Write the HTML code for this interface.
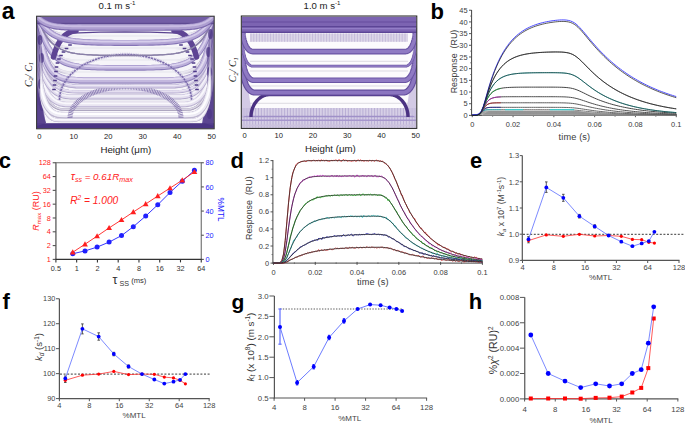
<!DOCTYPE html>
<html><head><meta charset="utf-8"><title>Figure</title>
<style>html,body{margin:0;padding:0;background:#fff;}body{width:685px;height:424px;overflow:hidden;font-family:"Liberation Sans", sans-serif;}svg{display:block;}</style>
</head><body>
<svg width="685" height="424" viewBox="0 0 685 424">
<rect width="685" height="424" fill="#fff"/>
<text x="1.80" y="18.90" font-family="Liberation Sans" font-size="23" font-weight="bold" font-style="normal" text-anchor="start" fill="#000" >a</text>
<text x="430.60" y="18.90" font-family="Liberation Sans" font-size="22" font-weight="bold" font-style="normal" text-anchor="start" fill="#000" >b</text>
<text x="-1.20" y="167.70" font-family="Liberation Sans" font-size="22" font-weight="bold" font-style="normal" text-anchor="start" fill="#000" >c</text>
<text x="230.60" y="167.70" font-family="Liberation Sans" font-size="22" font-weight="bold" font-style="normal" text-anchor="start" fill="#000" >d</text>
<text x="470.00" y="167.50" font-family="Liberation Sans" font-size="22" font-weight="bold" font-style="normal" text-anchor="start" fill="#000" >e</text>
<text x="2.60" y="308.80" font-family="Liberation Sans" font-size="22" font-weight="bold" font-style="normal" text-anchor="start" fill="#000" >f</text>
<text x="231.50" y="308.60" font-family="Liberation Sans" font-size="21" font-weight="bold" font-style="normal" text-anchor="start" fill="#000" >g</text>
<text x="468.80" y="309.40" font-family="Liberation Sans" font-size="22" font-weight="bold" font-style="normal" text-anchor="start" fill="#000" >h</text>
<clipPath id="ca1"><rect x="37" y="16.6" width="176.8" height="111.8"/></clipPath>
<g clip-path="url(#ca1)">
<rect x="37" y="16.6" width="177" height="112" fill="#f6f5f9"/>
<line x1="58" y1="36" x2="192" y2="36" stroke="#dcdae2" stroke-width="0.6"/>
<line x1="58" y1="48" x2="192" y2="48" stroke="#dcdae2" stroke-width="0.6"/>
<line x1="58" y1="60" x2="192" y2="60" stroke="#dcdae2" stroke-width="0.6"/>
<line x1="58" y1="72" x2="192" y2="72" stroke="#dcdae2" stroke-width="0.6"/>
<line x1="58" y1="86" x2="192" y2="86" stroke="#dcdae2" stroke-width="0.6"/>
<line x1="58" y1="92" x2="192" y2="92" stroke="#dcdae2" stroke-width="0.6"/>
<line x1="58" y1="100" x2="192" y2="100" stroke="#dcdae2" stroke-width="0.6"/>
<line x1="58" y1="106" x2="192" y2="106" stroke="#dcdae2" stroke-width="0.6"/>
<path d="M37,66 C39,74 42,80 42,94 C42,106 43,114 46,123 L37,128 Z" fill="#5a4490"/>
<path d="M214,24 C209,34 205,46 206.5,66 C208,88 205,106 202,124 L214,128 Z" fill="#5e4894"/>
<ellipse cx="40.5" cy="100" rx="3" ry="6" fill="#4e3886"/>
<ellipse cx="209" cy="50" rx="3.2" ry="5" fill="#4e3886"/>
<ellipse cx="209.5" cy="88" rx="3" ry="6" fill="#4e3886"/>
<rect x="37" y="123.2" width="177" height="6" fill="#4a3484"/>
<path d="M72.00,33.20 L100.00,32.20 L125.00,31.90 L150.00,32.20 L178.00,33.20" fill="none" stroke="#5a4390" stroke-width="1.3" opacity="1.0"/>
<linearGradient id="fadeG" gradientUnits="userSpaceOnUse" x1="37" y1="0" x2="214" y2="0"><stop offset="0" stop-color="#fff"/><stop offset="0.09" stop-color="#fff"/><stop offset="0.22" stop-color="#000"/><stop offset="0.78" stop-color="#000"/><stop offset="0.91" stop-color="#fff"/><stop offset="1" stop-color="#fff"/></linearGradient>
<mask id="fadeM" maskUnits="userSpaceOnUse" x="30" y="10" width="190" height="125"><rect x="30" y="10" width="190" height="125" fill="url(#fadeG)"/></mask>
<g mask="url(#fadeM)">
<path d="M37.40,17.00 L37.52,17.22 L37.81,17.71 L38.21,18.38 L38.72,19.20 L39.32,20.13 L40.02,21.14 L40.81,22.20 L41.68,23.28 L42.63,24.38 L43.65,25.45 L44.75,26.51 L45.92,27.52 L47.17,28.48 L48.48,29.38 L49.86,30.22 L51.30,30.99 L52.81,31.70 L54.38,32.34 L56.02,32.91 L57.71,33.42 L59.47,33.88 L61.29,34.28 L63.16,34.63 L65.09,34.93 L67.09,35.19 L69.13,35.41 L71.23,35.60 L73.39,35.76 L75.60,35.90 L77.87,36.01 L80.19,36.10 L82.56,36.18 L84.99,36.24 L87.47,36.29 L90.00,36.34 L92.58,36.37 L95.21,36.40 L97.89,36.42 L100.62,36.44 L103.40,36.45 L147.40,36.45 L150.18,36.44 L152.91,36.42 L155.59,36.40 L158.22,36.37 L160.80,36.34 L163.33,36.29 L165.81,36.24 L168.24,36.18 L170.61,36.10 L172.93,36.01 L175.20,35.90 L177.41,35.76 L179.57,35.60 L181.67,35.41 L183.71,35.19 L185.71,34.93 L187.64,34.63 L189.51,34.28 L191.33,33.88 L193.09,33.42 L194.78,32.91 L196.42,32.34 L197.99,31.70 L199.50,30.99 L200.94,30.22 L202.32,29.38 L203.63,28.48 L204.88,27.52 L206.05,26.51 L207.15,25.45 L208.17,24.38 L209.12,23.28 L209.99,22.20 L210.78,21.14 L211.48,20.13 L212.08,19.20 L212.59,18.38 L212.99,17.71 L213.28,17.22 L213.40,17.00" fill="none" stroke="#a69dbb" stroke-width="3.0" stroke-linejoin="round" opacity="0.85"/>
<path d="M37.40,17.00 L37.52,17.22 L37.81,17.71 L38.21,18.38 L38.72,19.20 L39.32,20.13 L40.02,21.14 L40.81,22.20 L41.68,23.28 L42.63,24.38 L43.65,25.45 L44.75,26.51 L45.92,27.52 L47.17,28.48 L48.48,29.38 L49.86,30.22 L51.30,30.99 L52.81,31.70 L54.38,32.34 L56.02,32.91 L57.71,33.42 L59.47,33.88 L61.29,34.28 L63.16,34.63 L65.09,34.93 L67.09,35.19 L69.13,35.41 L71.23,35.60 L73.39,35.76 L75.60,35.90 L77.87,36.01 L80.19,36.10 L82.56,36.18 L84.99,36.24 L87.47,36.29 L90.00,36.34 L92.58,36.37 L95.21,36.40 L97.89,36.42 L100.62,36.44 L103.40,36.45 L147.40,36.45 L150.18,36.44 L152.91,36.42 L155.59,36.40 L158.22,36.37 L160.80,36.34 L163.33,36.29 L165.81,36.24 L168.24,36.18 L170.61,36.10 L172.93,36.01 L175.20,35.90 L177.41,35.76 L179.57,35.60 L181.67,35.41 L183.71,35.19 L185.71,34.93 L187.64,34.63 L189.51,34.28 L191.33,33.88 L193.09,33.42 L194.78,32.91 L196.42,32.34 L197.99,31.70 L199.50,30.99 L200.94,30.22 L202.32,29.38 L203.63,28.48 L204.88,27.52 L206.05,26.51 L207.15,25.45 L208.17,24.38 L209.12,23.28 L209.99,22.20 L210.78,21.14 L211.48,20.13 L212.08,19.20 L212.59,18.38 L212.99,17.71 L213.28,17.22 L213.40,17.00" fill="none" stroke="#d8d2e4" stroke-width="2.34" stroke-linejoin="round" opacity="0.85" transform="translate(0,-0.24)"/>
<path d="M37.40,17.00 L37.52,17.22 L37.81,17.71 L38.21,18.38 L38.72,19.20 L39.32,20.13 L40.02,21.14 L40.81,22.20 L41.68,23.28 L42.63,24.38 L43.65,25.45 L44.75,26.51 L45.92,27.52 L47.17,28.48 L48.48,29.38 L49.86,30.22 L51.30,30.99 L52.81,31.70 L54.38,32.34 L56.02,32.91 L57.71,33.42 L59.47,33.88 L61.29,34.28 L63.16,34.63 L65.09,34.93 L67.09,35.19 L69.13,35.41 L71.23,35.60 L73.39,35.76 L75.60,35.90 L77.87,36.01 L80.19,36.10 L82.56,36.18 L84.99,36.24 L87.47,36.29 L90.00,36.34 L92.58,36.37 L95.21,36.40 L97.89,36.42 L100.62,36.44 L103.40,36.45 L147.40,36.45 L150.18,36.44 L152.91,36.42 L155.59,36.40 L158.22,36.37 L160.80,36.34 L163.33,36.29 L165.81,36.24 L168.24,36.18 L170.61,36.10 L172.93,36.01 L175.20,35.90 L177.41,35.76 L179.57,35.60 L181.67,35.41 L183.71,35.19 L185.71,34.93 L187.64,34.63 L189.51,34.28 L191.33,33.88 L193.09,33.42 L194.78,32.91 L196.42,32.34 L197.99,31.70 L199.50,30.99 L200.94,30.22 L202.32,29.38 L203.63,28.48 L204.88,27.52 L206.05,26.51 L207.15,25.45 L208.17,24.38 L209.12,23.28 L209.99,22.20 L210.78,21.14 L211.48,20.13 L212.08,19.20 L212.59,18.38 L212.99,17.71 L213.28,17.22 L213.40,17.00" fill="none" stroke="#ebe8f2" stroke-width="0.90" stroke-linejoin="round" opacity="0.85" transform="translate(0,-0.60)"/>
<path d="M37.40,17.00 L37.51,17.37 L37.77,18.18 L38.13,19.30 L38.60,20.67 L39.15,22.22 L39.79,23.90 L40.50,25.66 L41.29,27.47 L42.15,29.29 L43.08,31.09 L44.08,32.84 L45.15,34.53 L46.28,36.13 L47.47,37.63 L48.72,39.03 L50.04,40.32 L51.41,41.49 L52.84,42.56 L54.33,43.52 L55.87,44.37 L57.46,45.13 L59.12,45.79 L60.82,46.38 L62.58,46.88 L64.39,47.31 L66.25,47.68 L68.16,48.00 L70.12,48.27 L72.13,48.49 L74.19,48.68 L76.30,48.84 L78.46,48.96 L80.66,49.07 L82.92,49.16 L85.22,49.23 L87.56,49.28 L89.95,49.33 L92.39,49.37 L94.87,49.40 L97.40,49.42 L153.40,49.42 L155.93,49.40 L158.41,49.37 L160.85,49.33 L163.24,49.28 L165.58,49.23 L167.88,49.16 L170.14,49.07 L172.34,48.96 L174.50,48.84 L176.61,48.68 L178.67,48.49 L180.68,48.27 L182.64,48.00 L184.55,47.68 L186.41,47.31 L188.22,46.88 L189.98,46.38 L191.68,45.79 L193.34,45.13 L194.93,44.37 L196.47,43.52 L197.96,42.56 L199.39,41.49 L200.76,40.32 L202.08,39.03 L203.33,37.63 L204.52,36.13 L205.65,34.53 L206.72,32.84 L207.72,31.09 L208.65,29.29 L209.51,27.47 L210.30,25.66 L211.01,23.90 L211.65,22.22 L212.20,20.67 L212.67,19.30 L213.03,18.18 L213.29,17.37 L213.40,17.00" fill="none" stroke="#a69dbb" stroke-width="3.0" stroke-linejoin="round" opacity="0.85"/>
<path d="M37.40,17.00 L37.51,17.37 L37.77,18.18 L38.13,19.30 L38.60,20.67 L39.15,22.22 L39.79,23.90 L40.50,25.66 L41.29,27.47 L42.15,29.29 L43.08,31.09 L44.08,32.84 L45.15,34.53 L46.28,36.13 L47.47,37.63 L48.72,39.03 L50.04,40.32 L51.41,41.49 L52.84,42.56 L54.33,43.52 L55.87,44.37 L57.46,45.13 L59.12,45.79 L60.82,46.38 L62.58,46.88 L64.39,47.31 L66.25,47.68 L68.16,48.00 L70.12,48.27 L72.13,48.49 L74.19,48.68 L76.30,48.84 L78.46,48.96 L80.66,49.07 L82.92,49.16 L85.22,49.23 L87.56,49.28 L89.95,49.33 L92.39,49.37 L94.87,49.40 L97.40,49.42 L153.40,49.42 L155.93,49.40 L158.41,49.37 L160.85,49.33 L163.24,49.28 L165.58,49.23 L167.88,49.16 L170.14,49.07 L172.34,48.96 L174.50,48.84 L176.61,48.68 L178.67,48.49 L180.68,48.27 L182.64,48.00 L184.55,47.68 L186.41,47.31 L188.22,46.88 L189.98,46.38 L191.68,45.79 L193.34,45.13 L194.93,44.37 L196.47,43.52 L197.96,42.56 L199.39,41.49 L200.76,40.32 L202.08,39.03 L203.33,37.63 L204.52,36.13 L205.65,34.53 L206.72,32.84 L207.72,31.09 L208.65,29.29 L209.51,27.47 L210.30,25.66 L211.01,23.90 L211.65,22.22 L212.20,20.67 L212.67,19.30 L213.03,18.18 L213.29,17.37 L213.40,17.00" fill="none" stroke="#d8d2e4" stroke-width="2.34" stroke-linejoin="round" opacity="0.85" transform="translate(0,-0.24)"/>
<path d="M37.40,17.00 L37.51,17.37 L37.77,18.18 L38.13,19.30 L38.60,20.67 L39.15,22.22 L39.79,23.90 L40.50,25.66 L41.29,27.47 L42.15,29.29 L43.08,31.09 L44.08,32.84 L45.15,34.53 L46.28,36.13 L47.47,37.63 L48.72,39.03 L50.04,40.32 L51.41,41.49 L52.84,42.56 L54.33,43.52 L55.87,44.37 L57.46,45.13 L59.12,45.79 L60.82,46.38 L62.58,46.88 L64.39,47.31 L66.25,47.68 L68.16,48.00 L70.12,48.27 L72.13,48.49 L74.19,48.68 L76.30,48.84 L78.46,48.96 L80.66,49.07 L82.92,49.16 L85.22,49.23 L87.56,49.28 L89.95,49.33 L92.39,49.37 L94.87,49.40 L97.40,49.42 L153.40,49.42 L155.93,49.40 L158.41,49.37 L160.85,49.33 L163.24,49.28 L165.58,49.23 L167.88,49.16 L170.14,49.07 L172.34,48.96 L174.50,48.84 L176.61,48.68 L178.67,48.49 L180.68,48.27 L182.64,48.00 L184.55,47.68 L186.41,47.31 L188.22,46.88 L189.98,46.38 L191.68,45.79 L193.34,45.13 L194.93,44.37 L196.47,43.52 L197.96,42.56 L199.39,41.49 L200.76,40.32 L202.08,39.03 L203.33,37.63 L204.52,36.13 L205.65,34.53 L206.72,32.84 L207.72,31.09 L208.65,29.29 L209.51,27.47 L210.30,25.66 L211.01,23.90 L211.65,22.22 L212.20,20.67 L212.67,19.30 L213.03,18.18 L213.29,17.37 L213.40,17.00" fill="none" stroke="#ebe8f2" stroke-width="0.90" stroke-linejoin="round" opacity="0.85" transform="translate(0,-0.60)"/>
<path d="M37.40,17.00 L37.50,17.50 L37.73,18.61 L38.06,20.15 L38.48,22.02 L38.97,24.14 L39.55,26.44 L40.19,28.86 L40.90,31.34 L41.68,33.83 L42.52,36.29 L43.42,38.69 L44.37,41.00 L45.39,43.19 L46.46,45.24 L47.59,47.16 L48.77,48.92 L50.01,50.54 L51.29,52.00 L52.63,53.31 L54.02,54.48 L55.46,55.52 L56.94,56.43 L58.48,57.22 L60.06,57.91 L61.69,58.51 L63.36,59.01 L65.08,59.45 L66.85,59.81 L68.66,60.12 L70.51,60.38 L72.41,60.59 L74.35,60.77 L76.34,60.91 L78.36,61.03 L80.43,61.13 L82.54,61.20 L84.70,61.27 L86.89,61.32 L89.13,61.36 L91.40,61.39 L159.40,61.39 L161.67,61.36 L163.91,61.32 L166.10,61.27 L168.26,61.20 L170.37,61.13 L172.44,61.03 L174.46,60.91 L176.45,60.77 L178.39,60.59 L180.29,60.38 L182.14,60.12 L183.95,59.81 L185.72,59.45 L187.44,59.01 L189.11,58.51 L190.74,57.91 L192.32,57.22 L193.86,56.43 L195.34,55.52 L196.78,54.48 L198.17,53.31 L199.51,52.00 L200.79,50.54 L202.03,48.92 L203.21,47.16 L204.34,45.24 L205.41,43.19 L206.43,41.00 L207.38,38.69 L208.28,36.29 L209.12,33.83 L209.90,31.34 L210.61,28.86 L211.25,26.44 L211.83,24.14 L212.32,22.02 L212.74,20.15 L213.07,18.61 L213.30,17.50 L213.40,17.00" fill="none" stroke="#a69dbb" stroke-width="3.2" stroke-linejoin="round" opacity="0.85"/>
<path d="M37.40,17.00 L37.50,17.50 L37.73,18.61 L38.06,20.15 L38.48,22.02 L38.97,24.14 L39.55,26.44 L40.19,28.86 L40.90,31.34 L41.68,33.83 L42.52,36.29 L43.42,38.69 L44.37,41.00 L45.39,43.19 L46.46,45.24 L47.59,47.16 L48.77,48.92 L50.01,50.54 L51.29,52.00 L52.63,53.31 L54.02,54.48 L55.46,55.52 L56.94,56.43 L58.48,57.22 L60.06,57.91 L61.69,58.51 L63.36,59.01 L65.08,59.45 L66.85,59.81 L68.66,60.12 L70.51,60.38 L72.41,60.59 L74.35,60.77 L76.34,60.91 L78.36,61.03 L80.43,61.13 L82.54,61.20 L84.70,61.27 L86.89,61.32 L89.13,61.36 L91.40,61.39 L159.40,61.39 L161.67,61.36 L163.91,61.32 L166.10,61.27 L168.26,61.20 L170.37,61.13 L172.44,61.03 L174.46,60.91 L176.45,60.77 L178.39,60.59 L180.29,60.38 L182.14,60.12 L183.95,59.81 L185.72,59.45 L187.44,59.01 L189.11,58.51 L190.74,57.91 L192.32,57.22 L193.86,56.43 L195.34,55.52 L196.78,54.48 L198.17,53.31 L199.51,52.00 L200.79,50.54 L202.03,48.92 L203.21,47.16 L204.34,45.24 L205.41,43.19 L206.43,41.00 L207.38,38.69 L208.28,36.29 L209.12,33.83 L209.90,31.34 L210.61,28.86 L211.25,26.44 L211.83,24.14 L212.32,22.02 L212.74,20.15 L213.07,18.61 L213.30,17.50 L213.40,17.00" fill="none" stroke="#d8d2e4" stroke-width="2.50" stroke-linejoin="round" opacity="0.85" transform="translate(0,-0.26)"/>
<path d="M37.40,17.00 L37.50,17.50 L37.73,18.61 L38.06,20.15 L38.48,22.02 L38.97,24.14 L39.55,26.44 L40.19,28.86 L40.90,31.34 L41.68,33.83 L42.52,36.29 L43.42,38.69 L44.37,41.00 L45.39,43.19 L46.46,45.24 L47.59,47.16 L48.77,48.92 L50.01,50.54 L51.29,52.00 L52.63,53.31 L54.02,54.48 L55.46,55.52 L56.94,56.43 L58.48,57.22 L60.06,57.91 L61.69,58.51 L63.36,59.01 L65.08,59.45 L66.85,59.81 L68.66,60.12 L70.51,60.38 L72.41,60.59 L74.35,60.77 L76.34,60.91 L78.36,61.03 L80.43,61.13 L82.54,61.20 L84.70,61.27 L86.89,61.32 L89.13,61.36 L91.40,61.39 L159.40,61.39 L161.67,61.36 L163.91,61.32 L166.10,61.27 L168.26,61.20 L170.37,61.13 L172.44,61.03 L174.46,60.91 L176.45,60.77 L178.39,60.59 L180.29,60.38 L182.14,60.12 L183.95,59.81 L185.72,59.45 L187.44,59.01 L189.11,58.51 L190.74,57.91 L192.32,57.22 L193.86,56.43 L195.34,55.52 L196.78,54.48 L198.17,53.31 L199.51,52.00 L200.79,50.54 L202.03,48.92 L203.21,47.16 L204.34,45.24 L205.41,43.19 L206.43,41.00 L207.38,38.69 L208.28,36.29 L209.12,33.83 L209.90,31.34 L210.61,28.86 L211.25,26.44 L211.83,24.14 L212.32,22.02 L212.74,20.15 L213.07,18.61 L213.30,17.50 L213.40,17.00" fill="none" stroke="#ebe8f2" stroke-width="0.96" stroke-linejoin="round" opacity="0.85" transform="translate(0,-0.64)"/>
<path d="M37.40,17.00 L37.49,17.64 L37.69,19.06 L37.99,21.03 L38.36,23.43 L38.80,26.15 L39.31,29.10 L39.88,32.19 L40.51,35.37 L41.20,38.56 L41.95,41.71 L42.75,44.79 L43.60,47.74 L44.50,50.54 L45.46,53.18 L46.46,55.63 L47.51,57.89 L48.61,59.96 L49.75,61.83 L50.94,63.51 L52.17,65.01 L53.45,66.34 L54.77,67.50 L56.14,68.52 L57.54,69.40 L58.99,70.16 L60.48,70.82 L62.01,71.37 L63.58,71.84 L65.19,72.23 L66.83,72.56 L68.52,72.83 L70.25,73.06 L72.01,73.25 L73.81,73.40 L75.65,73.52 L77.53,73.62 L79.44,73.70 L81.39,73.77 L83.38,73.82 L85.40,73.86 L165.40,73.86 L167.42,73.82 L169.41,73.77 L171.36,73.70 L173.27,73.62 L175.15,73.52 L176.99,73.40 L178.79,73.25 L180.55,73.06 L182.28,72.83 L183.97,72.56 L185.61,72.23 L187.22,71.84 L188.79,71.37 L190.32,70.82 L191.81,70.16 L193.26,69.40 L194.66,68.52 L196.03,67.50 L197.35,66.34 L198.63,65.01 L199.86,63.51 L201.05,61.83 L202.19,59.96 L203.29,57.89 L204.34,55.63 L205.34,53.18 L206.30,50.54 L207.20,47.74 L208.05,44.79 L208.85,41.71 L209.60,38.56 L210.29,35.37 L210.92,32.19 L211.49,29.10 L212.00,26.15 L212.44,23.43 L212.81,21.03 L213.11,19.06 L213.31,17.64 L213.40,17.00" fill="none" stroke="#a69dbb" stroke-width="3.4" stroke-linejoin="round" opacity="0.85"/>
<path d="M37.40,17.00 L37.49,17.64 L37.69,19.06 L37.99,21.03 L38.36,23.43 L38.80,26.15 L39.31,29.10 L39.88,32.19 L40.51,35.37 L41.20,38.56 L41.95,41.71 L42.75,44.79 L43.60,47.74 L44.50,50.54 L45.46,53.18 L46.46,55.63 L47.51,57.89 L48.61,59.96 L49.75,61.83 L50.94,63.51 L52.17,65.01 L53.45,66.34 L54.77,67.50 L56.14,68.52 L57.54,69.40 L58.99,70.16 L60.48,70.82 L62.01,71.37 L63.58,71.84 L65.19,72.23 L66.83,72.56 L68.52,72.83 L70.25,73.06 L72.01,73.25 L73.81,73.40 L75.65,73.52 L77.53,73.62 L79.44,73.70 L81.39,73.77 L83.38,73.82 L85.40,73.86 L165.40,73.86 L167.42,73.82 L169.41,73.77 L171.36,73.70 L173.27,73.62 L175.15,73.52 L176.99,73.40 L178.79,73.25 L180.55,73.06 L182.28,72.83 L183.97,72.56 L185.61,72.23 L187.22,71.84 L188.79,71.37 L190.32,70.82 L191.81,70.16 L193.26,69.40 L194.66,68.52 L196.03,67.50 L197.35,66.34 L198.63,65.01 L199.86,63.51 L201.05,61.83 L202.19,59.96 L203.29,57.89 L204.34,55.63 L205.34,53.18 L206.30,50.54 L207.20,47.74 L208.05,44.79 L208.85,41.71 L209.60,38.56 L210.29,35.37 L210.92,32.19 L211.49,29.10 L212.00,26.15 L212.44,23.43 L212.81,21.03 L213.11,19.06 L213.31,17.64 L213.40,17.00" fill="none" stroke="#d8d2e4" stroke-width="2.65" stroke-linejoin="round" opacity="0.85" transform="translate(0,-0.27)"/>
<path d="M37.40,17.00 L37.49,17.64 L37.69,19.06 L37.99,21.03 L38.36,23.43 L38.80,26.15 L39.31,29.10 L39.88,32.19 L40.51,35.37 L41.20,38.56 L41.95,41.71 L42.75,44.79 L43.60,47.74 L44.50,50.54 L45.46,53.18 L46.46,55.63 L47.51,57.89 L48.61,59.96 L49.75,61.83 L50.94,63.51 L52.17,65.01 L53.45,66.34 L54.77,67.50 L56.14,68.52 L57.54,69.40 L58.99,70.16 L60.48,70.82 L62.01,71.37 L63.58,71.84 L65.19,72.23 L66.83,72.56 L68.52,72.83 L70.25,73.06 L72.01,73.25 L73.81,73.40 L75.65,73.52 L77.53,73.62 L79.44,73.70 L81.39,73.77 L83.38,73.82 L85.40,73.86 L165.40,73.86 L167.42,73.82 L169.41,73.77 L171.36,73.70 L173.27,73.62 L175.15,73.52 L176.99,73.40 L178.79,73.25 L180.55,73.06 L182.28,72.83 L183.97,72.56 L185.61,72.23 L187.22,71.84 L188.79,71.37 L190.32,70.82 L191.81,70.16 L193.26,69.40 L194.66,68.52 L196.03,67.50 L197.35,66.34 L198.63,65.01 L199.86,63.51 L201.05,61.83 L202.19,59.96 L203.29,57.89 L204.34,55.63 L205.34,53.18 L206.30,50.54 L207.20,47.74 L208.05,44.79 L208.85,41.71 L209.60,38.56 L210.29,35.37 L210.92,32.19 L211.49,29.10 L212.00,26.15 L212.44,23.43 L212.81,21.03 L213.11,19.06 L213.31,17.64 L213.40,17.00" fill="none" stroke="#ebe8f2" stroke-width="1.02" stroke-linejoin="round" opacity="0.85" transform="translate(0,-0.68)"/>
<path d="M37.40,17.00 L37.48,17.78 L37.66,19.51 L37.91,21.92 L38.24,24.84 L38.62,28.15 L39.07,31.75 L39.57,35.52 L40.12,39.40 L40.73,43.29 L41.38,47.13 L42.08,50.88 L42.82,54.48 L43.62,57.90 L44.45,61.11 L45.33,64.10 L46.25,66.86 L47.21,69.38 L48.21,71.66 L49.25,73.71 L50.33,75.54 L51.44,77.15 L52.60,78.58 L53.79,79.82 L55.02,80.90 L56.29,81.82 L57.59,82.62 L58.93,83.29 L60.30,83.86 L61.71,84.34 L63.15,84.75 L64.63,85.08 L66.14,85.35 L67.68,85.58 L69.26,85.77 L70.87,85.92 L72.51,86.04 L74.19,86.14 L75.89,86.22 L77.63,86.28 L79.40,86.33 L171.40,86.33 L173.17,86.28 L174.91,86.22 L176.61,86.14 L178.29,86.04 L179.93,85.92 L181.54,85.77 L183.12,85.58 L184.66,85.35 L186.17,85.08 L187.65,84.75 L189.09,84.34 L190.50,83.86 L191.87,83.29 L193.21,82.62 L194.51,81.82 L195.78,80.90 L197.01,79.82 L198.20,78.58 L199.36,77.15 L200.47,75.54 L201.55,73.71 L202.59,71.66 L203.59,69.38 L204.55,66.86 L205.47,64.10 L206.35,61.11 L207.18,57.90 L207.98,54.48 L208.72,50.88 L209.42,47.13 L210.07,43.29 L210.68,39.40 L211.23,35.52 L211.73,31.75 L212.18,28.15 L212.56,24.84 L212.89,21.92 L213.14,19.51 L213.32,17.78 L213.40,17.00" fill="none" stroke="#a69dbb" stroke-width="3.4" stroke-linejoin="round" opacity="0.85"/>
<path d="M37.40,17.00 L37.48,17.78 L37.66,19.51 L37.91,21.92 L38.24,24.84 L38.62,28.15 L39.07,31.75 L39.57,35.52 L40.12,39.40 L40.73,43.29 L41.38,47.13 L42.08,50.88 L42.82,54.48 L43.62,57.90 L44.45,61.11 L45.33,64.10 L46.25,66.86 L47.21,69.38 L48.21,71.66 L49.25,73.71 L50.33,75.54 L51.44,77.15 L52.60,78.58 L53.79,79.82 L55.02,80.90 L56.29,81.82 L57.59,82.62 L58.93,83.29 L60.30,83.86 L61.71,84.34 L63.15,84.75 L64.63,85.08 L66.14,85.35 L67.68,85.58 L69.26,85.77 L70.87,85.92 L72.51,86.04 L74.19,86.14 L75.89,86.22 L77.63,86.28 L79.40,86.33 L171.40,86.33 L173.17,86.28 L174.91,86.22 L176.61,86.14 L178.29,86.04 L179.93,85.92 L181.54,85.77 L183.12,85.58 L184.66,85.35 L186.17,85.08 L187.65,84.75 L189.09,84.34 L190.50,83.86 L191.87,83.29 L193.21,82.62 L194.51,81.82 L195.78,80.90 L197.01,79.82 L198.20,78.58 L199.36,77.15 L200.47,75.54 L201.55,73.71 L202.59,71.66 L203.59,69.38 L204.55,66.86 L205.47,64.10 L206.35,61.11 L207.18,57.90 L207.98,54.48 L208.72,50.88 L209.42,47.13 L210.07,43.29 L210.68,39.40 L211.23,35.52 L211.73,31.75 L212.18,28.15 L212.56,24.84 L212.89,21.92 L213.14,19.51 L213.32,17.78 L213.40,17.00" fill="none" stroke="#d8d2e4" stroke-width="2.65" stroke-linejoin="round" opacity="0.85" transform="translate(0,-0.27)"/>
<path d="M37.40,17.00 L37.48,17.78 L37.66,19.51 L37.91,21.92 L38.24,24.84 L38.62,28.15 L39.07,31.75 L39.57,35.52 L40.12,39.40 L40.73,43.29 L41.38,47.13 L42.08,50.88 L42.82,54.48 L43.62,57.90 L44.45,61.11 L45.33,64.10 L46.25,66.86 L47.21,69.38 L48.21,71.66 L49.25,73.71 L50.33,75.54 L51.44,77.15 L52.60,78.58 L53.79,79.82 L55.02,80.90 L56.29,81.82 L57.59,82.62 L58.93,83.29 L60.30,83.86 L61.71,84.34 L63.15,84.75 L64.63,85.08 L66.14,85.35 L67.68,85.58 L69.26,85.77 L70.87,85.92 L72.51,86.04 L74.19,86.14 L75.89,86.22 L77.63,86.28 L79.40,86.33 L171.40,86.33 L173.17,86.28 L174.91,86.22 L176.61,86.14 L178.29,86.04 L179.93,85.92 L181.54,85.77 L183.12,85.58 L184.66,85.35 L186.17,85.08 L187.65,84.75 L189.09,84.34 L190.50,83.86 L191.87,83.29 L193.21,82.62 L194.51,81.82 L195.78,80.90 L197.01,79.82 L198.20,78.58 L199.36,77.15 L200.47,75.54 L201.55,73.71 L202.59,71.66 L203.59,69.38 L204.55,66.86 L205.47,64.10 L206.35,61.11 L207.18,57.90 L207.98,54.48 L208.72,50.88 L209.42,47.13 L210.07,43.29 L210.68,39.40 L211.23,35.52 L211.73,31.75 L212.18,28.15 L212.56,24.84 L212.89,21.92 L213.14,19.51 L213.32,17.78 L213.40,17.00" fill="none" stroke="#ebe8f2" stroke-width="1.02" stroke-linejoin="round" opacity="0.85" transform="translate(0,-0.68)"/>
<path d="M37.40,17.00 L37.47,17.91 L37.64,19.91 L37.88,22.70 L38.18,26.08 L38.54,29.92 L38.95,34.08 L39.41,38.46 L39.93,42.94 L40.49,47.45 L41.09,51.90 L41.74,56.24 L42.44,60.41 L43.17,64.37 L43.95,68.09 L44.76,71.56 L45.61,74.75 L46.51,77.67 L47.44,80.31 L48.40,82.68 L49.40,84.80 L50.44,86.68 L51.52,88.32 L52.62,89.76 L53.77,91.01 L54.94,92.08 L56.15,93.00 L57.39,93.78 L58.67,94.45 L59.98,95.00 L61.31,95.47 L62.69,95.85 L64.09,96.17 L65.52,96.44 L66.99,96.65 L68.48,96.83 L70.00,96.97 L71.56,97.08 L73.14,97.17 L74.76,97.24 L76.40,97.30 L174.40,97.30 L176.04,97.24 L177.66,97.17 L179.24,97.08 L180.80,96.97 L182.32,96.83 L183.81,96.65 L185.28,96.44 L186.71,96.17 L188.11,95.85 L189.49,95.47 L190.82,95.00 L192.13,94.45 L193.41,93.78 L194.65,93.00 L195.86,92.08 L197.03,91.01 L198.18,89.76 L199.28,88.32 L200.36,86.68 L201.40,84.80 L202.40,82.68 L203.36,80.31 L204.29,77.67 L205.19,74.75 L206.04,71.56 L206.85,68.09 L207.63,64.37 L208.36,60.41 L209.06,56.24 L209.71,51.90 L210.31,47.45 L210.87,42.94 L211.39,38.46 L211.85,34.08 L212.26,29.92 L212.62,26.08 L212.92,22.70 L213.16,19.91 L213.33,17.91 L213.40,17.00" fill="none" stroke="#a69dbb" stroke-width="3.6" stroke-linejoin="round" opacity="0.85"/>
<path d="M37.40,17.00 L37.47,17.91 L37.64,19.91 L37.88,22.70 L38.18,26.08 L38.54,29.92 L38.95,34.08 L39.41,38.46 L39.93,42.94 L40.49,47.45 L41.09,51.90 L41.74,56.24 L42.44,60.41 L43.17,64.37 L43.95,68.09 L44.76,71.56 L45.61,74.75 L46.51,77.67 L47.44,80.31 L48.40,82.68 L49.40,84.80 L50.44,86.68 L51.52,88.32 L52.62,89.76 L53.77,91.01 L54.94,92.08 L56.15,93.00 L57.39,93.78 L58.67,94.45 L59.98,95.00 L61.31,95.47 L62.69,95.85 L64.09,96.17 L65.52,96.44 L66.99,96.65 L68.48,96.83 L70.00,96.97 L71.56,97.08 L73.14,97.17 L74.76,97.24 L76.40,97.30 L174.40,97.30 L176.04,97.24 L177.66,97.17 L179.24,97.08 L180.80,96.97 L182.32,96.83 L183.81,96.65 L185.28,96.44 L186.71,96.17 L188.11,95.85 L189.49,95.47 L190.82,95.00 L192.13,94.45 L193.41,93.78 L194.65,93.00 L195.86,92.08 L197.03,91.01 L198.18,89.76 L199.28,88.32 L200.36,86.68 L201.40,84.80 L202.40,82.68 L203.36,80.31 L204.29,77.67 L205.19,74.75 L206.04,71.56 L206.85,68.09 L207.63,64.37 L208.36,60.41 L209.06,56.24 L209.71,51.90 L210.31,47.45 L210.87,42.94 L211.39,38.46 L211.85,34.08 L212.26,29.92 L212.62,26.08 L212.92,22.70 L213.16,19.91 L213.33,17.91 L213.40,17.00" fill="none" stroke="#d8d2e4" stroke-width="2.81" stroke-linejoin="round" opacity="0.85" transform="translate(0,-0.29)"/>
<path d="M37.40,17.00 L37.47,17.91 L37.64,19.91 L37.88,22.70 L38.18,26.08 L38.54,29.92 L38.95,34.08 L39.41,38.46 L39.93,42.94 L40.49,47.45 L41.09,51.90 L41.74,56.24 L42.44,60.41 L43.17,64.37 L43.95,68.09 L44.76,71.56 L45.61,74.75 L46.51,77.67 L47.44,80.31 L48.40,82.68 L49.40,84.80 L50.44,86.68 L51.52,88.32 L52.62,89.76 L53.77,91.01 L54.94,92.08 L56.15,93.00 L57.39,93.78 L58.67,94.45 L59.98,95.00 L61.31,95.47 L62.69,95.85 L64.09,96.17 L65.52,96.44 L66.99,96.65 L68.48,96.83 L70.00,96.97 L71.56,97.08 L73.14,97.17 L74.76,97.24 L76.40,97.30 L174.40,97.30 L176.04,97.24 L177.66,97.17 L179.24,97.08 L180.80,96.97 L182.32,96.83 L183.81,96.65 L185.28,96.44 L186.71,96.17 L188.11,95.85 L189.49,95.47 L190.82,95.00 L192.13,94.45 L193.41,93.78 L194.65,93.00 L195.86,92.08 L197.03,91.01 L198.18,89.76 L199.28,88.32 L200.36,86.68 L201.40,84.80 L202.40,82.68 L203.36,80.31 L204.29,77.67 L205.19,74.75 L206.04,71.56 L206.85,68.09 L207.63,64.37 L208.36,60.41 L209.06,56.24 L209.71,51.90 L210.31,47.45 L210.87,42.94 L211.39,38.46 L211.85,34.08 L212.26,29.92 L212.62,26.08 L212.92,22.70 L213.16,19.91 L213.33,17.91 L213.40,17.00" fill="none" stroke="#ebe8f2" stroke-width="1.08" stroke-linejoin="round" opacity="0.85" transform="translate(0,-0.72)"/>
</g>
<path d="M37.40,17.00 L37.43,35.80 L37.53,45.96 L37.69,54.23 L37.91,61.43 L38.20,67.87 L38.56,73.73 L38.98,79.10 L39.46,84.05 L40.01,88.61 L40.63,92.82 L41.32,96.70 L42.07,100.26 L42.90,103.52 L43.80,106.47 L44.78,109.13 L45.84,111.51 L46.99,113.60 L48.23,115.41 L49.59,116.94 L51.09,118.18 L52.76,119.15 L54.68,119.85 L57.04,120.26 L61.40,120.40 L189.40,120.40 L193.76,120.26 L196.12,119.85 L198.04,119.15 L199.71,118.18 L201.21,116.94 L202.57,115.41 L203.81,113.60 L204.96,111.51 L206.02,109.13 L207.00,106.47 L207.90,103.52 L208.73,100.26 L209.48,96.70 L210.17,92.82 L210.79,88.61 L211.34,84.05 L211.82,79.10 L212.24,73.73 L212.60,67.87 L212.89,61.43 L213.11,54.23 L213.27,45.96 L213.37,35.80 L213.40,17.00" fill="none" stroke="#c3bcd4" stroke-width="3.6" stroke-linejoin="round" opacity="1.0"/>
<path d="M37.40,17.00 L37.43,35.80 L37.53,45.96 L37.69,54.23 L37.91,61.43 L38.20,67.87 L38.56,73.73 L38.98,79.10 L39.46,84.05 L40.01,88.61 L40.63,92.82 L41.32,96.70 L42.07,100.26 L42.90,103.52 L43.80,106.47 L44.78,109.13 L45.84,111.51 L46.99,113.60 L48.23,115.41 L49.59,116.94 L51.09,118.18 L52.76,119.15 L54.68,119.85 L57.04,120.26 L61.40,120.40 L189.40,120.40 L193.76,120.26 L196.12,119.85 L198.04,119.15 L199.71,118.18 L201.21,116.94 L202.57,115.41 L203.81,113.60 L204.96,111.51 L206.02,109.13 L207.00,106.47 L207.90,103.52 L208.73,100.26 L209.48,96.70 L210.17,92.82 L210.79,88.61 L211.34,84.05 L211.82,79.10 L212.24,73.73 L212.60,67.87 L212.89,61.43 L213.11,54.23 L213.27,45.96 L213.37,35.80 L213.40,17.00" fill="none" stroke="#efedf5" stroke-width="2.81" stroke-linejoin="round" opacity="1.0" transform="translate(0,-0.29)"/>
<path d="M37.40,17.00 L37.43,35.80 L37.53,45.96 L37.69,54.23 L37.91,61.43 L38.20,67.87 L38.56,73.73 L38.98,79.10 L39.46,84.05 L40.01,88.61 L40.63,92.82 L41.32,96.70 L42.07,100.26 L42.90,103.52 L43.80,106.47 L44.78,109.13 L45.84,111.51 L46.99,113.60 L48.23,115.41 L49.59,116.94 L51.09,118.18 L52.76,119.15 L54.68,119.85 L57.04,120.26 L61.40,120.40 L189.40,120.40 L193.76,120.26 L196.12,119.85 L198.04,119.15 L199.71,118.18 L201.21,116.94 L202.57,115.41 L203.81,113.60 L204.96,111.51 L206.02,109.13 L207.00,106.47 L207.90,103.52 L208.73,100.26 L209.48,96.70 L210.17,92.82 L210.79,88.61 L211.34,84.05 L211.82,79.10 L212.24,73.73 L212.60,67.87 L212.89,61.43 L213.11,54.23 L213.27,45.96 L213.37,35.80 L213.40,17.00" fill="none" stroke="#fdfcff" stroke-width="1.08" stroke-linejoin="round" opacity="1.0" transform="translate(0,-0.72)"/>
<path d="M37.40,17.00 L37.44,34.86 L37.55,44.51 L37.74,52.36 L38.00,59.19 L38.34,65.31 L38.75,70.87 L39.24,75.98 L39.81,80.67 L40.45,85.01 L41.17,89.01 L41.97,92.69 L42.85,96.08 L43.82,99.17 L44.87,101.97 L46.01,104.50 L47.24,106.76 L48.58,108.74 L50.04,110.46 L51.62,111.91 L53.37,113.10 L55.32,114.02 L57.56,114.67 L60.31,115.07 L65.40,115.20 L185.40,115.20 L190.49,115.07 L193.24,114.67 L195.48,114.02 L197.43,113.10 L199.18,111.91 L200.76,110.46 L202.22,108.74 L203.56,106.76 L204.79,104.50 L205.93,101.97 L206.98,99.17 L207.95,96.08 L208.83,92.69 L209.63,89.01 L210.35,85.01 L210.99,80.67 L211.56,75.98 L212.05,70.87 L212.46,65.31 L212.80,59.19 L213.06,52.36 L213.25,44.51 L213.36,34.86 L213.40,17.00" fill="none" stroke="#bdb6cf" stroke-width="6.4" stroke-linejoin="round" opacity="1.0"/>
<path d="M37.40,17.00 L37.44,34.86 L37.55,44.51 L37.74,52.36 L38.00,59.19 L38.34,65.31 L38.75,70.87 L39.24,75.98 L39.81,80.67 L40.45,85.01 L41.17,89.01 L41.97,92.69 L42.85,96.08 L43.82,99.17 L44.87,101.97 L46.01,104.50 L47.24,106.76 L48.58,108.74 L50.04,110.46 L51.62,111.91 L53.37,113.10 L55.32,114.02 L57.56,114.67 L60.31,115.07 L65.40,115.20 L185.40,115.20 L190.49,115.07 L193.24,114.67 L195.48,114.02 L197.43,113.10 L199.18,111.91 L200.76,110.46 L202.22,108.74 L203.56,106.76 L204.79,104.50 L205.93,101.97 L206.98,99.17 L207.95,96.08 L208.83,92.69 L209.63,89.01 L210.35,85.01 L210.99,80.67 L211.56,75.98 L212.05,70.87 L212.46,65.31 L212.80,59.19 L213.06,52.36 L213.25,44.51 L213.36,34.86 L213.40,17.00" fill="none" stroke="#eeecf5" stroke-width="4.99" stroke-linejoin="round" opacity="1.0" transform="translate(0,-0.51)"/>
<path d="M37.40,17.00 L37.44,34.86 L37.55,44.51 L37.74,52.36 L38.00,59.19 L38.34,65.31 L38.75,70.87 L39.24,75.98 L39.81,80.67 L40.45,85.01 L41.17,89.01 L41.97,92.69 L42.85,96.08 L43.82,99.17 L44.87,101.97 L46.01,104.50 L47.24,106.76 L48.58,108.74 L50.04,110.46 L51.62,111.91 L53.37,113.10 L55.32,114.02 L57.56,114.67 L60.31,115.07 L65.40,115.20 L185.40,115.20 L190.49,115.07 L193.24,114.67 L195.48,114.02 L197.43,113.10 L199.18,111.91 L200.76,110.46 L202.22,108.74 L203.56,106.76 L204.79,104.50 L205.93,101.97 L206.98,99.17 L207.95,96.08 L208.83,92.69 L209.63,89.01 L210.35,85.01 L210.99,80.67 L211.56,75.98 L212.05,70.87 L212.46,65.31 L212.80,59.19 L213.06,52.36 L213.25,44.51 L213.36,34.86 L213.40,17.00" fill="none" stroke="#fefeff" stroke-width="1.92" stroke-linejoin="round" opacity="1.0" transform="translate(0,-1.28)"/>
<path d="M37.40,17.00 L37.44,32.06 L37.58,40.88 L37.80,48.22 L38.11,54.69 L38.51,60.55 L38.99,65.91 L39.57,70.87 L40.23,75.46 L40.99,79.72 L41.83,83.66 L42.77,87.30 L43.80,90.66 L44.92,93.73 L46.13,96.53 L47.45,99.06 L48.87,101.31 L50.40,103.30 L52.06,105.03 L53.85,106.49 L55.81,107.68 L57.97,108.61 L60.42,109.27 L63.37,109.67 L68.40,109.80 L182.40,109.80 L187.43,109.67 L190.38,109.27 L192.83,108.61 L194.99,107.68 L196.95,106.49 L198.74,105.03 L200.40,103.30 L201.93,101.31 L203.35,99.06 L204.67,96.53 L205.88,93.73 L207.00,90.66 L208.03,87.30 L208.97,83.66 L209.81,79.72 L210.57,75.46 L211.23,70.87 L211.81,65.91 L212.29,60.55 L212.69,54.69 L213.00,48.22 L213.22,40.88 L213.36,32.06 L213.40,17.00" fill="none" stroke="#958daa" stroke-width="2.4" stroke-linejoin="round" opacity="1.0"/>
<path d="M37.40,17.00 L37.44,32.06 L37.58,40.88 L37.80,48.22 L38.11,54.69 L38.51,60.55 L38.99,65.91 L39.57,70.87 L40.23,75.46 L40.99,79.72 L41.83,83.66 L42.77,87.30 L43.80,90.66 L44.92,93.73 L46.13,96.53 L47.45,99.06 L48.87,101.31 L50.40,103.30 L52.06,105.03 L53.85,106.49 L55.81,107.68 L57.97,108.61 L60.42,109.27 L63.37,109.67 L68.40,109.80 L182.40,109.80 L187.43,109.67 L190.38,109.27 L192.83,108.61 L194.99,107.68 L196.95,106.49 L198.74,105.03 L200.40,103.30 L201.93,101.31 L203.35,99.06 L204.67,96.53 L205.88,93.73 L207.00,90.66 L208.03,87.30 L208.97,83.66 L209.81,79.72 L210.57,75.46 L211.23,70.87 L211.81,65.91 L212.29,60.55 L212.69,54.69 L213.00,48.22 L213.22,40.88 L213.36,32.06 L213.40,17.00" fill="none" stroke="#c8c2d6" stroke-width="1.87" stroke-linejoin="round" opacity="1.0" transform="translate(0,-0.19)"/>
<path d="M37.40,17.00 L37.44,32.06 L37.58,40.88 L37.80,48.22 L38.11,54.69 L38.51,60.55 L38.99,65.91 L39.57,70.87 L40.23,75.46 L40.99,79.72 L41.83,83.66 L42.77,87.30 L43.80,90.66 L44.92,93.73 L46.13,96.53 L47.45,99.06 L48.87,101.31 L50.40,103.30 L52.06,105.03 L53.85,106.49 L55.81,107.68 L57.97,108.61 L60.42,109.27 L63.37,109.67 L68.40,109.80 L182.40,109.80 L187.43,109.67 L190.38,109.27 L192.83,108.61 L194.99,107.68 L196.95,106.49 L198.74,105.03 L200.40,103.30 L201.93,101.31 L203.35,99.06 L204.67,96.53 L205.88,93.73 L207.00,90.66 L208.03,87.30 L208.97,83.66 L209.81,79.72 L210.57,75.46 L211.23,70.87 L211.81,65.91 L212.29,60.55 L212.69,54.69 L213.00,48.22 L213.22,40.88 L213.36,32.06 L213.40,17.00" fill="none" stroke="#e8e5ef" stroke-width="0.72" stroke-linejoin="round" opacity="1.0" transform="translate(0,-0.48)"/>
<path d="M37.40,17.00 L37.45,31.22 L37.59,39.54 L37.84,46.47 L38.18,52.58 L38.61,58.11 L39.15,63.17 L39.78,67.85 L40.51,72.18 L41.34,76.20 L42.26,79.92 L43.29,83.36 L44.41,86.53 L45.64,89.43 L46.98,92.07 L48.42,94.46 L49.98,96.59 L51.66,98.47 L53.48,100.10 L55.45,101.47 L57.59,102.60 L59.96,103.47 L62.65,104.10 L65.88,104.47 L71.40,104.60 L179.40,104.60 L184.92,104.47 L188.15,104.10 L190.84,103.47 L193.21,102.60 L195.35,101.47 L197.32,100.10 L199.14,98.47 L200.82,96.59 L202.38,94.46 L203.82,92.07 L205.16,89.43 L206.39,86.53 L207.51,83.36 L208.54,79.92 L209.46,76.20 L210.29,72.18 L211.02,67.85 L211.65,63.17 L212.19,58.11 L212.62,52.58 L212.96,46.47 L213.21,39.54 L213.35,31.22 L213.40,17.00" fill="none" stroke="#bab1d0" stroke-width="5.6" stroke-linejoin="round" opacity="1.0"/>
<path d="M37.40,17.00 L37.45,31.22 L37.59,39.54 L37.84,46.47 L38.18,52.58 L38.61,58.11 L39.15,63.17 L39.78,67.85 L40.51,72.18 L41.34,76.20 L42.26,79.92 L43.29,83.36 L44.41,86.53 L45.64,89.43 L46.98,92.07 L48.42,94.46 L49.98,96.59 L51.66,98.47 L53.48,100.10 L55.45,101.47 L57.59,102.60 L59.96,103.47 L62.65,104.10 L65.88,104.47 L71.40,104.60 L179.40,104.60 L184.92,104.47 L188.15,104.10 L190.84,103.47 L193.21,102.60 L195.35,101.47 L197.32,100.10 L199.14,98.47 L200.82,96.59 L202.38,94.46 L203.82,92.07 L205.16,89.43 L206.39,86.53 L207.51,83.36 L208.54,79.92 L209.46,76.20 L210.29,72.18 L211.02,67.85 L211.65,63.17 L212.19,58.11 L212.62,52.58 L212.96,46.47 L213.21,39.54 L213.35,31.22 L213.40,17.00" fill="none" stroke="#e8e4f1" stroke-width="4.37" stroke-linejoin="round" opacity="1.0" transform="translate(0,-0.45)"/>
<path d="M37.40,17.00 L37.45,31.22 L37.59,39.54 L37.84,46.47 L38.18,52.58 L38.61,58.11 L39.15,63.17 L39.78,67.85 L40.51,72.18 L41.34,76.20 L42.26,79.92 L43.29,83.36 L44.41,86.53 L45.64,89.43 L46.98,92.07 L48.42,94.46 L49.98,96.59 L51.66,98.47 L53.48,100.10 L55.45,101.47 L57.59,102.60 L59.96,103.47 L62.65,104.10 L65.88,104.47 L71.40,104.60 L179.40,104.60 L184.92,104.47 L188.15,104.10 L190.84,103.47 L193.21,102.60 L195.35,101.47 L197.32,100.10 L199.14,98.47 L200.82,96.59 L202.38,94.46 L203.82,92.07 L205.16,89.43 L206.39,86.53 L207.51,83.36 L208.54,79.92 L209.46,76.20 L210.29,72.18 L211.02,67.85 L211.65,63.17 L212.19,58.11 L212.62,52.58 L212.96,46.47 L213.21,39.54 L213.35,31.22 L213.40,17.00" fill="none" stroke="#f9f8fc" stroke-width="1.68" stroke-linejoin="round" opacity="1.0" transform="translate(0,-1.12)"/>
<path d="M37.40,17.00 L37.46,29.20 L37.62,36.64 L37.91,42.92 L38.30,48.50 L38.80,53.57 L39.42,58.25 L40.15,62.58 L40.99,66.60 L41.94,70.34 L43.01,73.81 L44.19,77.03 L45.48,79.99 L46.89,82.71 L48.41,85.20 L50.06,87.44 L51.84,89.44 L53.75,91.21 L55.81,92.75 L58.03,94.05 L60.44,95.11 L63.09,95.94 L66.07,96.53 L69.61,96.88 L75.40,97.00 L175.40,97.00 L181.19,96.88 L184.73,96.53 L187.71,95.94 L190.36,95.11 L192.77,94.05 L194.99,92.75 L197.05,91.21 L198.96,89.44 L200.74,87.44 L202.39,85.20 L203.91,82.71 L205.32,79.99 L206.61,77.03 L207.79,73.81 L208.86,70.34 L209.81,66.60 L210.65,62.58 L211.38,58.25 L212.00,53.57 L212.50,48.50 L212.89,42.92 L213.18,36.64 L213.34,29.20 L213.40,17.00" fill="none" stroke="#b2a8cc" stroke-width="5.0" stroke-linejoin="round" opacity="1.0"/>
<path d="M37.40,17.00 L37.46,29.20 L37.62,36.64 L37.91,42.92 L38.30,48.50 L38.80,53.57 L39.42,58.25 L40.15,62.58 L40.99,66.60 L41.94,70.34 L43.01,73.81 L44.19,77.03 L45.48,79.99 L46.89,82.71 L48.41,85.20 L50.06,87.44 L51.84,89.44 L53.75,91.21 L55.81,92.75 L58.03,94.05 L60.44,95.11 L63.09,95.94 L66.07,96.53 L69.61,96.88 L75.40,97.00 L175.40,97.00 L181.19,96.88 L184.73,96.53 L187.71,95.94 L190.36,95.11 L192.77,94.05 L194.99,92.75 L197.05,91.21 L198.96,89.44 L200.74,87.44 L202.39,85.20 L203.91,82.71 L205.32,79.99 L206.61,77.03 L207.79,73.81 L208.86,70.34 L209.81,66.60 L210.65,62.58 L211.38,58.25 L212.00,53.57 L212.50,48.50 L212.89,42.92 L213.18,36.64 L213.34,29.20 L213.40,17.00" fill="none" stroke="#e2ddee" stroke-width="3.90" stroke-linejoin="round" opacity="1.0" transform="translate(0,-0.40)"/>
<path d="M37.40,17.00 L37.46,29.20 L37.62,36.64 L37.91,42.92 L38.30,48.50 L38.80,53.57 L39.42,58.25 L40.15,62.58 L40.99,66.60 L41.94,70.34 L43.01,73.81 L44.19,77.03 L45.48,79.99 L46.89,82.71 L48.41,85.20 L50.06,87.44 L51.84,89.44 L53.75,91.21 L55.81,92.75 L58.03,94.05 L60.44,95.11 L63.09,95.94 L66.07,96.53 L69.61,96.88 L75.40,97.00 L175.40,97.00 L181.19,96.88 L184.73,96.53 L187.71,95.94 L190.36,95.11 L192.77,94.05 L194.99,92.75 L197.05,91.21 L198.96,89.44 L200.74,87.44 L202.39,85.20 L203.91,82.71 L205.32,79.99 L206.61,77.03 L207.79,73.81 L208.86,70.34 L209.81,66.60 L210.65,62.58 L211.38,58.25 L212.00,53.57 L212.50,48.50 L212.89,42.92 L213.18,36.64 L213.34,29.20 L213.40,17.00" fill="none" stroke="#f4f2f9" stroke-width="1.50" stroke-linejoin="round" opacity="1.0" transform="translate(0,-1.00)"/>
<path d="M37.40,17.00 L37.46,27.66 L37.65,34.47 L37.96,40.28 L38.40,45.48 L38.97,50.25 L39.65,54.66 L40.47,58.77 L41.40,62.59 L42.46,66.16 L43.65,69.47 L44.96,72.55 L46.39,75.40 L47.95,78.01 L49.64,80.40 L51.46,82.56 L53.41,84.50 L55.51,86.21 L57.76,87.69 L60.17,88.94 L62.79,89.97 L65.64,90.77 L68.82,91.34 L72.56,91.69 L78.40,91.80 L172.40,91.80 L178.24,91.69 L181.98,91.34 L185.16,90.77 L188.01,89.97 L190.63,88.94 L193.04,87.69 L195.29,86.21 L197.39,84.50 L199.34,82.56 L201.16,80.40 L202.85,78.01 L204.41,75.40 L205.84,72.55 L207.15,69.47 L208.34,66.16 L209.40,62.59 L210.33,58.77 L211.15,54.66 L211.83,50.25 L212.40,45.48 L212.84,40.28 L213.15,34.47 L213.34,27.66 L213.40,17.00" fill="none" stroke="#aca1c9" stroke-width="3.2" stroke-linejoin="round" opacity="1.0"/>
<path d="M37.40,17.00 L37.46,27.66 L37.65,34.47 L37.96,40.28 L38.40,45.48 L38.97,50.25 L39.65,54.66 L40.47,58.77 L41.40,62.59 L42.46,66.16 L43.65,69.47 L44.96,72.55 L46.39,75.40 L47.95,78.01 L49.64,80.40 L51.46,82.56 L53.41,84.50 L55.51,86.21 L57.76,87.69 L60.17,88.94 L62.79,89.97 L65.64,90.77 L68.82,91.34 L72.56,91.69 L78.40,91.80 L172.40,91.80 L178.24,91.69 L181.98,91.34 L185.16,90.77 L188.01,89.97 L190.63,88.94 L193.04,87.69 L195.29,86.21 L197.39,84.50 L199.34,82.56 L201.16,80.40 L202.85,78.01 L204.41,75.40 L205.84,72.55 L207.15,69.47 L208.34,66.16 L209.40,62.59 L210.33,58.77 L211.15,54.66 L211.83,50.25 L212.40,45.48 L212.84,40.28 L213.15,34.47 L213.34,27.66 L213.40,17.00" fill="none" stroke="#d8d1e8" stroke-width="2.50" stroke-linejoin="round" opacity="1.0" transform="translate(0,-0.26)"/>
<path d="M37.40,17.00 L37.46,27.66 L37.65,34.47 L37.96,40.28 L38.40,45.48 L38.97,50.25 L39.65,54.66 L40.47,58.77 L41.40,62.59 L42.46,66.16 L43.65,69.47 L44.96,72.55 L46.39,75.40 L47.95,78.01 L49.64,80.40 L51.46,82.56 L53.41,84.50 L55.51,86.21 L57.76,87.69 L60.17,88.94 L62.79,89.97 L65.64,90.77 L68.82,91.34 L72.56,91.69 L78.40,91.80 L172.40,91.80 L178.24,91.69 L181.98,91.34 L185.16,90.77 L188.01,89.97 L190.63,88.94 L193.04,87.69 L195.29,86.21 L197.39,84.50 L199.34,82.56 L201.16,80.40 L202.85,78.01 L204.41,75.40 L205.84,72.55 L207.15,69.47 L208.34,66.16 L209.40,62.59 L210.33,58.77 L211.15,54.66 L211.83,50.25 L212.40,45.48 L212.84,40.28 L213.15,34.47 L213.34,27.66 L213.40,17.00" fill="none" stroke="#ece8f5" stroke-width="0.96" stroke-linejoin="round" opacity="1.0" transform="translate(0,-0.64)"/>
<path d="M70,118 A55.5,31 0 0 1 181,118" fill="none" stroke="#8272ad" stroke-width="5" stroke-dasharray="0.9,0.7" opacity="0.9"/>
<path d="M37.40,17.00 L37.47,25.53 L37.69,31.51 L38.05,36.77 L38.56,41.57 L39.21,46.03 L40.00,50.20 L40.93,54.11 L42.01,57.78 L43.22,61.22 L44.58,64.44 L46.07,67.45 L47.70,70.24 L49.46,72.81 L51.36,75.16 L53.40,77.30 L55.58,79.22 L57.91,80.92 L60.38,82.39 L63.02,83.65 L65.84,84.67 L68.88,85.47 L72.21,86.04 L76.00,86.39 L81.40,86.50 L169.40,86.50 L174.80,86.39 L178.59,86.04 L181.92,85.47 L184.96,84.67 L187.78,83.65 L190.42,82.39 L192.89,80.92 L195.22,79.22 L197.40,77.30 L199.44,75.16 L201.34,72.81 L203.10,70.24 L204.73,67.45 L206.22,64.44 L207.58,61.22 L208.79,57.78 L209.87,54.11 L210.80,50.20 L211.59,46.03 L212.24,41.57 L212.75,36.77 L213.11,31.51 L213.33,25.53 L213.40,17.00" fill="none" stroke="#aca1c9" stroke-width="4.0" stroke-linejoin="round" opacity="1.0"/>
<path d="M37.40,17.00 L37.47,25.53 L37.69,31.51 L38.05,36.77 L38.56,41.57 L39.21,46.03 L40.00,50.20 L40.93,54.11 L42.01,57.78 L43.22,61.22 L44.58,64.44 L46.07,67.45 L47.70,70.24 L49.46,72.81 L51.36,75.16 L53.40,77.30 L55.58,79.22 L57.91,80.92 L60.38,82.39 L63.02,83.65 L65.84,84.67 L68.88,85.47 L72.21,86.04 L76.00,86.39 L81.40,86.50 L169.40,86.50 L174.80,86.39 L178.59,86.04 L181.92,85.47 L184.96,84.67 L187.78,83.65 L190.42,82.39 L192.89,80.92 L195.22,79.22 L197.40,77.30 L199.44,75.16 L201.34,72.81 L203.10,70.24 L204.73,67.45 L206.22,64.44 L207.58,61.22 L208.79,57.78 L209.87,54.11 L210.80,50.20 L211.59,46.03 L212.24,41.57 L212.75,36.77 L213.11,31.51 L213.33,25.53 L213.40,17.00" fill="none" stroke="#d4cce6" stroke-width="3.12" stroke-linejoin="round" opacity="1.0" transform="translate(0,-0.32)"/>
<path d="M37.40,17.00 L37.47,25.53 L37.69,31.51 L38.05,36.77 L38.56,41.57 L39.21,46.03 L40.00,50.20 L40.93,54.11 L42.01,57.78 L43.22,61.22 L44.58,64.44 L46.07,67.45 L47.70,70.24 L49.46,72.81 L51.36,75.16 L53.40,77.30 L55.58,79.22 L57.91,80.92 L60.38,82.39 L63.02,83.65 L65.84,84.67 L68.88,85.47 L72.21,86.04 L76.00,86.39 L81.40,86.50 L169.40,86.50 L174.80,86.39 L178.59,86.04 L181.92,85.47 L184.96,84.67 L187.78,83.65 L190.42,82.39 L192.89,80.92 L195.22,79.22 L197.40,77.30 L199.44,75.16 L201.34,72.81 L203.10,70.24 L204.73,67.45 L206.22,64.44 L207.58,61.22 L208.79,57.78 L209.87,54.11 L210.80,50.20 L211.59,46.03 L212.24,41.57 L212.75,36.77 L213.11,31.51 L213.33,25.53 L213.40,17.00" fill="none" stroke="#ece8f5" stroke-width="1.20" stroke-linejoin="round" opacity="1.0" transform="translate(0,-0.80)"/>
<path d="M37.40,17.00 L37.49,17.72 L37.68,19.30 L37.97,21.50 L38.32,24.18 L38.75,27.21 L39.24,30.50 L39.79,33.95 L40.39,37.49 L41.06,41.06 L41.78,44.57 L42.55,48.00 L43.37,51.30 L44.24,54.43 L45.15,57.37 L46.12,60.10 L47.13,62.63 L48.19,64.93 L49.29,67.02 L50.43,68.89 L51.62,70.57 L52.85,72.05 L54.12,73.35 L55.43,74.49 L56.79,75.47 L58.18,76.32 L59.61,77.05 L61.08,77.66 L62.59,78.19 L64.14,78.63 L65.73,78.99 L67.35,79.30 L69.02,79.55 L70.71,79.76 L72.45,79.93 L74.22,80.07 L76.02,80.18 L77.87,80.27 L79.74,80.34 L81.65,80.40 L83.60,80.44 L167.20,80.44 L169.15,80.40 L171.06,80.34 L172.93,80.27 L174.78,80.18 L176.58,80.07 L178.35,79.93 L180.09,79.76 L181.78,79.55 L183.45,79.30 L185.07,78.99 L186.66,78.63 L188.21,78.19 L189.72,77.66 L191.19,77.05 L192.62,76.32 L194.01,75.47 L195.37,74.49 L196.68,73.35 L197.95,72.05 L199.18,70.57 L200.37,68.89 L201.51,67.02 L202.61,64.93 L203.67,62.63 L204.68,60.10 L205.65,57.37 L206.56,54.43 L207.43,51.30 L208.25,48.00 L209.02,44.57 L209.74,41.06 L210.41,37.49 L211.01,33.95 L211.56,30.50 L212.05,27.21 L212.48,24.18 L212.83,21.50 L213.12,19.30 L213.31,17.72 L213.40,17.00" fill="none" stroke="#9486bf" stroke-width="6.6" stroke-linejoin="round" opacity="1.0"/>
<path d="M37.40,17.00 L37.49,17.72 L37.68,19.30 L37.97,21.50 L38.32,24.18 L38.75,27.21 L39.24,30.50 L39.79,33.95 L40.39,37.49 L41.06,41.06 L41.78,44.57 L42.55,48.00 L43.37,51.30 L44.24,54.43 L45.15,57.37 L46.12,60.10 L47.13,62.63 L48.19,64.93 L49.29,67.02 L50.43,68.89 L51.62,70.57 L52.85,72.05 L54.12,73.35 L55.43,74.49 L56.79,75.47 L58.18,76.32 L59.61,77.05 L61.08,77.66 L62.59,78.19 L64.14,78.63 L65.73,78.99 L67.35,79.30 L69.02,79.55 L70.71,79.76 L72.45,79.93 L74.22,80.07 L76.02,80.18 L77.87,80.27 L79.74,80.34 L81.65,80.40 L83.60,80.44 L167.20,80.44 L169.15,80.40 L171.06,80.34 L172.93,80.27 L174.78,80.18 L176.58,80.07 L178.35,79.93 L180.09,79.76 L181.78,79.55 L183.45,79.30 L185.07,78.99 L186.66,78.63 L188.21,78.19 L189.72,77.66 L191.19,77.05 L192.62,76.32 L194.01,75.47 L195.37,74.49 L196.68,73.35 L197.95,72.05 L199.18,70.57 L200.37,68.89 L201.51,67.02 L202.61,64.93 L203.67,62.63 L204.68,60.10 L205.65,57.37 L206.56,54.43 L207.43,51.30 L208.25,48.00 L209.02,44.57 L209.74,41.06 L210.41,37.49 L211.01,33.95 L211.56,30.50 L212.05,27.21 L212.48,24.18 L212.83,21.50 L213.12,19.30 L213.31,17.72 L213.40,17.00" fill="none" stroke="#c3b8de" stroke-width="5.15" stroke-linejoin="round" opacity="1.0" transform="translate(0,-0.53)"/>
<path d="M37.40,17.00 L37.49,17.72 L37.68,19.30 L37.97,21.50 L38.32,24.18 L38.75,27.21 L39.24,30.50 L39.79,33.95 L40.39,37.49 L41.06,41.06 L41.78,44.57 L42.55,48.00 L43.37,51.30 L44.24,54.43 L45.15,57.37 L46.12,60.10 L47.13,62.63 L48.19,64.93 L49.29,67.02 L50.43,68.89 L51.62,70.57 L52.85,72.05 L54.12,73.35 L55.43,74.49 L56.79,75.47 L58.18,76.32 L59.61,77.05 L61.08,77.66 L62.59,78.19 L64.14,78.63 L65.73,78.99 L67.35,79.30 L69.02,79.55 L70.71,79.76 L72.45,79.93 L74.22,80.07 L76.02,80.18 L77.87,80.27 L79.74,80.34 L81.65,80.40 L83.60,80.44 L167.20,80.44 L169.15,80.40 L171.06,80.34 L172.93,80.27 L174.78,80.18 L176.58,80.07 L178.35,79.93 L180.09,79.76 L181.78,79.55 L183.45,79.30 L185.07,78.99 L186.66,78.63 L188.21,78.19 L189.72,77.66 L191.19,77.05 L192.62,76.32 L194.01,75.47 L195.37,74.49 L196.68,73.35 L197.95,72.05 L199.18,70.57 L200.37,68.89 L201.51,67.02 L202.61,64.93 L203.67,62.63 L204.68,60.10 L205.65,57.37 L206.56,54.43 L207.43,51.30 L208.25,48.00 L209.02,44.57 L209.74,41.06 L210.41,37.49 L211.01,33.95 L211.56,30.50 L212.05,27.21 L212.48,24.18 L212.83,21.50 L213.12,19.30 L213.31,17.72 L213.40,17.00" fill="none" stroke="#e2dbf0" stroke-width="1.98" stroke-linejoin="round" opacity="1.0" transform="translate(0,-1.32)"/>
<path d="M37.40,17.00 L37.54,17.58 L37.84,18.84 L38.28,20.61 L38.84,22.75 L39.50,25.19 L40.26,27.82 L41.12,30.59 L42.07,33.43 L43.10,36.29 L44.22,39.11 L45.42,41.86 L46.70,44.50 L48.05,47.01 L49.49,49.37 L50.99,51.56 L52.56,53.59 L54.21,55.44 L55.93,57.11 L57.71,58.61 L59.56,59.95 L61.48,61.14 L63.46,62.19 L65.50,63.10 L67.61,63.89 L69.78,64.57 L72.02,65.15 L74.31,65.65 L76.66,66.07 L79.08,66.42 L81.55,66.71 L84.08,66.96 L86.67,67.16 L89.32,67.33 L92.02,67.46 L94.78,67.57 L97.59,67.66 L100.46,67.73 L103.39,67.79 L106.37,67.84 L109.40,67.87 L141.40,67.87 L144.43,67.84 L147.41,67.79 L150.34,67.73 L153.21,67.66 L156.02,67.57 L158.78,67.46 L161.48,67.33 L164.13,67.16 L166.72,66.96 L169.25,66.71 L171.72,66.42 L174.14,66.07 L176.49,65.65 L178.78,65.15 L181.02,64.57 L183.19,63.89 L185.30,63.10 L187.34,62.19 L189.32,61.14 L191.24,59.95 L193.09,58.61 L194.87,57.11 L196.59,55.44 L198.24,53.59 L199.81,51.56 L201.31,49.37 L202.75,47.01 L204.10,44.50 L205.38,41.86 L206.58,39.11 L207.70,36.29 L208.73,33.43 L209.68,30.59 L210.54,27.82 L211.30,25.19 L211.96,22.75 L212.52,20.61 L212.96,18.84 L213.26,17.58 L213.40,17.00" fill="none" stroke="#8a7bb9" stroke-width="5.6" stroke-linejoin="round" opacity="1.0"/>
<path d="M37.40,17.00 L37.54,17.58 L37.84,18.84 L38.28,20.61 L38.84,22.75 L39.50,25.19 L40.26,27.82 L41.12,30.59 L42.07,33.43 L43.10,36.29 L44.22,39.11 L45.42,41.86 L46.70,44.50 L48.05,47.01 L49.49,49.37 L50.99,51.56 L52.56,53.59 L54.21,55.44 L55.93,57.11 L57.71,58.61 L59.56,59.95 L61.48,61.14 L63.46,62.19 L65.50,63.10 L67.61,63.89 L69.78,64.57 L72.02,65.15 L74.31,65.65 L76.66,66.07 L79.08,66.42 L81.55,66.71 L84.08,66.96 L86.67,67.16 L89.32,67.33 L92.02,67.46 L94.78,67.57 L97.59,67.66 L100.46,67.73 L103.39,67.79 L106.37,67.84 L109.40,67.87 L141.40,67.87 L144.43,67.84 L147.41,67.79 L150.34,67.73 L153.21,67.66 L156.02,67.57 L158.78,67.46 L161.48,67.33 L164.13,67.16 L166.72,66.96 L169.25,66.71 L171.72,66.42 L174.14,66.07 L176.49,65.65 L178.78,65.15 L181.02,64.57 L183.19,63.89 L185.30,63.10 L187.34,62.19 L189.32,61.14 L191.24,59.95 L193.09,58.61 L194.87,57.11 L196.59,55.44 L198.24,53.59 L199.81,51.56 L201.31,49.37 L202.75,47.01 L204.10,44.50 L205.38,41.86 L206.58,39.11 L207.70,36.29 L208.73,33.43 L209.68,30.59 L210.54,27.82 L211.30,25.19 L211.96,22.75 L212.52,20.61 L212.96,18.84 L213.26,17.58 L213.40,17.00" fill="none" stroke="#bcb0da" stroke-width="4.37" stroke-linejoin="round" opacity="1.0" transform="translate(0,-0.45)"/>
<path d="M37.40,17.00 L37.54,17.58 L37.84,18.84 L38.28,20.61 L38.84,22.75 L39.50,25.19 L40.26,27.82 L41.12,30.59 L42.07,33.43 L43.10,36.29 L44.22,39.11 L45.42,41.86 L46.70,44.50 L48.05,47.01 L49.49,49.37 L50.99,51.56 L52.56,53.59 L54.21,55.44 L55.93,57.11 L57.71,58.61 L59.56,59.95 L61.48,61.14 L63.46,62.19 L65.50,63.10 L67.61,63.89 L69.78,64.57 L72.02,65.15 L74.31,65.65 L76.66,66.07 L79.08,66.42 L81.55,66.71 L84.08,66.96 L86.67,67.16 L89.32,67.33 L92.02,67.46 L94.78,67.57 L97.59,67.66 L100.46,67.73 L103.39,67.79 L106.37,67.84 L109.40,67.87 L141.40,67.87 L144.43,67.84 L147.41,67.79 L150.34,67.73 L153.21,67.66 L156.02,67.57 L158.78,67.46 L161.48,67.33 L164.13,67.16 L166.72,66.96 L169.25,66.71 L171.72,66.42 L174.14,66.07 L176.49,65.65 L178.78,65.15 L181.02,64.57 L183.19,63.89 L185.30,63.10 L187.34,62.19 L189.32,61.14 L191.24,59.95 L193.09,58.61 L194.87,57.11 L196.59,55.44 L198.24,53.59 L199.81,51.56 L201.31,49.37 L202.75,47.01 L204.10,44.50 L205.38,41.86 L206.58,39.11 L207.70,36.29 L208.73,33.43 L209.68,30.59 L210.54,27.82 L211.30,25.19 L211.96,22.75 L212.52,20.61 L212.96,18.84 L213.26,17.58 L213.40,17.00" fill="none" stroke="#dcd4ef" stroke-width="1.68" stroke-linejoin="round" opacity="1.0" transform="translate(0,-1.12)"/>
<path d="M59.5,100 A66,45.5 0 0 1 191.5,100" fill="none" stroke="#7464a6" stroke-width="1.5" stroke-dasharray="2.2,0.8"/>
<path d="M59.5,100 A66,45.5 0 0 1 191.5,100" fill="none" stroke="#9a8cc4" stroke-width="3.6" stroke-dasharray="0.8,1.0" opacity="0.5"/>
<line x1="72.2" y1="41.5" x2="75.8" y2="41.5" stroke="#4e3888" stroke-width="1.3"/>
<line x1="175.2" y1="41.5" x2="178.8" y2="41.5" stroke="#4e3888" stroke-width="1.3"/>
<line x1="68.2" y1="45" x2="71.8" y2="45" stroke="#4e3888" stroke-width="1.3"/>
<line x1="179.2" y1="45" x2="182.8" y2="45" stroke="#4e3888" stroke-width="1.3"/>
<line x1="64.7" y1="48.5" x2="68.3" y2="48.5" stroke="#4e3888" stroke-width="1.3"/>
<line x1="182.7" y1="48.5" x2="186.3" y2="48.5" stroke="#4e3888" stroke-width="1.3"/>
<line x1="61.7" y1="52" x2="65.3" y2="52" stroke="#4e3888" stroke-width="1.3"/>
<line x1="185.7" y1="52" x2="189.3" y2="52" stroke="#4e3888" stroke-width="1.3"/>
<line x1="59.2" y1="55.5" x2="62.8" y2="55.5" stroke="#4e3888" stroke-width="1.3"/>
<line x1="188.2" y1="55.5" x2="191.8" y2="55.5" stroke="#4e3888" stroke-width="1.3"/>
<line x1="57.2" y1="59" x2="60.8" y2="59" stroke="#4e3888" stroke-width="1.3"/>
<line x1="190.2" y1="59" x2="193.8" y2="59" stroke="#4e3888" stroke-width="1.3"/>
<line x1="55.7" y1="63" x2="59.3" y2="63" stroke="#4e3888" stroke-width="1.3"/>
<line x1="191.7" y1="63" x2="195.3" y2="63" stroke="#4e3888" stroke-width="1.3"/>
<line x1="54.7" y1="67" x2="58.3" y2="67" stroke="#4e3888" stroke-width="1.3"/>
<line x1="192.7" y1="67" x2="196.3" y2="67" stroke="#4e3888" stroke-width="1.3"/>
<line x1="54.2" y1="71.5" x2="57.8" y2="71.5" stroke="#4e3888" stroke-width="1.3"/>
<line x1="193.2" y1="71.5" x2="196.8" y2="71.5" stroke="#4e3888" stroke-width="1.3"/>
<line x1="53.7" y1="76" x2="57.3" y2="76" stroke="#4e3888" stroke-width="1.3"/>
<line x1="193.7" y1="76" x2="197.3" y2="76" stroke="#4e3888" stroke-width="1.3"/>
<line x1="53.2" y1="80.5" x2="56.8" y2="80.5" stroke="#4e3888" stroke-width="1.3"/>
<line x1="194.2" y1="80.5" x2="197.8" y2="80.5" stroke="#4e3888" stroke-width="1.3"/>
<line x1="52.7" y1="85" x2="56.3" y2="85" stroke="#4e3888" stroke-width="1.3"/>
<line x1="194.7" y1="85" x2="198.3" y2="85" stroke="#4e3888" stroke-width="1.3"/>
<line x1="52.2" y1="89.5" x2="55.8" y2="89.5" stroke="#4e3888" stroke-width="1.3"/>
<line x1="195.2" y1="89.5" x2="198.8" y2="89.5" stroke="#4e3888" stroke-width="1.3"/>
<path d="M76,30.5 C65,32 57.5,41 53.5,57" fill="none" stroke="#5e4494" stroke-width="5.5" stroke-linecap="round"/>
<path d="M174,30.5 C185,32 192.5,41 196.5,57" fill="none" stroke="#5e4494" stroke-width="5.5" stroke-linecap="round"/>
<path d="M37.40,17.00 L37.55,17.44 L37.88,18.40 L38.35,19.73 L38.96,21.36 L39.67,23.20 L40.50,25.19 L41.43,27.29 L42.46,29.44 L43.58,31.60 L44.79,33.74 L46.09,35.82 L47.47,37.82 L48.94,39.72 L50.49,41.50 L52.12,43.16 L53.83,44.69 L55.61,46.09 L57.47,47.36 L59.40,48.50 L61.41,49.51 L63.48,50.41 L65.63,51.20 L67.85,51.89 L70.13,52.49 L72.48,53.00 L74.90,53.44 L77.39,53.82 L79.94,54.14 L82.55,54.40 L85.23,54.63 L87.97,54.81 L90.78,54.96 L93.64,55.09 L96.57,55.19 L99.56,55.28 L102.61,55.34 L105.72,55.40 L108.89,55.44 L112.11,55.48 L115.40,55.50 L135.40,55.50 L138.69,55.48 L141.91,55.44 L145.08,55.40 L148.19,55.34 L151.24,55.28 L154.23,55.19 L157.16,55.09 L160.02,54.96 L162.83,54.81 L165.57,54.63 L168.25,54.40 L170.86,54.14 L173.41,53.82 L175.90,53.44 L178.32,53.00 L180.67,52.49 L182.95,51.89 L185.17,51.20 L187.32,50.41 L189.39,49.51 L191.40,48.50 L193.33,47.36 L195.19,46.09 L196.97,44.69 L198.68,43.16 L200.31,41.50 L201.86,39.72 L203.33,37.82 L204.71,35.82 L206.01,33.74 L207.22,31.60 L208.34,29.44 L209.37,27.29 L210.30,25.19 L211.13,23.20 L211.84,21.36 L212.45,19.73 L212.92,18.40 L213.25,17.44 L213.40,17.00" fill="none" stroke="#8b81a8" stroke-width="1.3" stroke-linejoin="round" opacity="1.0"/>
<path d="M37.40,17.00 L37.55,17.44 L37.88,18.40 L38.35,19.73 L38.96,21.36 L39.67,23.20 L40.50,25.19 L41.43,27.29 L42.46,29.44 L43.58,31.60 L44.79,33.74 L46.09,35.82 L47.47,37.82 L48.94,39.72 L50.49,41.50 L52.12,43.16 L53.83,44.69 L55.61,46.09 L57.47,47.36 L59.40,48.50 L61.41,49.51 L63.48,50.41 L65.63,51.20 L67.85,51.89 L70.13,52.49 L72.48,53.00 L74.90,53.44 L77.39,53.82 L79.94,54.14 L82.55,54.40 L85.23,54.63 L87.97,54.81 L90.78,54.96 L93.64,55.09 L96.57,55.19 L99.56,55.28 L102.61,55.34 L105.72,55.40 L108.89,55.44 L112.11,55.48 L115.40,55.50 L135.40,55.50 L138.69,55.48 L141.91,55.44 L145.08,55.40 L148.19,55.34 L151.24,55.28 L154.23,55.19 L157.16,55.09 L160.02,54.96 L162.83,54.81 L165.57,54.63 L168.25,54.40 L170.86,54.14 L173.41,53.82 L175.90,53.44 L178.32,53.00 L180.67,52.49 L182.95,51.89 L185.17,51.20 L187.32,50.41 L189.39,49.51 L191.40,48.50 L193.33,47.36 L195.19,46.09 L196.97,44.69 L198.68,43.16 L200.31,41.50 L201.86,39.72 L203.33,37.82 L204.71,35.82 L206.01,33.74 L207.22,31.60 L208.34,29.44 L209.37,27.29 L210.30,25.19 L211.13,23.20 L211.84,21.36 L212.45,19.73 L212.92,18.40 L213.25,17.44 L213.40,17.00" fill="none" stroke="#8b81a8" stroke-width="1.01" stroke-linejoin="round" opacity="1.0" transform="translate(0,-0.10)"/>
<path d="M37.40,17.00 L37.55,17.44 L37.88,18.40 L38.35,19.73 L38.96,21.36 L39.67,23.20 L40.50,25.19 L41.43,27.29 L42.46,29.44 L43.58,31.60 L44.79,33.74 L46.09,35.82 L47.47,37.82 L48.94,39.72 L50.49,41.50 L52.12,43.16 L53.83,44.69 L55.61,46.09 L57.47,47.36 L59.40,48.50 L61.41,49.51 L63.48,50.41 L65.63,51.20 L67.85,51.89 L70.13,52.49 L72.48,53.00 L74.90,53.44 L77.39,53.82 L79.94,54.14 L82.55,54.40 L85.23,54.63 L87.97,54.81 L90.78,54.96 L93.64,55.09 L96.57,55.19 L99.56,55.28 L102.61,55.34 L105.72,55.40 L108.89,55.44 L112.11,55.48 L115.40,55.50 L135.40,55.50 L138.69,55.48 L141.91,55.44 L145.08,55.40 L148.19,55.34 L151.24,55.28 L154.23,55.19 L157.16,55.09 L160.02,54.96 L162.83,54.81 L165.57,54.63 L168.25,54.40 L170.86,54.14 L173.41,53.82 L175.90,53.44 L178.32,53.00 L180.67,52.49 L182.95,51.89 L185.17,51.20 L187.32,50.41 L189.39,49.51 L191.40,48.50 L193.33,47.36 L195.19,46.09 L196.97,44.69 L198.68,43.16 L200.31,41.50 L201.86,39.72 L203.33,37.82 L204.71,35.82 L206.01,33.74 L207.22,31.60 L208.34,29.44 L209.37,27.29 L210.30,25.19 L211.13,23.20 L211.84,21.36 L212.45,19.73 L212.92,18.40 L213.25,17.44 L213.40,17.00" fill="none" stroke="#8b81a8" stroke-width="0.39" stroke-linejoin="round" opacity="1.0" transform="translate(0,-0.26)"/>
<path d="M37.40,17.00 L37.56,17.29 L37.92,17.94 L38.43,18.84 L39.08,19.93 L39.85,21.17 L40.74,22.52 L41.74,23.93 L42.85,25.38 L44.05,26.83 L45.36,28.27 L46.76,29.67 L48.25,31.02 L49.83,32.30 L51.50,33.50 L53.25,34.62 L55.09,35.65 L57.01,36.59 L59.01,37.45 L61.10,38.21 L63.25,38.90 L65.49,39.50 L67.80,40.04 L70.19,40.50 L72.65,40.90 L75.18,41.25 L77.79,41.55 L80.46,41.80 L83.21,42.01 L86.02,42.19 L88.91,42.34 L91.86,42.47 L94.88,42.57 L97.97,42.66 L101.12,42.73 L104.34,42.78 L107.62,42.83 L110.97,42.86 L114.39,42.89 L117.86,42.92 L121.40,42.94 L129.40,42.94 L132.94,42.92 L136.41,42.89 L139.83,42.86 L143.18,42.83 L146.46,42.78 L149.68,42.73 L152.83,42.66 L155.92,42.57 L158.94,42.47 L161.89,42.34 L164.78,42.19 L167.59,42.01 L170.34,41.80 L173.01,41.55 L175.62,41.25 L178.15,40.90 L180.61,40.50 L183.00,40.04 L185.31,39.50 L187.55,38.90 L189.70,38.21 L191.79,37.45 L193.79,36.59 L195.71,35.65 L197.55,34.62 L199.30,33.50 L200.97,32.30 L202.55,31.02 L204.04,29.67 L205.44,28.27 L206.75,26.83 L207.95,25.38 L209.06,23.93 L210.06,22.52 L210.95,21.17 L211.72,19.93 L212.37,18.84 L212.88,17.94 L213.24,17.29 L213.40,17.00" fill="none" stroke="#8574b6" stroke-width="6.0" stroke-linejoin="round" opacity="1.0"/>
<path d="M37.40,17.00 L37.56,17.29 L37.92,17.94 L38.43,18.84 L39.08,19.93 L39.85,21.17 L40.74,22.52 L41.74,23.93 L42.85,25.38 L44.05,26.83 L45.36,28.27 L46.76,29.67 L48.25,31.02 L49.83,32.30 L51.50,33.50 L53.25,34.62 L55.09,35.65 L57.01,36.59 L59.01,37.45 L61.10,38.21 L63.25,38.90 L65.49,39.50 L67.80,40.04 L70.19,40.50 L72.65,40.90 L75.18,41.25 L77.79,41.55 L80.46,41.80 L83.21,42.01 L86.02,42.19 L88.91,42.34 L91.86,42.47 L94.88,42.57 L97.97,42.66 L101.12,42.73 L104.34,42.78 L107.62,42.83 L110.97,42.86 L114.39,42.89 L117.86,42.92 L121.40,42.94 L129.40,42.94 L132.94,42.92 L136.41,42.89 L139.83,42.86 L143.18,42.83 L146.46,42.78 L149.68,42.73 L152.83,42.66 L155.92,42.57 L158.94,42.47 L161.89,42.34 L164.78,42.19 L167.59,42.01 L170.34,41.80 L173.01,41.55 L175.62,41.25 L178.15,40.90 L180.61,40.50 L183.00,40.04 L185.31,39.50 L187.55,38.90 L189.70,38.21 L191.79,37.45 L193.79,36.59 L195.71,35.65 L197.55,34.62 L199.30,33.50 L200.97,32.30 L202.55,31.02 L204.04,29.67 L205.44,28.27 L206.75,26.83 L207.95,25.38 L209.06,23.93 L210.06,22.52 L210.95,21.17 L211.72,19.93 L212.37,18.84 L212.88,17.94 L213.24,17.29 L213.40,17.00" fill="none" stroke="#b5a7d6" stroke-width="4.68" stroke-linejoin="round" opacity="1.0" transform="translate(0,-0.48)"/>
<path d="M37.40,17.00 L37.56,17.29 L37.92,17.94 L38.43,18.84 L39.08,19.93 L39.85,21.17 L40.74,22.52 L41.74,23.93 L42.85,25.38 L44.05,26.83 L45.36,28.27 L46.76,29.67 L48.25,31.02 L49.83,32.30 L51.50,33.50 L53.25,34.62 L55.09,35.65 L57.01,36.59 L59.01,37.45 L61.10,38.21 L63.25,38.90 L65.49,39.50 L67.80,40.04 L70.19,40.50 L72.65,40.90 L75.18,41.25 L77.79,41.55 L80.46,41.80 L83.21,42.01 L86.02,42.19 L88.91,42.34 L91.86,42.47 L94.88,42.57 L97.97,42.66 L101.12,42.73 L104.34,42.78 L107.62,42.83 L110.97,42.86 L114.39,42.89 L117.86,42.92 L121.40,42.94 L129.40,42.94 L132.94,42.92 L136.41,42.89 L139.83,42.86 L143.18,42.83 L146.46,42.78 L149.68,42.73 L152.83,42.66 L155.92,42.57 L158.94,42.47 L161.89,42.34 L164.78,42.19 L167.59,42.01 L170.34,41.80 L173.01,41.55 L175.62,41.25 L178.15,40.90 L180.61,40.50 L183.00,40.04 L185.31,39.50 L187.55,38.90 L189.70,38.21 L191.79,37.45 L193.79,36.59 L195.71,35.65 L197.55,34.62 L199.30,33.50 L200.97,32.30 L202.55,31.02 L204.04,29.67 L205.44,28.27 L206.75,26.83 L207.95,25.38 L209.06,23.93 L210.06,22.52 L210.95,21.17 L211.72,19.93 L212.37,18.84 L212.88,17.94 L213.24,17.29 L213.40,17.00" fill="none" stroke="#d6cdeb" stroke-width="1.80" stroke-linejoin="round" opacity="1.0" transform="translate(0,-1.20)"/>
<path d="M37,22 C40,34 43,48 42.5,70 C42,92 43,110 46,123 L37,126 Z" fill="#5a4490" opacity="0.6"/>
<path d="M214,22 C209,34 206.5,48 207,70 C207.5,92 207,110 204,123 L214,126 Z" fill="#5a4490" opacity="0.6"/>
<ellipse cx="40" cy="40" rx="2.4" ry="5" fill="#4e3886" opacity="0.8"/>
<ellipse cx="41.5" cy="58" rx="2.4" ry="5" fill="#4e3886" opacity="0.8"/>
<ellipse cx="40.5" cy="84" rx="2.4" ry="5" fill="#4e3886" opacity="0.8"/>
<ellipse cx="42" cy="106" rx="2.4" ry="5" fill="#4e3886" opacity="0.8"/>
<ellipse cx="210.5" cy="34" rx="2.4" ry="5" fill="#4e3886" opacity="0.8"/>
<ellipse cx="208.5" cy="52" rx="2.4" ry="5" fill="#4e3886" opacity="0.8"/>
<ellipse cx="209.5" cy="72" rx="2.4" ry="5" fill="#4e3886" opacity="0.8"/>
<ellipse cx="208" cy="96" rx="2.4" ry="5" fill="#4e3886" opacity="0.8"/>
<ellipse cx="209.5" cy="114" rx="2.4" ry="5" fill="#4e3886" opacity="0.8"/>
<clipPath id="wallc"><rect x="40.6" y="40" width="18.4" height="90"/><rect x="192" y="40" width="18.4" height="90"/></clipPath>
<g clip-path="url(#wallc)">
<path d="M37.40,17.00 L37.43,35.80 L37.53,45.96 L37.69,54.23 L37.91,61.43 L38.20,67.87 L38.56,73.73 L38.98,79.10 L39.46,84.05 L40.01,88.61 L40.63,92.82 L41.32,96.70 L42.07,100.26 L42.90,103.52 L43.80,106.47 L44.78,109.13 L45.84,111.51 L46.99,113.60 L48.23,115.41 L49.59,116.94 L51.09,118.18 L52.76,119.15 L54.68,119.85 L57.04,120.26 L61.40,120.40 L189.40,120.40 L193.76,120.26 L196.12,119.85 L198.04,119.15 L199.71,118.18 L201.21,116.94 L202.57,115.41 L203.81,113.60 L204.96,111.51 L206.02,109.13 L207.00,106.47 L207.90,103.52 L208.73,100.26 L209.48,96.70 L210.17,92.82 L210.79,88.61 L211.34,84.05 L211.82,79.10 L212.24,73.73 L212.60,67.87 L212.89,61.43 L213.11,54.23 L213.27,45.96 L213.37,35.80 L213.40,17.00" fill="none" stroke="#c3bcd4" stroke-width="3.6" stroke-linejoin="round" opacity="1.0"/>
<path d="M37.40,17.00 L37.43,35.80 L37.53,45.96 L37.69,54.23 L37.91,61.43 L38.20,67.87 L38.56,73.73 L38.98,79.10 L39.46,84.05 L40.01,88.61 L40.63,92.82 L41.32,96.70 L42.07,100.26 L42.90,103.52 L43.80,106.47 L44.78,109.13 L45.84,111.51 L46.99,113.60 L48.23,115.41 L49.59,116.94 L51.09,118.18 L52.76,119.15 L54.68,119.85 L57.04,120.26 L61.40,120.40 L189.40,120.40 L193.76,120.26 L196.12,119.85 L198.04,119.15 L199.71,118.18 L201.21,116.94 L202.57,115.41 L203.81,113.60 L204.96,111.51 L206.02,109.13 L207.00,106.47 L207.90,103.52 L208.73,100.26 L209.48,96.70 L210.17,92.82 L210.79,88.61 L211.34,84.05 L211.82,79.10 L212.24,73.73 L212.60,67.87 L212.89,61.43 L213.11,54.23 L213.27,45.96 L213.37,35.80 L213.40,17.00" fill="none" stroke="#efedf5" stroke-width="2.81" stroke-linejoin="round" opacity="1.0" transform="translate(0,-0.29)"/>
<path d="M37.40,17.00 L37.43,35.80 L37.53,45.96 L37.69,54.23 L37.91,61.43 L38.20,67.87 L38.56,73.73 L38.98,79.10 L39.46,84.05 L40.01,88.61 L40.63,92.82 L41.32,96.70 L42.07,100.26 L42.90,103.52 L43.80,106.47 L44.78,109.13 L45.84,111.51 L46.99,113.60 L48.23,115.41 L49.59,116.94 L51.09,118.18 L52.76,119.15 L54.68,119.85 L57.04,120.26 L61.40,120.40 L189.40,120.40 L193.76,120.26 L196.12,119.85 L198.04,119.15 L199.71,118.18 L201.21,116.94 L202.57,115.41 L203.81,113.60 L204.96,111.51 L206.02,109.13 L207.00,106.47 L207.90,103.52 L208.73,100.26 L209.48,96.70 L210.17,92.82 L210.79,88.61 L211.34,84.05 L211.82,79.10 L212.24,73.73 L212.60,67.87 L212.89,61.43 L213.11,54.23 L213.27,45.96 L213.37,35.80 L213.40,17.00" fill="none" stroke="#fdfcff" stroke-width="1.08" stroke-linejoin="round" opacity="1.0" transform="translate(0,-0.72)"/>
<path d="M37.40,17.00 L37.44,34.86 L37.55,44.51 L37.74,52.36 L38.00,59.19 L38.34,65.31 L38.75,70.87 L39.24,75.98 L39.81,80.67 L40.45,85.01 L41.17,89.01 L41.97,92.69 L42.85,96.08 L43.82,99.17 L44.87,101.97 L46.01,104.50 L47.24,106.76 L48.58,108.74 L50.04,110.46 L51.62,111.91 L53.37,113.10 L55.32,114.02 L57.56,114.67 L60.31,115.07 L65.40,115.20 L185.40,115.20 L190.49,115.07 L193.24,114.67 L195.48,114.02 L197.43,113.10 L199.18,111.91 L200.76,110.46 L202.22,108.74 L203.56,106.76 L204.79,104.50 L205.93,101.97 L206.98,99.17 L207.95,96.08 L208.83,92.69 L209.63,89.01 L210.35,85.01 L210.99,80.67 L211.56,75.98 L212.05,70.87 L212.46,65.31 L212.80,59.19 L213.06,52.36 L213.25,44.51 L213.36,34.86 L213.40,17.00" fill="none" stroke="#bdb6cf" stroke-width="6.4" stroke-linejoin="round" opacity="1.0"/>
<path d="M37.40,17.00 L37.44,34.86 L37.55,44.51 L37.74,52.36 L38.00,59.19 L38.34,65.31 L38.75,70.87 L39.24,75.98 L39.81,80.67 L40.45,85.01 L41.17,89.01 L41.97,92.69 L42.85,96.08 L43.82,99.17 L44.87,101.97 L46.01,104.50 L47.24,106.76 L48.58,108.74 L50.04,110.46 L51.62,111.91 L53.37,113.10 L55.32,114.02 L57.56,114.67 L60.31,115.07 L65.40,115.20 L185.40,115.20 L190.49,115.07 L193.24,114.67 L195.48,114.02 L197.43,113.10 L199.18,111.91 L200.76,110.46 L202.22,108.74 L203.56,106.76 L204.79,104.50 L205.93,101.97 L206.98,99.17 L207.95,96.08 L208.83,92.69 L209.63,89.01 L210.35,85.01 L210.99,80.67 L211.56,75.98 L212.05,70.87 L212.46,65.31 L212.80,59.19 L213.06,52.36 L213.25,44.51 L213.36,34.86 L213.40,17.00" fill="none" stroke="#eeecf5" stroke-width="4.99" stroke-linejoin="round" opacity="1.0" transform="translate(0,-0.51)"/>
<path d="M37.40,17.00 L37.44,34.86 L37.55,44.51 L37.74,52.36 L38.00,59.19 L38.34,65.31 L38.75,70.87 L39.24,75.98 L39.81,80.67 L40.45,85.01 L41.17,89.01 L41.97,92.69 L42.85,96.08 L43.82,99.17 L44.87,101.97 L46.01,104.50 L47.24,106.76 L48.58,108.74 L50.04,110.46 L51.62,111.91 L53.37,113.10 L55.32,114.02 L57.56,114.67 L60.31,115.07 L65.40,115.20 L185.40,115.20 L190.49,115.07 L193.24,114.67 L195.48,114.02 L197.43,113.10 L199.18,111.91 L200.76,110.46 L202.22,108.74 L203.56,106.76 L204.79,104.50 L205.93,101.97 L206.98,99.17 L207.95,96.08 L208.83,92.69 L209.63,89.01 L210.35,85.01 L210.99,80.67 L211.56,75.98 L212.05,70.87 L212.46,65.31 L212.80,59.19 L213.06,52.36 L213.25,44.51 L213.36,34.86 L213.40,17.00" fill="none" stroke="#fefeff" stroke-width="1.92" stroke-linejoin="round" opacity="1.0" transform="translate(0,-1.28)"/>
</g>
<rect x="37" y="16.6" width="177" height="7.6" fill="#735ea6"/>
<rect x="37" y="22.8" width="177" height="1.4" fill="#5e4a92"/>
<path d="M37.40,17.00 L37.50,17.12 L37.73,17.39 L38.06,17.76 L38.48,18.21 L38.97,18.72 L39.55,19.27 L40.19,19.85 L40.90,20.45 L41.68,21.05 L42.52,21.64 L43.42,22.22 L44.37,22.77 L45.39,23.30 L46.46,23.79 L47.59,24.25 L48.77,24.68 L50.01,25.06 L51.29,25.41 L52.63,25.73 L54.02,26.01 L55.46,26.26 L56.94,26.48 L58.48,26.67 L60.06,26.84 L61.69,26.98 L63.36,27.10 L65.08,27.21 L66.85,27.29 L68.66,27.37 L70.51,27.43 L72.41,27.48 L74.35,27.52 L76.34,27.56 L78.36,27.59 L80.43,27.61 L82.54,27.63 L84.70,27.64 L86.89,27.66 L89.13,27.67 L91.40,27.67 L159.40,27.67 L161.67,27.67 L163.91,27.66 L166.10,27.64 L168.26,27.63 L170.37,27.61 L172.44,27.59 L174.46,27.56 L176.45,27.52 L178.39,27.48 L180.29,27.43 L182.14,27.37 L183.95,27.29 L185.72,27.21 L187.44,27.10 L189.11,26.98 L190.74,26.84 L192.32,26.67 L193.86,26.48 L195.34,26.26 L196.78,26.01 L198.17,25.73 L199.51,25.41 L200.79,25.06 L202.03,24.68 L203.21,24.25 L204.34,23.79 L205.41,23.30 L206.43,22.77 L207.38,22.22 L208.28,21.64 L209.12,21.05 L209.90,20.45 L210.61,19.85 L211.25,19.27 L211.83,18.72 L212.32,18.21 L212.74,17.76 L213.07,17.39 L213.30,17.12 L213.40,17.00" fill="none" stroke="#7d6aae" stroke-width="6.4" stroke-linejoin="round" opacity="1.0"/>
<path d="M37.40,17.00 L37.50,17.12 L37.73,17.39 L38.06,17.76 L38.48,18.21 L38.97,18.72 L39.55,19.27 L40.19,19.85 L40.90,20.45 L41.68,21.05 L42.52,21.64 L43.42,22.22 L44.37,22.77 L45.39,23.30 L46.46,23.79 L47.59,24.25 L48.77,24.68 L50.01,25.06 L51.29,25.41 L52.63,25.73 L54.02,26.01 L55.46,26.26 L56.94,26.48 L58.48,26.67 L60.06,26.84 L61.69,26.98 L63.36,27.10 L65.08,27.21 L66.85,27.29 L68.66,27.37 L70.51,27.43 L72.41,27.48 L74.35,27.52 L76.34,27.56 L78.36,27.59 L80.43,27.61 L82.54,27.63 L84.70,27.64 L86.89,27.66 L89.13,27.67 L91.40,27.67 L159.40,27.67 L161.67,27.67 L163.91,27.66 L166.10,27.64 L168.26,27.63 L170.37,27.61 L172.44,27.59 L174.46,27.56 L176.45,27.52 L178.39,27.48 L180.29,27.43 L182.14,27.37 L183.95,27.29 L185.72,27.21 L187.44,27.10 L189.11,26.98 L190.74,26.84 L192.32,26.67 L193.86,26.48 L195.34,26.26 L196.78,26.01 L198.17,25.73 L199.51,25.41 L200.79,25.06 L202.03,24.68 L203.21,24.25 L204.34,23.79 L205.41,23.30 L206.43,22.77 L207.38,22.22 L208.28,21.64 L209.12,21.05 L209.90,20.45 L210.61,19.85 L211.25,19.27 L211.83,18.72 L212.32,18.21 L212.74,17.76 L213.07,17.39 L213.30,17.12 L213.40,17.00" fill="none" stroke="#ae9fd1" stroke-width="4.99" stroke-linejoin="round" opacity="1.0" transform="translate(0,-0.51)"/>
<path d="M37.40,17.00 L37.50,17.12 L37.73,17.39 L38.06,17.76 L38.48,18.21 L38.97,18.72 L39.55,19.27 L40.19,19.85 L40.90,20.45 L41.68,21.05 L42.52,21.64 L43.42,22.22 L44.37,22.77 L45.39,23.30 L46.46,23.79 L47.59,24.25 L48.77,24.68 L50.01,25.06 L51.29,25.41 L52.63,25.73 L54.02,26.01 L55.46,26.26 L56.94,26.48 L58.48,26.67 L60.06,26.84 L61.69,26.98 L63.36,27.10 L65.08,27.21 L66.85,27.29 L68.66,27.37 L70.51,27.43 L72.41,27.48 L74.35,27.52 L76.34,27.56 L78.36,27.59 L80.43,27.61 L82.54,27.63 L84.70,27.64 L86.89,27.66 L89.13,27.67 L91.40,27.67 L159.40,27.67 L161.67,27.67 L163.91,27.66 L166.10,27.64 L168.26,27.63 L170.37,27.61 L172.44,27.59 L174.46,27.56 L176.45,27.52 L178.39,27.48 L180.29,27.43 L182.14,27.37 L183.95,27.29 L185.72,27.21 L187.44,27.10 L189.11,26.98 L190.74,26.84 L192.32,26.67 L193.86,26.48 L195.34,26.26 L196.78,26.01 L198.17,25.73 L199.51,25.41 L200.79,25.06 L202.03,24.68 L203.21,24.25 L204.34,23.79 L205.41,23.30 L206.43,22.77 L207.38,22.22 L208.28,21.64 L209.12,21.05 L209.90,20.45 L210.61,19.85 L211.25,19.27 L211.83,18.72 L212.32,18.21 L212.74,17.76 L213.07,17.39 L213.30,17.12 L213.40,17.00" fill="none" stroke="#c9bde3" stroke-width="1.92" stroke-linejoin="round" opacity="1.0" transform="translate(0,-1.28)"/>
</g>
<rect x="36.60" y="16.20" width="177.60" height="112.60" fill="none" stroke="#2a2a2a" stroke-width="1"/>
<clipPath id="ca2"><rect x="241.8" y="16.5" width="174.5" height="111.4"/></clipPath>
<g clip-path="url(#ca2)">
<rect x="241.8" y="16.5" width="175" height="112" fill="#fcfbfd"/>
<line x1="250" y1="61.3" x2="408" y2="61.3" stroke="#cfcdd6" stroke-width="0.7"/>
<line x1="250" y1="71.0" x2="408" y2="71.0" stroke="#cfcdd6" stroke-width="0.7"/>
<line x1="250" y1="103.3" x2="408" y2="103.3" stroke="#cfcdd6" stroke-width="0.7"/>
<line x1="250" y1="86.0" x2="408" y2="86.0" stroke="#cfcdd6" stroke-width="0.7"/>
<line x1="250" y1="112.0" x2="408" y2="112.0" stroke="#cfcdd6" stroke-width="0.7"/>
<rect x="241.8" y="108" width="175" height="20" fill="#d6cfe6"/>
<line x1="244.0" y1="108" x2="244.0" y2="127.5" stroke="#b7abd2" stroke-width="0.9"/>
<line x1="246.9" y1="108" x2="246.9" y2="127.5" stroke="#b7abd2" stroke-width="0.9"/>
<line x1="249.8" y1="108" x2="249.8" y2="127.5" stroke="#b7abd2" stroke-width="0.9"/>
<line x1="252.7" y1="108" x2="252.7" y2="127.5" stroke="#b7abd2" stroke-width="0.9"/>
<line x1="255.6" y1="108" x2="255.6" y2="127.5" stroke="#b7abd2" stroke-width="0.9"/>
<line x1="258.5" y1="108" x2="258.5" y2="127.5" stroke="#b7abd2" stroke-width="0.9"/>
<line x1="261.4" y1="108" x2="261.4" y2="127.5" stroke="#b7abd2" stroke-width="0.9"/>
<line x1="264.3" y1="108" x2="264.3" y2="127.5" stroke="#b7abd2" stroke-width="0.9"/>
<line x1="267.2" y1="108" x2="267.2" y2="127.5" stroke="#b7abd2" stroke-width="0.9"/>
<line x1="270.1" y1="108" x2="270.1" y2="127.5" stroke="#b7abd2" stroke-width="0.9"/>
<line x1="273.0" y1="108" x2="273.0" y2="127.5" stroke="#b7abd2" stroke-width="0.9"/>
<line x1="275.9" y1="108" x2="275.9" y2="127.5" stroke="#b7abd2" stroke-width="0.9"/>
<line x1="278.8" y1="108" x2="278.8" y2="127.5" stroke="#b7abd2" stroke-width="0.9"/>
<line x1="281.7" y1="108" x2="281.7" y2="127.5" stroke="#b7abd2" stroke-width="0.9"/>
<line x1="284.6" y1="108" x2="284.6" y2="127.5" stroke="#b7abd2" stroke-width="0.9"/>
<line x1="287.5" y1="108" x2="287.5" y2="127.5" stroke="#b7abd2" stroke-width="0.9"/>
<line x1="290.4" y1="108" x2="290.4" y2="127.5" stroke="#b7abd2" stroke-width="0.9"/>
<line x1="293.3" y1="108" x2="293.3" y2="127.5" stroke="#b7abd2" stroke-width="0.9"/>
<line x1="296.2" y1="108" x2="296.2" y2="127.5" stroke="#b7abd2" stroke-width="0.9"/>
<line x1="299.1" y1="108" x2="299.1" y2="127.5" stroke="#b7abd2" stroke-width="0.9"/>
<line x1="302.0" y1="108" x2="302.0" y2="127.5" stroke="#b7abd2" stroke-width="0.9"/>
<line x1="304.9" y1="108" x2="304.9" y2="127.5" stroke="#b7abd2" stroke-width="0.9"/>
<line x1="307.8" y1="108" x2="307.8" y2="127.5" stroke="#b7abd2" stroke-width="0.9"/>
<line x1="310.7" y1="108" x2="310.7" y2="127.5" stroke="#b7abd2" stroke-width="0.9"/>
<line x1="313.6" y1="108" x2="313.6" y2="127.5" stroke="#b7abd2" stroke-width="0.9"/>
<line x1="316.5" y1="108" x2="316.5" y2="127.5" stroke="#b7abd2" stroke-width="0.9"/>
<line x1="319.4" y1="108" x2="319.4" y2="127.5" stroke="#b7abd2" stroke-width="0.9"/>
<line x1="322.3" y1="108" x2="322.3" y2="127.5" stroke="#b7abd2" stroke-width="0.9"/>
<line x1="325.2" y1="108" x2="325.2" y2="127.5" stroke="#b7abd2" stroke-width="0.9"/>
<line x1="328.1" y1="108" x2="328.1" y2="127.5" stroke="#b7abd2" stroke-width="0.9"/>
<line x1="331.0" y1="108" x2="331.0" y2="127.5" stroke="#b7abd2" stroke-width="0.9"/>
<line x1="333.9" y1="108" x2="333.9" y2="127.5" stroke="#b7abd2" stroke-width="0.9"/>
<line x1="336.8" y1="108" x2="336.8" y2="127.5" stroke="#b7abd2" stroke-width="0.9"/>
<line x1="339.7" y1="108" x2="339.7" y2="127.5" stroke="#b7abd2" stroke-width="0.9"/>
<line x1="342.6" y1="108" x2="342.6" y2="127.5" stroke="#b7abd2" stroke-width="0.9"/>
<line x1="345.5" y1="108" x2="345.5" y2="127.5" stroke="#b7abd2" stroke-width="0.9"/>
<line x1="348.4" y1="108" x2="348.4" y2="127.5" stroke="#b7abd2" stroke-width="0.9"/>
<line x1="351.3" y1="108" x2="351.3" y2="127.5" stroke="#b7abd2" stroke-width="0.9"/>
<line x1="354.2" y1="108" x2="354.2" y2="127.5" stroke="#b7abd2" stroke-width="0.9"/>
<line x1="357.1" y1="108" x2="357.1" y2="127.5" stroke="#b7abd2" stroke-width="0.9"/>
<line x1="360.0" y1="108" x2="360.0" y2="127.5" stroke="#b7abd2" stroke-width="0.9"/>
<line x1="362.9" y1="108" x2="362.9" y2="127.5" stroke="#b7abd2" stroke-width="0.9"/>
<line x1="365.8" y1="108" x2="365.8" y2="127.5" stroke="#b7abd2" stroke-width="0.9"/>
<line x1="368.7" y1="108" x2="368.7" y2="127.5" stroke="#b7abd2" stroke-width="0.9"/>
<line x1="371.6" y1="108" x2="371.6" y2="127.5" stroke="#b7abd2" stroke-width="0.9"/>
<line x1="374.5" y1="108" x2="374.5" y2="127.5" stroke="#b7abd2" stroke-width="0.9"/>
<line x1="377.4" y1="108" x2="377.4" y2="127.5" stroke="#b7abd2" stroke-width="0.9"/>
<line x1="380.3" y1="108" x2="380.3" y2="127.5" stroke="#b7abd2" stroke-width="0.9"/>
<line x1="383.2" y1="108" x2="383.2" y2="127.5" stroke="#b7abd2" stroke-width="0.9"/>
<line x1="386.1" y1="108" x2="386.1" y2="127.5" stroke="#b7abd2" stroke-width="0.9"/>
<line x1="389.0" y1="108" x2="389.0" y2="127.5" stroke="#b7abd2" stroke-width="0.9"/>
<line x1="391.9" y1="108" x2="391.9" y2="127.5" stroke="#b7abd2" stroke-width="0.9"/>
<line x1="394.8" y1="108" x2="394.8" y2="127.5" stroke="#b7abd2" stroke-width="0.9"/>
<line x1="397.7" y1="108" x2="397.7" y2="127.5" stroke="#b7abd2" stroke-width="0.9"/>
<line x1="400.6" y1="108" x2="400.6" y2="127.5" stroke="#b7abd2" stroke-width="0.9"/>
<line x1="403.5" y1="108" x2="403.5" y2="127.5" stroke="#b7abd2" stroke-width="0.9"/>
<line x1="406.4" y1="108" x2="406.4" y2="127.5" stroke="#b7abd2" stroke-width="0.9"/>
<line x1="409.3" y1="108" x2="409.3" y2="127.5" stroke="#b7abd2" stroke-width="0.9"/>
<line x1="412.2" y1="108" x2="412.2" y2="127.5" stroke="#b7abd2" stroke-width="0.9"/>
<line x1="415.1" y1="108" x2="415.1" y2="127.5" stroke="#b7abd2" stroke-width="0.9"/>
<line x1="241.8" y1="116.5" x2="416" y2="116.5" stroke="#9f90c8" stroke-width="1.4"/>
<line x1="241.8" y1="120.3" x2="416" y2="120.3" stroke="#a696cd" stroke-width="1.6"/>
<line x1="241.8" y1="125.5" x2="416" y2="125.5" stroke="#cbc2de" stroke-width="2.2"/>
<rect x="250" y="33.5" width="158" height="8.3" fill="#dcd6e8"/>
<line x1="251.0" y1="33.5" x2="251.0" y2="41.8" stroke="#c2b8d8" stroke-width="0.9"/>
<line x1="253.8" y1="33.5" x2="253.8" y2="41.8" stroke="#c2b8d8" stroke-width="0.9"/>
<line x1="256.6" y1="33.5" x2="256.6" y2="41.8" stroke="#c2b8d8" stroke-width="0.9"/>
<line x1="259.4" y1="33.5" x2="259.4" y2="41.8" stroke="#c2b8d8" stroke-width="0.9"/>
<line x1="262.2" y1="33.5" x2="262.2" y2="41.8" stroke="#c2b8d8" stroke-width="0.9"/>
<line x1="265.0" y1="33.5" x2="265.0" y2="41.8" stroke="#c2b8d8" stroke-width="0.9"/>
<line x1="267.8" y1="33.5" x2="267.8" y2="41.8" stroke="#c2b8d8" stroke-width="0.9"/>
<line x1="270.6" y1="33.5" x2="270.6" y2="41.8" stroke="#c2b8d8" stroke-width="0.9"/>
<line x1="273.4" y1="33.5" x2="273.4" y2="41.8" stroke="#c2b8d8" stroke-width="0.9"/>
<line x1="276.2" y1="33.5" x2="276.2" y2="41.8" stroke="#c2b8d8" stroke-width="0.9"/>
<line x1="279.0" y1="33.5" x2="279.0" y2="41.8" stroke="#c2b8d8" stroke-width="0.9"/>
<line x1="281.8" y1="33.5" x2="281.8" y2="41.8" stroke="#c2b8d8" stroke-width="0.9"/>
<line x1="284.6" y1="33.5" x2="284.6" y2="41.8" stroke="#c2b8d8" stroke-width="0.9"/>
<line x1="287.4" y1="33.5" x2="287.4" y2="41.8" stroke="#c2b8d8" stroke-width="0.9"/>
<line x1="290.2" y1="33.5" x2="290.2" y2="41.8" stroke="#c2b8d8" stroke-width="0.9"/>
<line x1="293.0" y1="33.5" x2="293.0" y2="41.8" stroke="#c2b8d8" stroke-width="0.9"/>
<line x1="295.8" y1="33.5" x2="295.8" y2="41.8" stroke="#c2b8d8" stroke-width="0.9"/>
<line x1="298.6" y1="33.5" x2="298.6" y2="41.8" stroke="#c2b8d8" stroke-width="0.9"/>
<line x1="301.4" y1="33.5" x2="301.4" y2="41.8" stroke="#c2b8d8" stroke-width="0.9"/>
<line x1="304.2" y1="33.5" x2="304.2" y2="41.8" stroke="#c2b8d8" stroke-width="0.9"/>
<line x1="307.0" y1="33.5" x2="307.0" y2="41.8" stroke="#c2b8d8" stroke-width="0.9"/>
<line x1="309.8" y1="33.5" x2="309.8" y2="41.8" stroke="#c2b8d8" stroke-width="0.9"/>
<line x1="312.6" y1="33.5" x2="312.6" y2="41.8" stroke="#c2b8d8" stroke-width="0.9"/>
<line x1="315.4" y1="33.5" x2="315.4" y2="41.8" stroke="#c2b8d8" stroke-width="0.9"/>
<line x1="318.2" y1="33.5" x2="318.2" y2="41.8" stroke="#c2b8d8" stroke-width="0.9"/>
<line x1="321.0" y1="33.5" x2="321.0" y2="41.8" stroke="#c2b8d8" stroke-width="0.9"/>
<line x1="323.8" y1="33.5" x2="323.8" y2="41.8" stroke="#c2b8d8" stroke-width="0.9"/>
<line x1="326.6" y1="33.5" x2="326.6" y2="41.8" stroke="#c2b8d8" stroke-width="0.9"/>
<line x1="329.4" y1="33.5" x2="329.4" y2="41.8" stroke="#c2b8d8" stroke-width="0.9"/>
<line x1="332.2" y1="33.5" x2="332.2" y2="41.8" stroke="#c2b8d8" stroke-width="0.9"/>
<line x1="335.0" y1="33.5" x2="335.0" y2="41.8" stroke="#c2b8d8" stroke-width="0.9"/>
<line x1="337.8" y1="33.5" x2="337.8" y2="41.8" stroke="#c2b8d8" stroke-width="0.9"/>
<line x1="340.6" y1="33.5" x2="340.6" y2="41.8" stroke="#c2b8d8" stroke-width="0.9"/>
<line x1="343.4" y1="33.5" x2="343.4" y2="41.8" stroke="#c2b8d8" stroke-width="0.9"/>
<line x1="346.2" y1="33.5" x2="346.2" y2="41.8" stroke="#c2b8d8" stroke-width="0.9"/>
<line x1="349.0" y1="33.5" x2="349.0" y2="41.8" stroke="#c2b8d8" stroke-width="0.9"/>
<line x1="351.8" y1="33.5" x2="351.8" y2="41.8" stroke="#c2b8d8" stroke-width="0.9"/>
<line x1="354.6" y1="33.5" x2="354.6" y2="41.8" stroke="#c2b8d8" stroke-width="0.9"/>
<line x1="357.4" y1="33.5" x2="357.4" y2="41.8" stroke="#c2b8d8" stroke-width="0.9"/>
<line x1="360.2" y1="33.5" x2="360.2" y2="41.8" stroke="#c2b8d8" stroke-width="0.9"/>
<line x1="363.0" y1="33.5" x2="363.0" y2="41.8" stroke="#c2b8d8" stroke-width="0.9"/>
<line x1="365.8" y1="33.5" x2="365.8" y2="41.8" stroke="#c2b8d8" stroke-width="0.9"/>
<line x1="368.6" y1="33.5" x2="368.6" y2="41.8" stroke="#c2b8d8" stroke-width="0.9"/>
<line x1="371.4" y1="33.5" x2="371.4" y2="41.8" stroke="#c2b8d8" stroke-width="0.9"/>
<line x1="374.2" y1="33.5" x2="374.2" y2="41.8" stroke="#c2b8d8" stroke-width="0.9"/>
<line x1="377.0" y1="33.5" x2="377.0" y2="41.8" stroke="#c2b8d8" stroke-width="0.9"/>
<line x1="379.8" y1="33.5" x2="379.8" y2="41.8" stroke="#c2b8d8" stroke-width="0.9"/>
<line x1="382.6" y1="33.5" x2="382.6" y2="41.8" stroke="#c2b8d8" stroke-width="0.9"/>
<line x1="385.4" y1="33.5" x2="385.4" y2="41.8" stroke="#c2b8d8" stroke-width="0.9"/>
<line x1="388.2" y1="33.5" x2="388.2" y2="41.8" stroke="#c2b8d8" stroke-width="0.9"/>
<line x1="391.0" y1="33.5" x2="391.0" y2="41.8" stroke="#c2b8d8" stroke-width="0.9"/>
<line x1="393.8" y1="33.5" x2="393.8" y2="41.8" stroke="#c2b8d8" stroke-width="0.9"/>
<line x1="396.6" y1="33.5" x2="396.6" y2="41.8" stroke="#c2b8d8" stroke-width="0.9"/>
<line x1="399.4" y1="33.5" x2="399.4" y2="41.8" stroke="#c2b8d8" stroke-width="0.9"/>
<line x1="402.2" y1="33.5" x2="402.2" y2="41.8" stroke="#c2b8d8" stroke-width="0.9"/>
<line x1="405.0" y1="33.5" x2="405.0" y2="41.8" stroke="#c2b8d8" stroke-width="0.9"/>
<path d="M242,40 C250,60 246,90 252,110 L242,118 Z" fill="#c8bedf" opacity="0.8"/>
<path d="M416,40 C408,60 412,90 406,110 L416,118 Z" fill="#c8bedf" opacity="0.8"/>
<path d="M251.00,117.00 L251.04,115.53 L251.16,114.06 L251.37,112.61 L251.65,111.18 L252.01,109.77 L252.45,108.39 L252.96,107.05 L253.55,105.75 L254.20,104.50 L254.93,103.30 L255.72,102.16 L256.56,101.09 L257.47,100.08 L258.43,99.15 L259.44,98.29 L260.50,97.51 L261.60,96.82 L262.73,96.21 L263.89,95.69 L265.08,95.27 L266.29,94.93 L267.52,94.69 L268.76,94.55 L270.00,94.50 L389.00,94.50 L390.24,94.55 L391.48,94.69 L392.71,94.93 L393.92,95.27 L395.11,95.69 L396.27,96.21 L397.40,96.82 L398.50,97.51 L399.56,98.29 L400.57,99.15 L401.53,100.08 L402.44,101.09 L403.28,102.16 L404.07,103.30 L404.80,104.50 L405.45,105.75 L406.04,107.05 L406.55,108.39 L406.99,109.77 L407.35,111.18 L407.63,112.61 L407.84,114.06 L407.96,115.53 L408.00,117.00" fill="none" stroke="#4b3282" stroke-width="3.4" opacity="1.0"/>
<path d="M242.80,68.00 L242.83,69.61 L242.90,71.21 L243.03,72.80 L243.21,74.37 L243.44,75.91 L243.71,77.41 L244.04,78.88 L244.41,80.30 L244.82,81.67 L245.28,82.98 L245.78,84.22 L246.31,85.39 L246.89,86.50 L247.49,87.52 L248.13,88.45 L248.80,89.30 L249.49,90.06 L250.21,90.73 L250.94,91.29 L251.69,91.76 L252.46,92.13 L253.23,92.39 L254.02,92.55 L254.80,92.60 L403.40,92.60 L404.18,92.55 L404.97,92.39 L405.74,92.13 L406.51,91.76 L407.26,91.29 L407.99,90.73 L408.71,90.06 L409.40,89.30 L410.07,88.45 L410.71,87.52 L411.31,86.50 L411.89,85.39 L412.42,84.22 L412.92,82.98 L413.38,81.67 L413.79,80.30 L414.16,78.88 L414.49,77.41 L414.76,75.91 L414.99,74.37 L415.17,72.80 L415.30,71.21 L415.37,69.61 L415.40,68.00" fill="none" stroke="#654f9f" stroke-width="6.0" stroke-linecap="round" stroke-linejoin="round" opacity="1.0"/>
<path d="M242.80,68.00 L242.83,69.61 L242.90,71.21 L243.03,72.80 L243.21,74.37 L243.44,75.91 L243.71,77.41 L244.04,78.88 L244.41,80.30 L244.82,81.67 L245.28,82.98 L245.78,84.22 L246.31,85.39 L246.89,86.50 L247.49,87.52 L248.13,88.45 L248.80,89.30 L249.49,90.06 L250.21,90.73 L250.94,91.29 L251.69,91.76 L252.46,92.13 L253.23,92.39 L254.02,92.55 L254.80,92.60 L403.40,92.60 L404.18,92.55 L404.97,92.39 L405.74,92.13 L406.51,91.76 L407.26,91.29 L407.99,90.73 L408.71,90.06 L409.40,89.30 L410.07,88.45 L410.71,87.52 L411.31,86.50 L411.89,85.39 L412.42,84.22 L412.92,82.98 L413.38,81.67 L413.79,80.30 L414.16,78.88 L414.49,77.41 L414.76,75.91 L414.99,74.37 L415.17,72.80 L415.30,71.21 L415.37,69.61 L415.40,68.00" fill="none" stroke="#8b75c0" stroke-width="3.72" stroke-linecap="round" stroke-linejoin="round" opacity="1.0"/>
<path d="M242.80,56.00 L242.82,57.59 L242.89,59.17 L243.01,60.74 L243.17,62.29 L243.38,63.81 L243.64,65.30 L243.93,66.75 L244.27,68.15 L244.65,69.50 L245.07,70.79 L245.53,72.02 L246.02,73.18 L246.55,74.27 L247.10,75.28 L247.69,76.20 L248.30,77.04 L248.93,77.79 L249.59,78.45 L250.26,79.01 L250.95,79.47 L251.65,79.83 L252.36,80.09 L253.08,80.25 L253.80,80.30 L404.40,80.30 L405.12,80.25 L405.84,80.09 L406.55,79.83 L407.25,79.47 L407.94,79.01 L408.61,78.45 L409.27,77.79 L409.90,77.04 L410.51,76.20 L411.10,75.28 L411.65,74.27 L412.18,73.18 L412.67,72.02 L413.13,70.79 L413.55,69.50 L413.93,68.15 L414.27,66.75 L414.56,65.30 L414.82,63.81 L415.03,62.29 L415.19,60.74 L415.31,59.17 L415.38,57.59 L415.40,56.00" fill="none" stroke="#6a55a4" stroke-width="5.6" stroke-linecap="round" stroke-linejoin="round" opacity="1.0"/>
<path d="M242.80,56.00 L242.82,57.59 L242.89,59.17 L243.01,60.74 L243.17,62.29 L243.38,63.81 L243.64,65.30 L243.93,66.75 L244.27,68.15 L244.65,69.50 L245.07,70.79 L245.53,72.02 L246.02,73.18 L246.55,74.27 L247.10,75.28 L247.69,76.20 L248.30,77.04 L248.93,77.79 L249.59,78.45 L250.26,79.01 L250.95,79.47 L251.65,79.83 L252.36,80.09 L253.08,80.25 L253.80,80.30 L404.40,80.30 L405.12,80.25 L405.84,80.09 L406.55,79.83 L407.25,79.47 L407.94,79.01 L408.61,78.45 L409.27,77.79 L409.90,77.04 L410.51,76.20 L411.10,75.28 L411.65,74.27 L412.18,73.18 L412.67,72.02 L413.13,70.79 L413.55,69.50 L413.93,68.15 L414.27,66.75 L414.56,65.30 L414.82,63.81 L415.03,62.29 L415.19,60.74 L415.31,59.17 L415.38,57.59 L415.40,56.00" fill="none" stroke="#8f7ac3" stroke-width="3.47" stroke-linecap="round" stroke-linejoin="round" opacity="1.0"/>
<path d="M242.80,44.00 L242.82,45.45 L242.89,46.90 L242.99,48.33 L243.14,49.75 L243.33,51.14 L243.56,52.50 L243.83,53.82 L244.14,55.10 L244.49,56.33 L244.87,57.51 L245.28,58.64 L245.73,59.70 L246.21,60.69 L246.71,61.61 L247.24,62.46 L247.80,63.23 L248.38,63.91 L248.97,64.51 L249.59,65.02 L250.21,65.44 L250.85,65.77 L251.49,66.01 L252.15,66.15 L252.80,66.20 L405.40,66.20 L406.05,66.15 L406.71,66.01 L407.35,65.77 L407.99,65.44 L408.61,65.02 L409.23,64.51 L409.82,63.91 L410.40,63.23 L410.96,62.46 L411.49,61.61 L411.99,60.69 L412.47,59.70 L412.92,58.64 L413.33,57.51 L413.71,56.33 L414.06,55.10 L414.37,53.82 L414.64,52.50 L414.87,51.14 L415.06,49.75 L415.21,48.33 L415.31,46.90 L415.38,45.45 L415.40,44.00" fill="none" stroke="#6a55a4" stroke-width="2.8" stroke-linecap="round" stroke-linejoin="round" opacity="1.0"/>
<path d="M242.80,44.00 L242.82,45.45 L242.89,46.90 L242.99,48.33 L243.14,49.75 L243.33,51.14 L243.56,52.50 L243.83,53.82 L244.14,55.10 L244.49,56.33 L244.87,57.51 L245.28,58.64 L245.73,59.70 L246.21,60.69 L246.71,61.61 L247.24,62.46 L247.80,63.23 L248.38,63.91 L248.97,64.51 L249.59,65.02 L250.21,65.44 L250.85,65.77 L251.49,66.01 L252.15,66.15 L252.80,66.20 L405.40,66.20 L406.05,66.15 L406.71,66.01 L407.35,65.77 L407.99,65.44 L408.61,65.02 L409.23,64.51 L409.82,63.91 L410.40,63.23 L410.96,62.46 L411.49,61.61 L411.99,60.69 L412.47,59.70 L412.92,58.64 L413.33,57.51 L413.71,56.33 L414.06,55.10 L414.37,53.82 L414.64,52.50 L414.87,51.14 L415.06,49.75 L415.21,48.33 L415.31,46.90 L415.38,45.45 L415.40,44.00" fill="none" stroke="#8c77c0" stroke-width="1.74" stroke-linecap="round" stroke-linejoin="round" opacity="1.0"/>
<path d="M242.80,30.00 L242.82,31.41 L242.89,32.82 L242.99,34.21 L243.14,35.59 L243.33,36.94 L243.56,38.27 L243.83,39.55 L244.14,40.80 L244.49,42.00 L244.87,43.15 L245.28,44.24 L245.73,45.27 L246.21,46.24 L246.71,47.14 L247.24,47.96 L247.80,48.71 L248.38,49.37 L248.97,49.96 L249.59,50.45 L250.21,50.86 L250.85,51.18 L251.49,51.42 L252.15,51.55 L252.80,51.60 L405.40,51.60 L406.05,51.55 L406.71,51.42 L407.35,51.18 L407.99,50.86 L408.61,50.45 L409.23,49.96 L409.82,49.37 L410.40,48.71 L410.96,47.96 L411.49,47.14 L411.99,46.24 L412.47,45.27 L412.92,44.24 L413.33,43.15 L413.71,42.00 L414.06,40.80 L414.37,39.55 L414.64,38.27 L414.87,36.94 L415.06,35.59 L415.21,34.21 L415.31,32.82 L415.38,31.41 L415.40,30.00" fill="none" stroke="#6a55a4" stroke-width="5.6" stroke-linecap="round" stroke-linejoin="round" opacity="1.0"/>
<path d="M242.80,30.00 L242.82,31.41 L242.89,32.82 L242.99,34.21 L243.14,35.59 L243.33,36.94 L243.56,38.27 L243.83,39.55 L244.14,40.80 L244.49,42.00 L244.87,43.15 L245.28,44.24 L245.73,45.27 L246.21,46.24 L246.71,47.14 L247.24,47.96 L247.80,48.71 L248.38,49.37 L248.97,49.96 L249.59,50.45 L250.21,50.86 L250.85,51.18 L251.49,51.42 L252.15,51.55 L252.80,51.60 L405.40,51.60 L406.05,51.55 L406.71,51.42 L407.35,51.18 L407.99,50.86 L408.61,50.45 L409.23,49.96 L409.82,49.37 L410.40,48.71 L410.96,47.96 L411.49,47.14 L411.99,46.24 L412.47,45.27 L412.92,44.24 L413.33,43.15 L413.71,42.00 L414.06,40.80 L414.37,39.55 L414.64,38.27 L414.87,36.94 L415.06,35.59 L415.21,34.21 L415.31,32.82 L415.38,31.41 L415.40,30.00" fill="none" stroke="#8f7ac3" stroke-width="3.47" stroke-linecap="round" stroke-linejoin="round" opacity="1.0"/>
<rect x="241.8" y="16.5" width="175" height="16.4" fill="#7c64b2"/>
<rect x="241.8" y="21.4" width="175" height="1.2" fill="#6a52a2"/>
<rect x="241.8" y="26.0" width="175" height="1.2" fill="#5c4596"/>
<rect x="241.8" y="31.6" width="175" height="1.4" fill="#5c4596"/>
<rect x="241.8" y="28.2" width="175" height="1.0" fill="#9a86cc"/>
</g>
<rect x="241.30" y="16.00" width="175.50" height="112.40" fill="none" stroke="#1e1e1e" stroke-width="1"/>
<text x="39.40" y="139.00" font-family="Liberation Sans" font-size="7.6" font-weight="normal" font-style="normal" text-anchor="middle" fill="#222" >0</text>
<text x="244.60" y="137.90" font-family="Liberation Sans" font-size="7.6" font-weight="normal" font-style="normal" text-anchor="middle" fill="#222" >0</text>
<text x="73.85" y="139.00" font-family="Liberation Sans" font-size="7.6" font-weight="normal" font-style="normal" text-anchor="middle" fill="#222" >10</text>
<text x="278.85" y="137.90" font-family="Liberation Sans" font-size="7.6" font-weight="normal" font-style="normal" text-anchor="middle" fill="#222" >10</text>
<text x="108.30" y="139.00" font-family="Liberation Sans" font-size="7.6" font-weight="normal" font-style="normal" text-anchor="middle" fill="#222" >20</text>
<text x="313.10" y="137.90" font-family="Liberation Sans" font-size="7.6" font-weight="normal" font-style="normal" text-anchor="middle" fill="#222" >20</text>
<text x="142.75" y="139.00" font-family="Liberation Sans" font-size="7.6" font-weight="normal" font-style="normal" text-anchor="middle" fill="#222" >30</text>
<text x="347.35" y="137.90" font-family="Liberation Sans" font-size="7.6" font-weight="normal" font-style="normal" text-anchor="middle" fill="#222" >30</text>
<text x="177.20" y="139.00" font-family="Liberation Sans" font-size="7.6" font-weight="normal" font-style="normal" text-anchor="middle" fill="#222" >40</text>
<text x="381.60" y="137.90" font-family="Liberation Sans" font-size="7.6" font-weight="normal" font-style="normal" text-anchor="middle" fill="#222" >40</text>
<text x="211.65" y="139.00" font-family="Liberation Sans" font-size="7.6" font-weight="normal" font-style="normal" text-anchor="middle" fill="#222" >50</text>
<text x="415.85" y="137.90" font-family="Liberation Sans" font-size="7.6" font-weight="normal" font-style="normal" text-anchor="middle" fill="#222" >50</text>
<text x="125.80" y="153.00" font-family="Liberation Sans" font-size="9.7" font-weight="normal" font-style="normal" text-anchor="middle" fill="#222" >Height (&#956;m)</text>
<text x="330.40" y="151.80" font-family="Liberation Sans" font-size="9.7" font-weight="normal" font-style="normal" text-anchor="middle" fill="#222" >Height (&#956;m)</text>
<text x="98.6" y="8.8" font-family="Liberation Sans" font-size="9.6" fill="#222">0.1 m s<tspan font-size="6.2" dy="-3.4">-1</tspan></text>
<text x="303.6" y="8.7" font-family="Liberation Sans" font-size="9.6" fill="#222">1.0 m s<tspan font-size="6.2" dy="-3.4">-1</tspan></text>
<g transform="translate(31.6,74.5) rotate(-90)"><text x="0" y="0" text-anchor="middle" font-family="Liberation Serif" font-style="italic" font-size="10" fill="#222">C<tspan font-size="6.5" dy="1.8">2</tspan><tspan dy="-1.8">/ C</tspan><tspan font-size="6.5" dy="1.8">1</tspan></text></g>
<g transform="translate(236.4,69.7) rotate(-90)"><text x="0" y="0" text-anchor="middle" font-family="Liberation Serif" font-style="italic" font-size="10" fill="#222">C<tspan font-size="6.5" dy="1.8">2</tspan><tspan dy="-1.8">/ C</tspan><tspan font-size="6.5" dy="1.8">1</tspan></text></g>
<line x1="471.60" y1="10.00" x2="471.60" y2="115.90" stroke="#444" stroke-width="1.0" />
<line x1="471.10" y1="115.40" x2="676.80" y2="115.40" stroke="#444" stroke-width="1.0" />
<line x1="469.00" y1="115.40" x2="471.60" y2="115.40" stroke="#444" stroke-width="0.9" />
<text x="467.60" y="118.00" font-family="Liberation Sans" font-size="7.4" font-weight="normal" font-style="normal" text-anchor="end" fill="#3a3a3a" >0</text>
<line x1="469.00" y1="103.72" x2="471.60" y2="103.72" stroke="#444" stroke-width="0.9" />
<text x="467.60" y="106.31" font-family="Liberation Sans" font-size="7.4" font-weight="normal" font-style="normal" text-anchor="end" fill="#3a3a3a" >5</text>
<line x1="469.00" y1="92.03" x2="471.60" y2="92.03" stroke="#444" stroke-width="0.9" />
<text x="467.60" y="94.63" font-family="Liberation Sans" font-size="7.4" font-weight="normal" font-style="normal" text-anchor="end" fill="#3a3a3a" >10</text>
<line x1="469.00" y1="80.34" x2="471.60" y2="80.34" stroke="#444" stroke-width="0.9" />
<text x="467.60" y="82.94" font-family="Liberation Sans" font-size="7.4" font-weight="normal" font-style="normal" text-anchor="end" fill="#3a3a3a" >15</text>
<line x1="469.00" y1="68.66" x2="471.60" y2="68.66" stroke="#444" stroke-width="0.9" />
<text x="467.60" y="71.26" font-family="Liberation Sans" font-size="7.4" font-weight="normal" font-style="normal" text-anchor="end" fill="#3a3a3a" >20</text>
<line x1="469.00" y1="56.98" x2="471.60" y2="56.98" stroke="#444" stroke-width="0.9" />
<text x="467.60" y="59.58" font-family="Liberation Sans" font-size="7.4" font-weight="normal" font-style="normal" text-anchor="end" fill="#3a3a3a" >25</text>
<line x1="469.00" y1="45.29" x2="471.60" y2="45.29" stroke="#444" stroke-width="0.9" />
<text x="467.60" y="47.89" font-family="Liberation Sans" font-size="7.4" font-weight="normal" font-style="normal" text-anchor="end" fill="#3a3a3a" >30</text>
<line x1="469.00" y1="33.61" x2="471.60" y2="33.61" stroke="#444" stroke-width="0.9" />
<text x="467.60" y="36.21" font-family="Liberation Sans" font-size="7.4" font-weight="normal" font-style="normal" text-anchor="end" fill="#3a3a3a" >35</text>
<line x1="469.00" y1="21.92" x2="471.60" y2="21.92" stroke="#444" stroke-width="0.9" />
<text x="467.60" y="24.52" font-family="Liberation Sans" font-size="7.4" font-weight="normal" font-style="normal" text-anchor="end" fill="#3a3a3a" >40</text>
<line x1="469.00" y1="10.23" x2="471.60" y2="10.23" stroke="#444" stroke-width="0.9" />
<text x="467.60" y="12.83" font-family="Liberation Sans" font-size="7.4" font-weight="normal" font-style="normal" text-anchor="end" fill="#3a3a3a" >45</text>
<line x1="470.10" y1="109.56" x2="471.60" y2="109.56" stroke="#555" stroke-width="0.7" />
<line x1="470.10" y1="97.87" x2="471.60" y2="97.87" stroke="#555" stroke-width="0.7" />
<line x1="470.10" y1="86.19" x2="471.60" y2="86.19" stroke="#555" stroke-width="0.7" />
<line x1="470.10" y1="74.50" x2="471.60" y2="74.50" stroke="#555" stroke-width="0.7" />
<line x1="470.10" y1="62.82" x2="471.60" y2="62.82" stroke="#555" stroke-width="0.7" />
<line x1="470.10" y1="51.13" x2="471.60" y2="51.13" stroke="#555" stroke-width="0.7" />
<line x1="470.10" y1="39.45" x2="471.60" y2="39.45" stroke="#555" stroke-width="0.7" />
<line x1="470.10" y1="27.76" x2="471.60" y2="27.76" stroke="#555" stroke-width="0.7" />
<line x1="470.10" y1="16.08" x2="471.60" y2="16.08" stroke="#555" stroke-width="0.7" />
<line x1="472.25" y1="114.20" x2="472.25" y2="117.20" stroke="#444" stroke-width="0.9" />
<text x="472.25" y="127.00" font-family="Liberation Sans" font-size="7.4" font-weight="normal" font-style="normal" text-anchor="middle" fill="#3a3a3a" >0</text>
<line x1="492.65" y1="115.40" x2="492.65" y2="116.90" stroke="#555" stroke-width="0.7" />
<line x1="513.05" y1="114.20" x2="513.05" y2="117.20" stroke="#444" stroke-width="0.9" />
<text x="513.05" y="127.00" font-family="Liberation Sans" font-size="7.4" font-weight="normal" font-style="normal" text-anchor="middle" fill="#3a3a3a" >0.02</text>
<line x1="533.45" y1="115.40" x2="533.45" y2="116.90" stroke="#555" stroke-width="0.7" />
<line x1="553.85" y1="114.20" x2="553.85" y2="117.20" stroke="#444" stroke-width="0.9" />
<text x="553.85" y="127.00" font-family="Liberation Sans" font-size="7.4" font-weight="normal" font-style="normal" text-anchor="middle" fill="#3a3a3a" >0.04</text>
<line x1="574.25" y1="115.40" x2="574.25" y2="116.90" stroke="#555" stroke-width="0.7" />
<line x1="594.65" y1="114.20" x2="594.65" y2="117.20" stroke="#444" stroke-width="0.9" />
<text x="594.65" y="127.00" font-family="Liberation Sans" font-size="7.4" font-weight="normal" font-style="normal" text-anchor="middle" fill="#3a3a3a" >0.06</text>
<line x1="615.05" y1="115.40" x2="615.05" y2="116.90" stroke="#555" stroke-width="0.7" />
<line x1="635.45" y1="114.20" x2="635.45" y2="117.20" stroke="#444" stroke-width="0.9" />
<text x="635.45" y="127.00" font-family="Liberation Sans" font-size="7.4" font-weight="normal" font-style="normal" text-anchor="middle" fill="#3a3a3a" >0.08</text>
<line x1="655.85" y1="115.40" x2="655.85" y2="116.90" stroke="#555" stroke-width="0.7" />
<line x1="676.25" y1="114.20" x2="676.25" y2="117.20" stroke="#444" stroke-width="0.9" />
<text x="676.25" y="127.00" font-family="Liberation Sans" font-size="7.4" font-weight="normal" font-style="normal" text-anchor="middle" fill="#3a3a3a" >0.1</text>
<text x="574.40" y="140.40" font-family="Liberation Sans" font-size="9.2" font-weight="normal" font-style="normal" text-anchor="middle" fill="#3a3a3a" letter-spacing="0.15">time (s)</text>
<text x="0.00" y="0.00" font-family="Liberation Sans" font-size="8.9" font-weight="normal" font-style="normal" text-anchor="middle" fill="#3a3a3a" transform="translate(456.6,61.5) rotate(-90)" xml:space="preserve">Response  (RU)</text>
<path d="M481.4,115.4 L488.6,111.0 L578.3,111.0 L598.7,114.7 L676.2,115.2 L676.2,115.4 Z" fill="#b0b0b0"/>
<path d="M472.25,115.38 L475.65,115.26 L479.05,114.67 L482.45,114.24 L485.85,114.23 L489.25,114.23 L492.65,114.23 L496.05,114.23 L499.45,114.23 L502.85,114.23 L506.25,114.23 L509.65,114.23 L513.05,114.23 L516.45,114.23 L519.85,114.23 L523.25,114.23 L526.65,114.23 L530.05,114.23 L533.45,114.23 L536.85,114.23 L540.25,114.23 L543.65,114.23 L547.05,114.23 L550.45,114.23 L553.85,114.23 L557.25,114.23 L560.65,114.24 L564.05,114.25 L567.45,114.26 L570.85,114.29 L574.25,114.33 L577.65,114.40 L581.05,114.48 L584.45,114.56 L587.85,114.65 L591.25,114.73 L594.65,114.80 L598.05,114.87 L601.45,114.92 L604.85,114.98 L608.25,115.02 L611.65,115.06 L615.05,115.10 L618.45,115.13 L621.85,115.16 L625.25,115.19 L628.65,115.21 L632.05,115.23 L635.45,115.25 L638.85,115.27 L642.25,115.28 L645.65,115.30 L649.05,115.31 L652.45,115.32 L655.85,115.33 L659.25,115.33 L662.65,115.34 L666.05,115.35 L669.45,115.35 L672.85,115.36 L676.25,115.36" fill="none" stroke="#8a8a8a" stroke-width="0.6" stroke-linejoin="round" />
<path d="M472.25,115.38 L475.65,115.25 L479.05,114.55 L482.45,113.63 L485.85,113.58 L489.25,113.58 L492.65,113.58 L496.05,113.58 L499.45,113.58 L502.85,113.58 L506.25,113.58 L509.65,113.58 L513.05,113.58 L516.45,113.58 L519.85,113.58 L523.25,113.58 L526.65,113.58 L530.05,113.58 L533.45,113.58 L536.85,113.58 L540.25,113.58 L543.65,113.58 L547.05,113.58 L550.45,113.58 L553.85,113.58 L557.25,113.58 L560.65,113.59 L564.05,113.60 L567.45,113.62 L570.85,113.66 L574.25,113.73 L577.65,113.84 L581.05,113.96 L584.45,114.09 L587.85,114.23 L591.25,114.35 L594.65,114.46 L598.05,114.57 L601.45,114.66 L604.85,114.74 L608.25,114.81 L611.65,114.88 L615.05,114.93 L618.45,114.99 L621.85,115.03 L625.25,115.07 L628.65,115.11 L632.05,115.14 L635.45,115.17 L638.85,115.19 L642.25,115.22 L645.65,115.24 L649.05,115.26 L652.45,115.27 L655.85,115.29 L659.25,115.30 L662.65,115.31 L666.05,115.32 L669.45,115.33 L672.85,115.34 L676.25,115.34" fill="none" stroke="#8a8a8a" stroke-width="0.6" stroke-linejoin="round" />
<path d="M472.25,115.38 L475.65,115.25 L479.05,114.49 L482.45,113.12 L485.85,112.92 L489.25,112.92 L492.65,112.92 L496.05,112.92 L499.45,112.92 L502.85,112.92 L506.25,112.92 L509.65,112.92 L513.05,112.92 L516.45,112.92 L519.85,112.92 L523.25,112.92 L526.65,112.92 L530.05,112.92 L533.45,112.92 L536.85,112.92 L540.25,112.92 L543.65,112.92 L547.05,112.92 L550.45,112.92 L553.85,112.93 L557.25,112.93 L560.65,112.94 L564.05,112.95 L567.45,112.98 L570.85,113.04 L574.25,113.14 L577.65,113.27 L581.05,113.44 L584.45,113.63 L587.85,113.81 L591.25,113.97 L594.65,114.13 L598.05,114.27 L601.45,114.39 L604.85,114.50 L608.25,114.60 L611.65,114.69 L615.05,114.77 L618.45,114.84 L621.85,114.90 L625.25,114.95 L628.65,115.00 L632.05,115.05 L635.45,115.09 L638.85,115.12 L642.25,115.15 L645.65,115.18 L649.05,115.20 L652.45,115.22 L655.85,115.24 L659.25,115.26 L662.65,115.28 L666.05,115.29 L669.45,115.30 L672.85,115.31 L676.25,115.32" fill="none" stroke="#8a8a8a" stroke-width="0.6" stroke-linejoin="round" />
<path d="M472.25,115.38 L475.65,115.25 L479.05,114.45 L482.45,112.68 L485.85,112.28 L489.25,112.27 L492.65,112.27 L496.05,112.27 L499.45,112.27 L502.85,112.27 L506.25,112.27 L509.65,112.27 L513.05,112.27 L516.45,112.27 L519.85,112.27 L523.25,112.27 L526.65,112.27 L530.05,112.27 L533.45,112.27 L536.85,112.27 L540.25,112.27 L543.65,112.27 L547.05,112.27 L550.45,112.27 L553.85,112.27 L557.25,112.28 L560.65,112.29 L564.05,112.31 L567.45,112.35 L570.85,112.42 L574.25,112.54 L577.65,112.71 L581.05,112.93 L584.45,113.16 L587.85,113.38 L591.25,113.60 L594.65,113.79 L598.05,113.97 L601.45,114.13 L604.85,114.27 L608.25,114.39 L611.65,114.50 L615.05,114.60 L618.45,114.69 L621.85,114.77 L625.25,114.84 L628.65,114.90 L632.05,114.95 L635.45,115.00 L638.85,115.05 L642.25,115.09 L645.65,115.12 L649.05,115.15 L652.45,115.18 L655.85,115.20 L659.25,115.22 L662.65,115.24 L666.05,115.26 L669.45,115.28 L672.85,115.29 L676.25,115.30" fill="none" stroke="#8a8a8a" stroke-width="0.6" stroke-linejoin="round" />
<path d="M472.25,115.38 L475.65,115.25 L479.05,114.42 L482.45,112.33 L485.85,111.64 L489.25,111.61 L492.65,111.61 L496.05,111.61 L499.45,111.61 L502.85,111.61 L506.25,111.61 L509.65,111.61 L513.05,111.61 L516.45,111.61 L519.85,111.61 L523.25,111.61 L526.65,111.61 L530.05,111.61 L533.45,111.61 L536.85,111.61 L540.25,111.61 L543.65,111.61 L547.05,111.62 L550.45,111.62 L553.85,111.62 L557.25,111.62 L560.65,111.64 L564.05,111.66 L567.45,111.71 L570.85,111.79 L574.25,111.94 L577.65,112.15 L581.05,112.41 L584.45,112.69 L587.85,112.96 L591.25,113.22 L594.65,113.46 L598.05,113.67 L601.45,113.86 L604.85,114.03 L608.25,114.18 L611.65,114.31 L615.05,114.43 L618.45,114.54 L621.85,114.63 L625.25,114.72 L628.65,114.79 L632.05,114.86 L635.45,114.92 L638.85,114.97 L642.25,115.02 L645.65,115.06 L649.05,115.10 L652.45,115.13 L655.85,115.16 L659.25,115.19 L662.65,115.21 L666.05,115.23 L669.45,115.25 L672.85,115.27 L676.25,115.28" fill="none" stroke="#8a8a8a" stroke-width="0.6" stroke-linejoin="round" />
<path d="M472.25,115.38 L475.65,115.25 L479.05,114.40 L482.45,112.03 L485.85,111.03 L489.25,110.96 L492.65,110.96 L496.05,110.96 L499.45,110.96 L502.85,110.96 L506.25,110.96 L509.65,110.96 L513.05,110.96 L516.45,110.96 L519.85,110.96 L523.25,110.96 L526.65,110.96 L530.05,110.96 L533.45,110.96 L536.85,110.96 L540.25,110.96 L543.65,110.96 L547.05,110.96 L550.45,110.96 L553.85,110.97 L557.25,110.97 L560.65,110.99 L564.05,111.01 L567.45,111.07 L570.85,111.17 L574.25,111.34 L577.65,111.59 L581.05,111.89 L584.45,112.22 L587.85,112.54 L591.25,112.84 L594.65,113.12 L598.05,113.37 L601.45,113.59 L604.85,113.79 L608.25,113.97 L611.65,114.13 L615.05,114.27 L618.45,114.39 L621.85,114.50 L625.25,114.60 L628.65,114.69 L632.05,114.77 L635.45,114.84 L638.85,114.90 L642.25,114.95 L645.65,115.00 L649.05,115.05 L652.45,115.09 L655.85,115.12 L659.25,115.15 L662.65,115.18 L666.05,115.20 L669.45,115.22 L672.85,115.24 L676.25,115.26" fill="none" stroke="#8a8a8a" stroke-width="0.6" stroke-linejoin="round" />
<path d="M472.25,115.38 L474.10,115.34 L475.96,115.22 L477.81,114.87 L479.67,114.00 L481.52,112.43 L483.38,110.85 L485.23,110.02 L487.09,109.76 L488.94,109.69 L490.80,109.68 L492.65,109.68 L494.50,109.67 L496.36,109.67 L498.21,109.67 L500.07,109.67 L501.92,109.67 L503.78,109.67 L505.63,109.67 L507.49,109.67 L509.34,109.67 L511.20,109.67 L513.05,109.67 L514.90,109.67 L516.76,109.67 L518.61,109.67 L520.47,109.67 L522.32,109.67 L524.18,109.67 L526.03,109.67 L527.89,109.67 L529.74,109.67 L531.60,109.67 L533.45,109.67 L535.30,109.67 L537.16,109.67 L539.01,109.67 L540.87,109.67 L542.72,109.67 L544.58,109.68 L546.43,109.68 L548.29,109.68 L550.14,109.68 L552.00,109.68 L553.85,109.68 L555.70,109.68 L557.56,109.69 L559.41,109.70 L561.27,109.71 L563.12,109.72 L564.98,109.75 L566.83,109.78 L568.69,109.83 L570.54,109.90 L572.40,109.99 L574.25,110.10 L576.10,110.24 L577.96,110.41 L579.81,110.59 L581.67,110.79 L583.52,110.99 L585.38,111.20 L587.23,111.41 L589.09,111.61 L590.94,111.80 L592.80,111.99 L594.65,112.17 L596.50,112.34 L598.36,112.50 L600.21,112.65 L602.07,112.80 L603.92,112.94 L605.78,113.07 L607.63,113.19 L609.49,113.31 L611.34,113.42 L613.20,113.52 L615.05,113.62 L616.90,113.72 L618.76,113.81 L620.61,113.89 L622.47,113.97 L624.32,114.05 L626.18,114.12 L628.03,114.19 L629.89,114.25 L631.74,114.31 L633.60,114.37 L635.45,114.42 L637.30,114.48 L639.16,114.53 L641.01,114.57 L642.87,114.62 L644.72,114.66 L646.58,114.70 L648.43,114.73 L650.29,114.77 L652.14,114.80 L654.00,114.83 L655.85,114.86 L657.70,114.89 L659.56,114.92 L661.41,114.95 L663.27,114.97 L665.12,114.99 L666.98,115.01 L668.83,115.03 L670.69,115.05 L672.54,115.07 L674.40,115.09 L676.25,115.11" fill="none" stroke="#7a7a7a" stroke-width="1.0" stroke-linejoin="round" />
<path d="M472.25,115.38 L473.68,115.35 L475.11,115.29 L476.53,115.15 L477.96,114.83 L479.39,114.18 L480.82,113.09 L482.25,111.75 L483.67,110.66 L485.10,110.06 L486.53,109.81 L487.96,109.72 L489.39,109.69 L490.81,109.68 L492.24,109.68 L493.67,109.67 L495.10,109.67 L496.53,109.67 L497.95,109.67 L499.38,109.67 L500.81,109.67" fill="none" stroke="#20c0c0" stroke-width="0.8" stroke-linejoin="round" />
<path d="M472.25,115.38 L474.10,115.34 L475.96,115.22 L477.81,114.86 L479.67,113.94 L481.52,112.13 L483.38,109.95 L485.23,108.45 L487.09,107.75 L488.94,107.48 L490.80,107.39 L492.65,107.35 L494.50,107.34 L496.36,107.34 L498.21,107.34 L500.07,107.34 L501.92,107.34 L503.78,107.34 L505.63,107.34 L507.49,107.34 L509.34,107.34 L511.20,107.34 L513.05,107.34 L514.90,107.34 L516.76,107.34 L518.61,107.34 L520.47,107.34 L522.32,107.34 L524.18,107.34 L526.03,107.34 L527.89,107.34 L529.74,107.34 L531.60,107.34 L533.45,107.34 L535.30,107.34 L537.16,107.34 L539.01,107.34 L540.87,107.34 L542.72,107.34 L544.58,107.34 L546.43,107.34 L548.29,107.34 L550.14,107.34 L552.00,107.34 L553.85,107.35 L555.70,107.35 L557.56,107.36 L559.41,107.37 L561.27,107.38 L563.12,107.40 L564.98,107.44 L566.83,107.48 L568.69,107.55 L570.54,107.64 L572.40,107.76 L574.25,107.92 L576.10,108.11 L577.96,108.34 L579.81,108.59 L581.67,108.86 L583.52,109.14 L585.38,109.43 L587.23,109.71 L589.09,109.99 L590.94,110.26 L592.80,110.51 L594.65,110.76 L596.50,111.00 L598.36,111.22 L600.21,111.43 L602.07,111.64 L603.92,111.83 L605.78,112.01 L607.63,112.19 L609.49,112.35 L611.34,112.51 L613.20,112.66 L615.05,112.80 L616.90,112.93 L618.76,113.06 L620.61,113.18 L622.47,113.29 L624.32,113.40 L626.18,113.50 L628.03,113.60 L629.89,113.69 L631.74,113.78 L633.60,113.86 L635.45,113.94 L637.30,114.02 L639.16,114.09 L641.01,114.16 L642.87,114.22 L644.72,114.28 L646.58,114.34 L648.43,114.39 L650.29,114.44 L652.14,114.49 L654.00,114.54 L655.85,114.58 L657.70,114.63 L659.56,114.67 L661.41,114.70 L663.27,114.74 L665.12,114.77 L666.98,114.81 L668.83,114.84 L670.69,114.87 L672.54,114.89 L674.40,114.92 L676.25,114.94" fill="none" stroke="#666" stroke-width="1.0" stroke-linejoin="round" />
<path d="M472.25,115.38 L473.68,115.35 L475.11,115.29 L476.53,115.15 L477.96,114.82 L479.39,114.13 L480.82,112.92 L482.25,111.26 L483.67,109.65 L485.10,108.52 L486.53,107.89 L487.96,107.59 L489.39,107.45 L490.81,107.39 L492.24,107.36 L493.67,107.35 L495.10,107.34 L496.53,107.34 L497.95,107.34 L499.38,107.34 L500.81,107.34" fill="none" stroke="#202090" stroke-width="0.8" stroke-linejoin="round" />
<path d="M472.25,115.38 L474.10,115.34 L475.96,115.22 L477.81,114.86 L479.67,113.89 L481.52,111.83 L483.38,108.93 L485.23,106.33 L487.09,104.66 L488.94,103.74 L490.80,103.26 L492.65,103.02 L494.50,102.90 L496.36,102.84 L498.21,102.81 L500.07,102.80 L501.92,102.79 L503.78,102.78 L505.63,102.78 L507.49,102.78 L509.34,102.78 L511.20,102.78 L513.05,102.78 L514.90,102.78 L516.76,102.78 L518.61,102.78 L520.47,102.78 L522.32,102.78 L524.18,102.78 L526.03,102.78 L527.89,102.78 L529.74,102.78 L531.60,102.78 L533.45,102.78 L535.30,102.78 L537.16,102.78 L539.01,102.78 L540.87,102.78 L542.72,102.78 L544.58,102.78 L546.43,102.78 L548.29,102.78 L550.14,102.79 L552.00,102.79 L553.85,102.79 L555.70,102.80 L557.56,102.81 L559.41,102.82 L561.27,102.85 L563.12,102.88 L564.98,102.93 L566.83,103.00 L568.69,103.10 L570.54,103.24 L572.40,103.42 L574.25,103.66 L576.10,103.95 L577.96,104.29 L579.81,104.68 L581.67,105.09 L583.52,105.52 L585.38,105.95 L587.23,106.39 L589.09,106.81 L590.94,107.22 L592.80,107.62 L594.65,108.00 L596.50,108.36 L598.36,108.71 L600.21,109.04 L602.07,109.35 L603.92,109.65 L605.78,109.94 L607.63,110.21 L609.49,110.47 L611.34,110.71 L613.20,110.94 L615.05,111.17 L616.90,111.38 L618.76,111.58 L620.61,111.77 L622.47,111.95 L624.32,112.12 L626.18,112.28 L628.03,112.43 L629.89,112.58 L631.74,112.72 L633.60,112.85 L635.45,112.98 L637.30,113.10 L639.16,113.22 L641.01,113.32 L642.87,113.43 L644.72,113.52 L646.58,113.62 L648.43,113.71 L650.29,113.79 L652.14,113.87 L654.00,113.95 L655.85,114.02 L657.70,114.09 L659.56,114.15 L661.41,114.21 L663.27,114.27 L665.12,114.33 L666.98,114.38 L668.83,114.43 L670.69,114.48 L672.54,114.53 L674.40,114.57 L676.25,114.61" fill="none" stroke="#5e5e5e" stroke-width="1.0" stroke-linejoin="round" />
<path d="M472.25,115.38 L473.68,115.35 L475.11,115.29 L476.53,115.14 L477.96,114.81 L479.39,114.09 L480.82,112.76 L482.25,110.75 L483.67,108.46 L485.10,106.49 L486.53,105.07 L487.96,104.15 L489.39,103.60 L490.81,103.26 L492.24,103.06 L493.67,102.95 L495.10,102.88 L496.53,102.84 L497.95,102.81 L499.38,102.80 L500.81,102.79" fill="none" stroke="#b02020" stroke-width="0.8" stroke-linejoin="round" />
<path d="M472.25,115.38 L474.10,115.34 L475.96,115.22 L477.81,114.85 L479.67,113.86 L481.52,111.65 L483.38,108.21 L485.23,104.65 L487.09,101.87 L488.94,99.99 L490.80,98.77 L492.65,98.00 L494.50,97.52 L496.36,97.22 L498.21,97.03 L500.07,96.91 L501.92,96.83 L503.78,96.78 L505.63,96.75 L507.49,96.74 L509.34,96.72 L511.20,96.72 L513.05,96.71 L514.90,96.71 L516.76,96.71 L518.61,96.71 L520.47,96.71 L522.32,96.70 L524.18,96.70 L526.03,96.70 L527.89,96.70 L529.74,96.70 L531.60,96.70 L533.45,96.70 L535.30,96.70 L537.16,96.70 L539.01,96.70 L540.87,96.71 L542.72,96.71 L544.58,96.71 L546.43,96.71 L548.29,96.71 L550.14,96.71 L552.00,96.72 L553.85,96.72 L555.70,96.73 L557.56,96.75 L559.41,96.77 L561.27,96.80 L563.12,96.85 L564.98,96.92 L566.83,97.02 L568.69,97.16 L570.54,97.36 L572.40,97.62 L574.25,97.96 L576.10,98.38 L577.96,98.87 L579.81,99.42 L581.67,100.02 L583.52,100.63 L585.38,101.26 L587.23,101.89 L589.09,102.50 L590.94,103.10 L592.80,103.67 L594.65,104.22 L596.50,104.75 L598.36,105.26 L600.21,105.74 L602.07,106.21 L603.92,106.64 L605.78,107.06 L607.63,107.46 L609.49,107.84 L611.34,108.20 L613.20,108.55 L615.05,108.88 L616.90,109.19 L618.76,109.49 L620.61,109.77 L622.47,110.04 L624.32,110.30 L626.18,110.54 L628.03,110.77 L629.89,111.00 L631.74,111.21 L633.60,111.41 L635.45,111.60 L637.30,111.78 L639.16,111.95 L641.01,112.12 L642.87,112.28 L644.72,112.43 L646.58,112.57 L648.43,112.70 L650.29,112.83 L652.14,112.96 L654.00,113.07 L655.85,113.18 L657.70,113.29 L659.56,113.39 L661.41,113.49 L663.27,113.58 L665.12,113.67 L666.98,113.75 L668.83,113.83 L670.69,113.90 L672.54,113.98 L674.40,114.04 L676.25,114.11" fill="none" stroke="#505050" stroke-width="1.0" stroke-linejoin="round" />
<path d="M472.25,115.38 L473.68,115.35 L475.11,115.29 L476.53,115.14 L477.96,114.80 L479.39,114.07 L480.82,112.66 L482.25,110.41 L483.67,107.62 L485.10,104.88 L486.53,102.61 L487.96,100.89 L489.39,99.65 L490.81,98.76 L492.24,98.14 L493.67,97.71 L495.10,97.41 L496.53,97.20 L497.95,97.05 L499.38,96.94 L500.81,96.87" fill="none" stroke="#b020b0" stroke-width="0.8" stroke-linejoin="round" />
<path d="M472.25,115.38 L474.10,115.34 L475.96,115.22 L477.81,114.85 L479.67,113.84 L481.52,111.51 L483.38,107.64 L485.23,103.18 L487.09,99.21 L488.94,96.08 L490.80,93.72 L492.65,91.98 L494.50,90.69 L496.36,89.74 L498.21,89.05 L500.07,88.54 L501.92,88.16 L503.78,87.89 L505.63,87.68 L507.49,87.54 L509.34,87.43 L511.20,87.35 L513.05,87.29 L514.90,87.24 L516.76,87.21 L518.61,87.19 L520.47,87.17 L522.32,87.16 L524.18,87.15 L526.03,87.14 L527.89,87.14 L529.74,87.13 L531.60,87.13 L533.45,87.13 L535.30,87.13 L537.16,87.13 L539.01,87.13 L540.87,87.13 L542.72,87.13 L544.58,87.13 L546.43,87.13 L548.29,87.13 L550.14,87.13 L552.00,87.14 L553.85,87.15 L555.70,87.16 L557.56,87.18 L559.41,87.22 L561.27,87.26 L563.12,87.33 L564.98,87.43 L566.83,87.58 L568.69,87.79 L570.54,88.07 L572.40,88.46 L574.25,88.96 L576.10,89.57 L577.96,90.29 L579.81,91.09 L581.67,91.96 L583.52,92.87 L585.38,93.79 L587.23,94.71 L589.09,95.62 L590.94,96.50 L592.80,97.35 L594.65,98.17 L596.50,98.96 L598.36,99.71 L600.21,100.43 L602.07,101.12 L603.92,101.78 L605.78,102.41 L607.63,103.01 L609.49,103.58 L611.34,104.13 L613.20,104.65 L615.05,105.14 L616.90,105.62 L618.76,106.07 L620.61,106.50 L622.47,106.91 L624.32,107.30 L626.18,107.68 L628.03,108.03 L629.89,108.37 L631.74,108.70 L633.60,109.01 L635.45,109.30 L637.30,109.58 L639.16,109.85 L641.01,110.11 L642.87,110.35 L644.72,110.59 L646.58,110.81 L648.43,111.02 L650.29,111.22 L652.14,111.41 L654.00,111.60 L655.85,111.77 L657.70,111.94 L659.56,112.10 L661.41,112.25 L663.27,112.40 L665.12,112.54 L666.98,112.67 L668.83,112.80 L670.69,112.92 L672.54,113.03 L674.40,113.14 L676.25,113.24" fill="none" stroke="#444" stroke-width="1.0" stroke-linejoin="round" />
<path d="M472.25,115.38 L473.68,115.35 L475.11,115.29 L476.53,115.14 L477.96,114.80 L479.39,114.06 L480.82,112.58 L482.25,110.15 L483.67,106.93 L485.10,103.49 L486.53,100.32 L487.96,97.63 L489.39,95.45 L490.81,93.70 L492.24,92.32 L493.67,91.22 L495.10,90.36 L496.53,89.67 L497.95,89.13 L499.38,88.71 L500.81,88.37" fill="none" stroke="#20a040" stroke-width="0.8" stroke-linejoin="round" />
<line x1="504.9" y1="109.7" x2="523.2" y2="109.7" stroke="#30d0d0" stroke-width="1.1"/>
<line x1="549.8" y1="109.7" x2="574.2" y2="109.7" stroke="#30d0d0" stroke-width="1.1"/>
<path d="M472.25,115.38 L474.10,115.34 L475.96,115.22 L477.81,114.85 L479.67,113.82 L481.52,111.41 L483.38,107.22 L485.23,102.05 L487.09,97.01 L488.94,92.63 L490.80,88.97 L492.65,85.97 L494.50,83.51 L496.36,81.51 L498.21,79.87 L500.07,78.54 L501.92,77.45 L503.78,76.56 L505.63,75.84 L507.49,75.25 L509.34,74.77 L511.20,74.37 L513.05,74.05 L514.90,73.79 L516.76,73.58 L518.61,73.40 L520.47,73.26 L522.32,73.15 L524.18,73.05 L526.03,72.97 L527.89,72.91 L529.74,72.86 L531.60,72.82 L533.45,72.78 L535.30,72.76 L537.16,72.73 L539.01,72.72 L540.87,72.70 L542.72,72.69 L544.58,72.68 L546.43,72.68 L548.29,72.68 L550.14,72.68 L552.00,72.68 L553.85,72.69 L555.70,72.71 L557.56,72.74 L559.41,72.79 L561.27,72.86 L563.12,72.97 L564.98,73.13 L566.83,73.37 L568.69,73.70 L570.54,74.16 L572.40,74.77 L574.25,75.56 L576.10,76.54 L577.96,77.68 L579.81,78.96 L581.67,80.34 L583.52,81.77 L585.38,83.23 L587.23,84.67 L589.09,86.09 L590.94,87.47 L592.80,88.80 L594.65,90.08 L596.50,91.30 L598.36,92.47 L600.21,93.58 L602.07,94.64 L603.92,95.65 L605.78,96.61 L607.63,97.53 L609.49,98.40 L611.34,99.23 L613.20,100.02 L615.05,100.77 L616.90,101.48 L618.76,102.16 L620.61,102.81 L622.47,103.42 L624.32,104.00 L626.18,104.56 L628.03,105.09 L629.89,105.59 L631.74,106.07 L633.60,106.53 L635.45,106.96 L637.30,107.37 L639.16,107.76 L641.01,108.13 L642.87,108.49 L644.72,108.83 L646.58,109.15 L648.43,109.45 L650.29,109.74 L652.14,110.02 L654.00,110.28 L655.85,110.53 L657.70,110.77 L659.56,110.99 L661.41,111.21 L663.27,111.41 L665.12,111.61 L666.98,111.79 L668.83,111.97 L670.69,112.14 L672.54,112.29 L674.40,112.45 L676.25,112.59" fill="none" stroke="#10a0a0" stroke-width="0.9" stroke-linejoin="round" />
<path d="M472.25,115.38 L474.10,115.34 L475.96,115.22 L477.81,114.85 L479.67,113.82 L481.52,111.41 L483.38,107.22 L485.23,102.05 L487.09,97.01 L488.94,92.63 L490.80,88.97 L492.65,85.97 L494.50,83.51 L496.36,81.51 L498.21,79.87 L500.07,78.54 L501.92,77.45 L503.78,76.56 L505.63,75.84 L507.49,75.25 L509.34,74.77 L511.20,74.37 L513.05,74.05 L514.90,73.79 L516.76,73.58 L518.61,73.40 L520.47,73.26 L522.32,73.15 L524.18,73.05 L526.03,72.97 L527.89,72.91 L529.74,72.86 L531.60,72.82 L533.45,72.78 L535.30,72.76 L537.16,72.73 L539.01,72.72 L540.87,72.70 L542.72,72.69 L544.58,72.68 L546.43,72.68 L548.29,72.68 L550.14,72.68 L552.00,72.68 L553.85,72.69 L555.70,72.71 L557.56,72.74 L559.41,72.79 L561.27,72.86 L563.12,72.97 L564.98,73.13 L566.83,73.37 L568.69,73.70 L570.54,74.16 L572.40,74.77 L574.25,75.56 L576.10,76.54 L577.96,77.68 L579.81,78.96 L581.67,80.34 L583.52,81.77 L585.38,83.23 L587.23,84.67 L589.09,86.09 L590.94,87.47 L592.80,88.80 L594.65,90.08 L596.50,91.30 L598.36,92.47 L600.21,93.58 L602.07,94.64 L603.92,95.65 L605.78,96.61 L607.63,97.53 L609.49,98.40 L611.34,99.23 L613.20,100.02 L615.05,100.77 L616.90,101.48 L618.76,102.16 L620.61,102.81 L622.47,103.42 L624.32,104.00 L626.18,104.56 L628.03,105.09 L629.89,105.59 L631.74,106.07 L633.60,106.53 L635.45,106.96 L637.30,107.37 L639.16,107.76 L641.01,108.13 L642.87,108.49 L644.72,108.83 L646.58,109.15 L648.43,109.45 L650.29,109.74 L652.14,110.02 L654.00,110.28 L655.85,110.53 L657.70,110.77 L659.56,110.99 L661.41,111.21 L663.27,111.41 L665.12,111.61 L666.98,111.79 L668.83,111.97 L670.69,112.14 L672.54,112.29 L674.40,112.45 L676.25,112.59" fill="none" stroke="#222" stroke-width="0.6" stroke-linejoin="round" />
<path d="M472.25,115.38 L474.10,115.34 L475.96,115.22 L477.81,114.85 L479.67,113.81 L481.52,111.34 L483.38,106.94 L485.23,101.25 L487.09,95.37 L488.94,89.93 L490.80,85.07 L492.65,80.81 L494.50,77.09 L496.36,73.84 L498.21,71.00 L500.07,68.52 L501.92,66.36 L503.78,64.48 L505.63,62.84 L507.49,61.40 L509.34,60.15 L511.20,59.06 L513.05,58.11 L514.90,57.28 L516.76,56.55 L518.61,55.92 L520.47,55.37 L522.32,54.89 L524.18,54.47 L526.03,54.10 L527.89,53.78 L529.74,53.50 L531.60,53.26 L533.45,53.05 L535.30,52.87 L537.16,52.70 L539.01,52.56 L540.87,52.44 L542.72,52.34 L544.58,52.25 L546.43,52.17 L548.29,52.10 L550.14,52.05 L552.00,52.01 L553.85,51.98 L555.70,51.96 L557.56,51.97 L559.41,52.00 L561.27,52.06 L563.12,52.18 L564.98,52.36 L566.83,52.63 L568.69,53.03 L570.54,53.59 L572.40,54.35 L574.25,55.34 L576.10,56.57 L577.96,58.02 L579.81,59.65 L581.67,61.42 L583.52,63.27 L585.38,65.17 L587.23,67.06 L589.09,68.94 L590.94,70.77 L592.80,72.56 L594.65,74.29 L596.50,75.95 L598.36,77.56 L600.21,79.10 L602.07,80.58 L603.92,82.00 L605.78,83.37 L607.63,84.68 L609.49,85.94 L611.34,87.14 L613.20,88.30 L615.05,89.41 L616.90,90.47 L618.76,91.50 L620.61,92.47 L622.47,93.41 L624.32,94.31 L626.18,95.18 L628.03,96.01 L629.89,96.80 L631.74,97.56 L633.60,98.29 L635.45,98.99 L637.30,99.66 L639.16,100.31 L641.01,100.93 L642.87,101.52 L644.72,102.09 L646.58,102.63 L648.43,103.16 L650.29,103.66 L652.14,104.14 L654.00,104.60 L655.85,105.04 L657.70,105.47 L659.56,105.87 L661.41,106.26 L663.27,106.64 L665.12,107.00 L666.98,107.34 L668.83,107.67 L670.69,107.99 L672.54,108.29 L674.40,108.58 L676.25,108.86" fill="none" stroke="#555" stroke-width="0.9" stroke-linejoin="round" />
<path d="M472.25,115.38 L474.10,115.34 L475.96,115.22 L477.81,114.85 L479.67,113.81 L481.52,111.34 L483.38,106.94 L485.23,101.25 L487.09,95.37 L488.94,89.93 L490.80,85.07 L492.65,80.81 L494.50,77.09 L496.36,73.84 L498.21,71.00 L500.07,68.52 L501.92,66.36 L503.78,64.48 L505.63,62.84 L507.49,61.40 L509.34,60.15 L511.20,59.06 L513.05,58.11 L514.90,57.28 L516.76,56.55 L518.61,55.92 L520.47,55.37 L522.32,54.89 L524.18,54.47 L526.03,54.10 L527.89,53.78 L529.74,53.50 L531.60,53.26 L533.45,53.05 L535.30,52.87 L537.16,52.70 L539.01,52.56 L540.87,52.44 L542.72,52.34 L544.58,52.25 L546.43,52.17 L548.29,52.10 L550.14,52.05 L552.00,52.01 L553.85,51.98 L555.70,51.96 L557.56,51.97 L559.41,52.00 L561.27,52.06 L563.12,52.18 L564.98,52.36 L566.83,52.63 L568.69,53.03 L570.54,53.59 L572.40,54.35 L574.25,55.34 L576.10,56.57 L577.96,58.02 L579.81,59.65 L581.67,61.42 L583.52,63.27 L585.38,65.17 L587.23,67.06 L589.09,68.94 L590.94,70.77 L592.80,72.56 L594.65,74.29 L596.50,75.95 L598.36,77.56 L600.21,79.10 L602.07,80.58 L603.92,82.00 L605.78,83.37 L607.63,84.68 L609.49,85.94 L611.34,87.14 L613.20,88.30 L615.05,89.41 L616.90,90.47 L618.76,91.50 L620.61,92.47 L622.47,93.41 L624.32,94.31 L626.18,95.18 L628.03,96.01 L629.89,96.80 L631.74,97.56 L633.60,98.29 L635.45,98.99 L637.30,99.66 L639.16,100.31 L641.01,100.93 L642.87,101.52 L644.72,102.09 L646.58,102.63 L648.43,103.16 L650.29,103.66 L652.14,104.14 L654.00,104.60 L655.85,105.04 L657.70,105.47 L659.56,105.87 L661.41,106.26 L663.27,106.64 L665.12,107.00 L666.98,107.34 L668.83,107.67 L670.69,107.99 L672.54,108.29 L674.40,108.58 L676.25,108.86" fill="none" stroke="#111" stroke-width="0.6" stroke-linejoin="round" />
<path d="M472.25,114.78 L474.10,114.74 L475.96,114.62 L477.81,114.24 L479.67,113.19 L481.52,110.66 L483.38,106.06 L485.23,99.92 L487.09,93.32 L488.94,86.94 L490.80,80.99 L492.65,75.52 L494.50,70.51 L496.36,65.93 L498.21,61.75 L500.07,57.93 L501.92,54.44 L503.78,51.25 L505.63,48.34 L507.49,45.68 L509.34,43.25 L511.20,41.03 L513.05,39.00 L514.90,37.15 L516.76,35.45 L518.61,33.91 L520.47,32.50 L522.32,31.21 L524.18,30.03 L526.03,28.95 L527.89,27.97 L529.74,27.07 L531.60,26.25 L533.45,25.50 L535.30,24.81 L537.16,24.19 L539.01,23.62 L540.87,23.10 L542.72,22.62 L544.58,22.19 L546.43,21.79 L548.29,21.44 L550.14,21.11 L552.00,20.82 L553.85,20.57 L555.70,20.34 L557.56,20.16 L559.41,20.01 L561.27,19.92 L563.12,19.90 L564.98,19.96 L566.83,20.13 L568.69,20.46 L570.54,20.97 L572.40,21.72 L574.25,22.74 L576.10,24.07 L577.96,25.71 L579.81,27.57 L581.67,29.60 L583.52,31.75 L585.38,33.96 L587.23,36.20 L589.09,38.44 L590.94,40.66 L592.80,42.83 L594.65,44.96 L596.50,47.04 L598.36,49.07 L600.21,51.04 L602.07,52.95 L603.92,54.80 L605.78,56.61 L607.63,58.36 L609.49,60.05 L611.34,61.70 L613.20,63.30 L615.05,64.85 L616.90,66.35 L618.76,67.81 L620.61,69.22 L622.47,70.59 L624.32,71.92 L626.18,73.21 L628.03,74.46 L629.89,75.68 L631.74,76.85 L633.60,77.99 L635.45,79.10 L637.30,80.17 L639.16,81.22 L641.01,82.23 L642.87,83.21 L644.72,84.16 L646.58,85.08 L648.43,85.97 L650.29,86.84 L652.14,87.68 L654.00,88.50 L655.85,89.29 L657.70,90.06 L659.56,90.80 L661.41,91.52 L663.27,92.22 L665.12,92.90 L666.98,93.56 L668.83,94.20 L670.69,94.82 L672.54,95.42 L674.40,96.00 L676.25,96.57" fill="none" stroke="#3a3aff" stroke-width="0.9" stroke-linejoin="round" />
<path d="M472.25,115.38 L474.10,115.34 L475.96,115.22 L477.81,114.85 L479.67,113.80 L481.52,111.30 L483.38,106.74 L485.23,100.66 L487.09,94.13 L488.94,87.81 L490.80,81.91 L492.65,76.50 L494.50,71.54 L496.36,67.00 L498.21,62.86 L500.07,59.08 L501.92,55.62 L503.78,52.46 L505.63,49.58 L507.49,46.94 L509.34,44.54 L511.20,42.34 L513.05,40.33 L514.90,38.50 L516.76,36.82 L518.61,35.29 L520.47,33.89 L522.32,32.61 L524.18,31.44 L526.03,30.38 L527.89,29.40 L529.74,28.51 L531.60,27.70 L533.45,26.96 L535.30,26.28 L537.16,25.66 L539.01,25.10 L540.87,24.58 L542.72,24.11 L544.58,23.68 L546.43,23.29 L548.29,22.94 L550.14,22.62 L552.00,22.33 L553.85,22.07 L555.70,21.85 L557.56,21.67 L559.41,21.53 L561.27,21.44 L563.12,21.42 L564.98,21.48 L566.83,21.66 L568.69,21.98 L570.54,22.50 L572.40,23.25 L574.25,24.27 L576.10,25.60 L577.96,27.25 L579.81,29.11 L581.67,31.14 L583.52,33.29 L585.38,35.50 L587.23,37.75 L589.09,39.98 L590.94,42.20 L592.80,44.37 L594.65,46.50 L596.50,48.57 L598.36,50.59 L600.21,52.56 L602.07,54.46 L603.92,56.31 L605.78,58.11 L607.63,59.85 L609.49,61.54 L611.34,63.18 L613.20,64.77 L615.05,66.31 L616.90,67.80 L618.76,69.25 L620.61,70.66 L622.47,72.02 L624.32,73.34 L626.18,74.62 L628.03,75.86 L629.89,77.06 L631.74,78.23 L633.60,79.36 L635.45,80.46 L637.30,81.52 L639.16,82.55 L641.01,83.55 L642.87,84.52 L644.72,85.46 L646.58,86.37 L648.43,87.26 L650.29,88.11 L652.14,88.94 L654.00,89.75 L655.85,90.53 L657.70,91.29 L659.56,92.02 L661.41,92.73 L663.27,93.42 L665.12,94.09 L666.98,94.74 L668.83,95.37 L670.69,95.98 L672.54,96.57 L674.40,97.14 L676.25,97.70" fill="none" stroke="#111" stroke-width="0.7" stroke-linejoin="round" />
<line x1="55.90" y1="162.75" x2="201.25" y2="162.75" stroke="#6a6a6a" stroke-width="1.1" />
<line x1="55.90" y1="162.25" x2="55.90" y2="259.90" stroke="#7a7a7a" stroke-width="1.6" />
<line x1="201.25" y1="162.25" x2="201.25" y2="259.90" stroke="#6a6a6a" stroke-width="1.1" />
<line x1="55.40" y1="259.40" x2="201.75" y2="259.40" stroke="#333" stroke-width="1.3" />
<line x1="52.70" y1="259.40" x2="55.90" y2="259.40" stroke="#555" stroke-width="1.1" />
<text x="50.90" y="262.00" font-family="Liberation Sans" font-size="7.3" font-weight="normal" font-style="normal" text-anchor="end" fill="#ff2020" >1</text>
<line x1="52.70" y1="245.59" x2="55.90" y2="245.59" stroke="#555" stroke-width="1.1" />
<text x="50.90" y="248.19" font-family="Liberation Sans" font-size="7.3" font-weight="normal" font-style="normal" text-anchor="end" fill="#ff2020" >2</text>
<line x1="52.70" y1="231.79" x2="55.90" y2="231.79" stroke="#555" stroke-width="1.1" />
<text x="50.90" y="234.39" font-family="Liberation Sans" font-size="7.3" font-weight="normal" font-style="normal" text-anchor="end" fill="#ff2020" >4</text>
<line x1="52.70" y1="217.98" x2="55.90" y2="217.98" stroke="#555" stroke-width="1.1" />
<text x="50.90" y="220.58" font-family="Liberation Sans" font-size="7.3" font-weight="normal" font-style="normal" text-anchor="end" fill="#ff2020" >8</text>
<line x1="52.70" y1="204.17" x2="55.90" y2="204.17" stroke="#555" stroke-width="1.1" />
<text x="50.90" y="206.77" font-family="Liberation Sans" font-size="7.3" font-weight="normal" font-style="normal" text-anchor="end" fill="#ff2020" >16</text>
<line x1="52.70" y1="190.36" x2="55.90" y2="190.36" stroke="#555" stroke-width="1.1" />
<text x="50.90" y="192.96" font-family="Liberation Sans" font-size="7.3" font-weight="normal" font-style="normal" text-anchor="end" fill="#ff2020" >32</text>
<line x1="52.70" y1="176.56" x2="55.90" y2="176.56" stroke="#555" stroke-width="1.1" />
<text x="50.90" y="179.16" font-family="Liberation Sans" font-size="7.3" font-weight="normal" font-style="normal" text-anchor="end" fill="#ff2020" >64</text>
<line x1="52.70" y1="162.75" x2="55.90" y2="162.75" stroke="#555" stroke-width="1.1" />
<text x="50.90" y="165.35" font-family="Liberation Sans" font-size="7.3" font-weight="normal" font-style="normal" text-anchor="end" fill="#ff2020" >128</text>
<line x1="201.25" y1="259.40" x2="203.85" y2="259.40" stroke="#555" stroke-width="1.1" />
<text x="205.45" y="262.00" font-family="Liberation Sans" font-size="7.3" font-weight="normal" font-style="normal" text-anchor="start" fill="#2020ff" >0</text>
<line x1="201.25" y1="235.24" x2="203.85" y2="235.24" stroke="#555" stroke-width="1.1" />
<text x="205.45" y="237.84" font-family="Liberation Sans" font-size="7.3" font-weight="normal" font-style="normal" text-anchor="start" fill="#2020ff" >20</text>
<line x1="201.25" y1="211.07" x2="203.85" y2="211.07" stroke="#555" stroke-width="1.1" />
<text x="205.45" y="213.67" font-family="Liberation Sans" font-size="7.3" font-weight="normal" font-style="normal" text-anchor="start" fill="#2020ff" >40</text>
<line x1="201.25" y1="186.91" x2="203.85" y2="186.91" stroke="#555" stroke-width="1.1" />
<text x="205.45" y="189.51" font-family="Liberation Sans" font-size="7.3" font-weight="normal" font-style="normal" text-anchor="start" fill="#2020ff" >60</text>
<line x1="201.25" y1="162.75" x2="203.85" y2="162.75" stroke="#555" stroke-width="1.1" />
<text x="205.45" y="165.35" font-family="Liberation Sans" font-size="7.3" font-weight="normal" font-style="normal" text-anchor="start" fill="#2020ff" >80</text>
<line x1="55.90" y1="259.40" x2="55.90" y2="262.40" stroke="#333" stroke-width="1.1" />
<text x="55.90" y="270.60" font-family="Liberation Sans" font-size="7.3" font-weight="normal" font-style="normal" text-anchor="middle" fill="#333" >0.5</text>
<line x1="76.66" y1="259.40" x2="76.66" y2="262.40" stroke="#333" stroke-width="1.1" />
<text x="76.66" y="270.60" font-family="Liberation Sans" font-size="7.3" font-weight="normal" font-style="normal" text-anchor="middle" fill="#333" >1</text>
<line x1="97.43" y1="259.40" x2="97.43" y2="262.40" stroke="#333" stroke-width="1.1" />
<text x="97.43" y="270.60" font-family="Liberation Sans" font-size="7.3" font-weight="normal" font-style="normal" text-anchor="middle" fill="#333" >2</text>
<line x1="118.19" y1="259.40" x2="118.19" y2="262.40" stroke="#333" stroke-width="1.1" />
<text x="118.19" y="270.60" font-family="Liberation Sans" font-size="7.3" font-weight="normal" font-style="normal" text-anchor="middle" fill="#333" >4</text>
<line x1="138.96" y1="259.40" x2="138.96" y2="262.40" stroke="#333" stroke-width="1.1" />
<text x="138.96" y="270.60" font-family="Liberation Sans" font-size="7.3" font-weight="normal" font-style="normal" text-anchor="middle" fill="#333" >8</text>
<line x1="159.72" y1="259.40" x2="159.72" y2="262.40" stroke="#333" stroke-width="1.1" />
<text x="159.72" y="270.60" font-family="Liberation Sans" font-size="7.3" font-weight="normal" font-style="normal" text-anchor="middle" fill="#333" >16</text>
<line x1="180.49" y1="259.40" x2="180.49" y2="262.40" stroke="#333" stroke-width="1.1" />
<text x="180.49" y="270.60" font-family="Liberation Sans" font-size="7.3" font-weight="normal" font-style="normal" text-anchor="middle" fill="#333" >32</text>
<line x1="201.25" y1="259.40" x2="201.25" y2="262.40" stroke="#333" stroke-width="1.1" />
<text x="201.25" y="270.60" font-family="Liberation Sans" font-size="7.3" font-weight="normal" font-style="normal" text-anchor="middle" fill="#333" >64</text>
<text x="112.60" y="283.60" font-family="Liberation Sans" font-size="12.5" font-weight="normal" font-style="normal" text-anchor="start" fill="#333" >&#964;</text>
<text x="119.50" y="285.60" font-family="Liberation Sans" font-size="7.2" font-weight="normal" font-style="normal" text-anchor="start" fill="#333" >SS</text>
<text x="131.20" y="282.60" font-family="Liberation Sans" font-size="7.6" font-weight="normal" font-style="normal" text-anchor="start" fill="#333" >(ms)</text>
<g transform="translate(39.2,211) rotate(-90)"><text x="0" y="0" text-anchor="middle" font-family="Liberation Sans" fill="#ff2020"><tspan font-size="9" font-style="italic">R</tspan><tspan font-size="6" dy="1.8">max</tspan><tspan font-size="9" dy="-1.8"> (RU)</tspan></text></g>
<g transform="translate(217.6,209.6) rotate(90)"><text x="0" y="0" text-anchor="middle" font-family="Liberation Sans" font-size="8.3" fill="#2020ff">%MTL</text></g>
<text x="70.8" y="180.4" font-family="Liberation Sans" font-style="italic" fill="#ff2020"><tspan font-size="11">&#964;</tspan><tspan font-size="7" dy="1.8">ss</tspan><tspan font-size="9.8" dy="-1.8"> = 0.61R</tspan><tspan font-size="7.2" dy="1.8">max</tspan></text>
<text x="70.2" y="203.8" font-family="Liberation Sans" font-style="italic" fill="#ff2020"><tspan font-size="10.2">R</tspan><tspan font-size="6.5" dy="-4">2</tspan><tspan font-size="10.2" dy="4"> = 1.000</tspan></text>
<path d="M72.75,253.75 L85.00,250.90 L97.10,247.10 L109.10,242.10 L121.50,235.60 L133.30,226.70 L145.70,216.10 L157.75,204.75 L170.00,192.50 L182.25,181.25 L194.40,170.25" fill="none" stroke="#2020ff" stroke-width="0.9" stroke-linejoin="round" />
<path d="M72.75,252.25 L85.00,244.20 L97.10,236.10 L109.10,227.90 L121.50,219.90 L133.30,212.00 L145.70,204.00 L157.75,196.00 L170.00,188.10 L182.25,180.20 L194.40,171.90" fill="none" stroke="#ff2020" stroke-width="0.9" stroke-linejoin="round" />
<circle cx="72.75" cy="253.75" r="2.5" fill="#2020ff"/>
<circle cx="85.00" cy="250.90" r="2.5" fill="#2020ff"/>
<circle cx="97.10" cy="247.10" r="2.5" fill="#2020ff"/>
<circle cx="109.10" cy="242.10" r="2.5" fill="#2020ff"/>
<circle cx="121.50" cy="235.60" r="2.5" fill="#2020ff"/>
<circle cx="133.30" cy="226.70" r="2.5" fill="#2020ff"/>
<circle cx="145.70" cy="216.10" r="2.5" fill="#2020ff"/>
<circle cx="157.75" cy="204.75" r="2.5" fill="#2020ff"/>
<circle cx="170.00" cy="192.50" r="2.5" fill="#2020ff"/>
<circle cx="182.25" cy="181.25" r="2.5" fill="#2020ff"/>
<circle cx="194.40" cy="170.25" r="2.5" fill="#2020ff"/>
<path d="M72.75,249.35 L75.65,254.43 L69.85,254.43 Z" fill="#ff2020"/>
<path d="M85.00,241.30 L87.90,246.38 L82.10,246.38 Z" fill="#ff2020"/>
<path d="M97.10,233.20 L100.00,238.28 L94.20,238.28 Z" fill="#ff2020"/>
<path d="M109.10,225.00 L112.00,230.08 L106.20,230.08 Z" fill="#ff2020"/>
<path d="M121.50,217.00 L124.40,222.08 L118.60,222.08 Z" fill="#ff2020"/>
<path d="M133.30,209.10 L136.20,214.18 L130.40,214.18 Z" fill="#ff2020"/>
<path d="M145.70,201.10 L148.60,206.18 L142.80,206.18 Z" fill="#ff2020"/>
<path d="M157.75,193.10 L160.65,198.18 L154.85,198.18 Z" fill="#ff2020"/>
<path d="M170.00,185.20 L172.90,190.28 L167.10,190.28 Z" fill="#ff2020"/>
<path d="M182.25,177.30 L185.15,182.38 L179.35,182.38 Z" fill="#ff2020"/>
<path d="M194.40,169.00 L197.30,174.08 L191.50,174.08 Z" fill="#ff2020"/>
<line x1="272.90" y1="160.00" x2="272.90" y2="263.60" stroke="#444" stroke-width="1.0" />
<line x1="272.40" y1="263.10" x2="482.60" y2="263.10" stroke="#444" stroke-width="1.0" />
<line x1="270.50" y1="263.10" x2="272.90" y2="263.10" stroke="#444" stroke-width="0.9" />
<text x="269.00" y="265.70" font-family="Liberation Sans" font-size="7.4" font-weight="normal" font-style="normal" text-anchor="end" fill="#3a3a3a" >0</text>
<line x1="271.50" y1="254.56" x2="272.90" y2="254.56" stroke="#555" stroke-width="0.7" />
<line x1="270.50" y1="246.02" x2="272.90" y2="246.02" stroke="#444" stroke-width="0.9" />
<text x="269.00" y="248.62" font-family="Liberation Sans" font-size="7.4" font-weight="normal" font-style="normal" text-anchor="end" fill="#3a3a3a" >0.2</text>
<line x1="271.50" y1="237.48" x2="272.90" y2="237.48" stroke="#555" stroke-width="0.7" />
<line x1="270.50" y1="228.94" x2="272.90" y2="228.94" stroke="#444" stroke-width="0.9" />
<text x="269.00" y="231.54" font-family="Liberation Sans" font-size="7.4" font-weight="normal" font-style="normal" text-anchor="end" fill="#3a3a3a" >0.4</text>
<line x1="271.50" y1="220.40" x2="272.90" y2="220.40" stroke="#555" stroke-width="0.7" />
<line x1="270.50" y1="211.86" x2="272.90" y2="211.86" stroke="#444" stroke-width="0.9" />
<text x="269.00" y="214.46" font-family="Liberation Sans" font-size="7.4" font-weight="normal" font-style="normal" text-anchor="end" fill="#3a3a3a" >0.6</text>
<line x1="271.50" y1="203.32" x2="272.90" y2="203.32" stroke="#555" stroke-width="0.7" />
<line x1="270.50" y1="194.78" x2="272.90" y2="194.78" stroke="#444" stroke-width="0.9" />
<text x="269.00" y="197.38" font-family="Liberation Sans" font-size="7.4" font-weight="normal" font-style="normal" text-anchor="end" fill="#3a3a3a" >0.8</text>
<line x1="271.50" y1="186.24" x2="272.90" y2="186.24" stroke="#555" stroke-width="0.7" />
<line x1="270.50" y1="177.70" x2="272.90" y2="177.70" stroke="#444" stroke-width="0.9" />
<text x="269.00" y="180.30" font-family="Liberation Sans" font-size="7.4" font-weight="normal" font-style="normal" text-anchor="end" fill="#3a3a3a" >1</text>
<line x1="271.50" y1="169.16" x2="272.90" y2="169.16" stroke="#555" stroke-width="0.7" />
<line x1="270.50" y1="160.62" x2="272.90" y2="160.62" stroke="#444" stroke-width="0.9" />
<text x="269.00" y="163.22" font-family="Liberation Sans" font-size="7.4" font-weight="normal" font-style="normal" text-anchor="end" fill="#3a3a3a" >1.2</text>
<line x1="273.50" y1="261.90" x2="273.50" y2="264.90" stroke="#444" stroke-width="0.9" />
<text x="273.50" y="275.00" font-family="Liberation Sans" font-size="7.4" font-weight="normal" font-style="normal" text-anchor="middle" fill="#3a3a3a" >0</text>
<line x1="294.39" y1="262.30" x2="294.39" y2="263.90" stroke="#555" stroke-width="0.7" />
<line x1="315.28" y1="261.90" x2="315.28" y2="264.90" stroke="#444" stroke-width="0.9" />
<text x="315.28" y="275.00" font-family="Liberation Sans" font-size="7.4" font-weight="normal" font-style="normal" text-anchor="middle" fill="#3a3a3a" >0.02</text>
<line x1="336.17" y1="262.30" x2="336.17" y2="263.90" stroke="#555" stroke-width="0.7" />
<line x1="357.06" y1="261.90" x2="357.06" y2="264.90" stroke="#444" stroke-width="0.9" />
<text x="357.06" y="275.00" font-family="Liberation Sans" font-size="7.4" font-weight="normal" font-style="normal" text-anchor="middle" fill="#3a3a3a" >0.04</text>
<line x1="377.95" y1="262.30" x2="377.95" y2="263.90" stroke="#555" stroke-width="0.7" />
<line x1="398.84" y1="261.90" x2="398.84" y2="264.90" stroke="#444" stroke-width="0.9" />
<text x="398.84" y="275.00" font-family="Liberation Sans" font-size="7.4" font-weight="normal" font-style="normal" text-anchor="middle" fill="#3a3a3a" >0.06</text>
<line x1="419.73" y1="262.30" x2="419.73" y2="263.90" stroke="#555" stroke-width="0.7" />
<line x1="440.62" y1="261.90" x2="440.62" y2="264.90" stroke="#444" stroke-width="0.9" />
<text x="440.62" y="275.00" font-family="Liberation Sans" font-size="7.4" font-weight="normal" font-style="normal" text-anchor="middle" fill="#3a3a3a" >0.08</text>
<line x1="461.51" y1="262.30" x2="461.51" y2="263.90" stroke="#555" stroke-width="0.7" />
<line x1="482.40" y1="261.90" x2="482.40" y2="264.90" stroke="#444" stroke-width="0.9" />
<text x="482.40" y="275.00" font-family="Liberation Sans" font-size="7.4" font-weight="normal" font-style="normal" text-anchor="middle" fill="#3a3a3a" >0.1</text>
<text x="372.80" y="285.40" font-family="Liberation Sans" font-size="9.2" font-weight="normal" font-style="normal" text-anchor="middle" fill="#3a3a3a" letter-spacing="0.15">time (s)</text>
<text x="0.00" y="0.00" font-family="Liberation Sans" font-size="8.9" font-weight="normal" font-style="normal" text-anchor="middle" fill="#3a3a3a" transform="translate(252.4,208.2) rotate(-90)" xml:space="preserve">Response  (RU)</text>
<path d="M273.50,263.10 L274.34,263.10 L275.17,263.10 L276.01,263.10 L276.84,263.09 L277.68,263.07 L278.51,263.01 L279.35,262.86 L280.18,262.51 L281.02,261.78 L281.86,260.36 L282.69,257.78 L283.53,254.18 L284.36,248.14 L285.20,240.60 L286.03,231.34 L286.87,221.84 L287.71,212.55 L288.54,202.97 L289.38,195.03 L290.21,187.72 L291.05,182.08 L291.88,177.40 L292.72,172.94 L293.55,171.21 L294.39,168.82 L295.23,167.07 L296.06,164.72 L296.90,163.63 L297.73,163.18 L298.57,162.72 L299.40,162.56 L300.24,162.01 L301.07,161.95 L301.91,161.19 L302.75,161.43 L303.58,161.32 L304.42,160.73 L305.25,161.71 L306.09,161.12 L306.92,161.35 L307.76,160.49 L308.60,160.41 L309.43,160.56 L310.27,160.64 L311.10,160.96 L311.94,160.78 L312.77,160.45 L313.61,160.22 L314.44,160.41 L315.28,161.19 L316.12,160.27 L316.95,160.74 L317.79,160.82 L318.62,159.96 L319.46,160.65 L320.29,161.21 L321.13,159.72 L321.96,160.48 L322.80,160.57 L323.64,160.25 L324.47,160.84 L325.31,160.59 L326.14,159.96 L326.98,160.99 L327.81,160.92 L328.65,161.05 L329.49,161.27 L330.32,160.78 L331.16,160.67 L331.99,160.04 L332.83,160.90 L333.66,160.34 L334.50,160.42 L335.33,160.05 L336.17,160.18 L337.01,160.38 L337.84,161.20 L338.68,159.71 L339.51,159.96 L340.35,160.73 L341.18,161.27 L342.02,160.88 L342.85,159.77 L343.69,159.49 L344.53,160.78 L345.36,160.29 L346.20,160.12 L347.03,161.06 L347.87,161.12 L348.70,160.69 L349.54,160.73 L350.38,160.82 L351.21,161.34 L352.05,160.90 L352.88,160.85 L353.72,160.87 L354.55,159.91 L355.39,161.20 L356.22,161.05 L357.06,160.86 L357.90,159.73 L358.73,160.33 L359.57,161.00 L360.40,159.80 L361.24,160.54 L362.07,161.08 L362.91,160.03 L363.74,161.34 L364.58,160.87 L365.42,160.55 L366.25,160.77 L367.09,160.91 L367.92,160.67 L368.76,161.14 L369.59,160.32 L370.43,160.44 L371.27,161.09 L372.10,160.64 L372.94,160.23 L373.77,161.06 L374.61,161.31 L375.44,160.46 L376.28,160.07 L377.11,160.67 L377.95,160.72 L378.79,160.72 L379.62,161.60 L380.46,160.64 L381.29,161.86 L382.13,160.96 L382.96,161.49 L383.80,162.51 L384.63,163.20 L385.47,163.65 L386.31,164.10 L387.14,164.81 L387.98,165.74 L388.81,166.99 L389.65,167.85 L390.48,169.40 L391.32,171.01 L392.16,172.36 L392.99,174.43 L393.83,176.17 L394.66,178.74 L395.50,179.97 L396.33,181.67 L397.17,183.77 L398.00,186.01 L398.84,188.51 L399.68,190.01 L400.51,192.36 L401.35,195.02 L402.18,194.99 L403.02,197.55 L403.85,200.02 L404.69,201.91 L405.52,203.60 L406.36,205.01 L407.20,207.16 L408.03,208.61 L408.87,209.82 L409.70,212.68 L410.54,213.23 L411.37,214.26 L412.21,215.86 L413.05,217.16 L413.88,218.55 L414.72,218.63 L415.55,220.89 L416.39,222.77 L417.22,222.96 L418.06,224.60 L418.89,226.16 L419.73,227.20 L420.57,228.53 L421.40,228.10 L422.24,229.70 L423.07,230.66 L423.91,232.02 L424.74,233.13 L425.58,232.31 L426.41,234.86 L427.25,234.55 L428.09,236.31 L428.92,236.11 L429.76,237.62 L430.59,238.81 L431.43,238.92 L432.26,239.77 L433.10,240.71 L433.94,241.07 L434.77,241.61 L435.61,242.95 L436.44,243.33 L437.28,243.31 L438.11,245.25 L438.95,244.04 L439.78,245.51 L440.62,245.49 L441.46,246.17 L442.29,246.92 L443.13,247.18 L443.96,247.83 L444.80,247.30 L445.63,247.74 L446.47,249.12 L447.30,248.82 L448.14,249.19 L448.98,249.38 L449.81,250.99 L450.65,251.12 L451.48,251.80 L452.32,251.06 L453.15,251.81 L453.99,251.63 L454.83,252.80 L455.66,253.48 L456.50,252.66 L457.33,254.05 L458.17,254.07 L459.00,253.82 L459.84,253.28 L460.67,255.06 L461.51,254.63 L462.35,254.64 L463.18,255.33 L464.02,255.56 L464.85,256.28 L465.69,255.36 L466.52,256.54 L467.36,256.90 L468.19,257.08 L469.03,256.54 L469.87,256.47 L470.70,257.45 L471.54,257.22 L472.37,257.39 L473.21,258.14 L474.04,257.54 L474.88,256.78 L475.72,257.80 L476.55,257.28 L477.39,258.63 L478.22,258.54 L479.06,258.26 L479.89,258.66 L480.73,259.17 L481.56,258.95 L482.40,259.64" fill="none" stroke="#f02a2a" stroke-width="0.9" stroke-linejoin="round" />
<path d="M273.50,263.10 L275.17,263.10 L276.84,263.09 L278.51,263.01 L280.18,262.51 L281.86,260.36 L283.53,253.95 L285.20,240.74 L286.87,221.94 L288.54,202.78 L290.21,187.61 L291.88,177.32 L293.55,170.83 L295.23,166.84 L296.90,164.41 L298.57,162.93 L300.24,162.03 L301.91,161.48 L303.58,161.14 L305.25,160.94 L306.92,160.81 L308.60,160.74 L310.27,160.69 L311.94,160.66 L313.61,160.65 L315.28,160.64 L316.95,160.63 L318.62,160.63 L320.29,160.62 L321.96,160.62 L323.64,160.62 L325.31,160.62 L326.98,160.62 L328.65,160.62 L330.32,160.62 L331.99,160.62 L333.66,160.62 L335.33,160.62 L337.01,160.62 L338.68,160.62 L340.35,160.62 L342.02,160.62 L343.69,160.62 L345.36,160.62 L347.03,160.62 L348.70,160.62 L350.38,160.62 L352.05,160.62 L353.72,160.62 L355.39,160.62 L357.06,160.62 L358.73,160.62 L360.40,160.62 L362.07,160.62 L363.74,160.62 L365.42,160.62 L367.09,160.62 L368.76,160.62 L370.43,160.62 L372.10,160.63 L373.77,160.64 L375.44,160.67 L377.11,160.73 L378.79,160.86 L380.46,161.11 L382.13,161.53 L383.80,162.22 L385.47,163.26 L387.14,164.74 L388.81,166.73 L390.48,169.27 L392.16,172.36 L393.83,175.92 L395.50,179.83 L397.17,183.94 L398.84,188.10 L400.51,192.19 L402.18,196.14 L403.85,199.91 L405.52,203.49 L407.20,206.87 L408.87,210.06 L410.54,213.07 L412.21,215.90 L413.88,218.58 L415.55,221.11 L417.22,223.49 L418.89,225.74 L420.57,227.86 L422.24,229.85 L423.91,231.74 L425.58,233.52 L427.25,235.20 L428.92,236.78 L430.59,238.27 L432.26,239.68 L433.94,241.01 L435.61,242.26 L437.28,243.45 L438.95,244.56 L440.62,245.61 L442.29,246.60 L443.96,247.54 L445.63,248.42 L447.30,249.26 L448.98,250.04 L450.65,250.78 L452.32,251.48 L453.99,252.14 L455.66,252.76 L457.33,253.35 L459.00,253.90 L460.67,254.42 L462.35,254.91 L464.02,255.38 L465.69,255.82 L467.36,256.23 L469.03,256.62 L470.70,256.99 L472.37,257.33 L474.04,257.66 L475.72,257.97 L477.39,258.26 L479.06,258.54 L480.73,258.79 L482.40,259.04" fill="none" stroke="#2a2a2a" stroke-width="0.8" stroke-linejoin="round" />
<path d="M273.50,263.10 L274.34,263.10 L275.17,263.10 L276.01,263.10 L276.84,263.10 L277.68,263.08 L278.51,263.05 L279.35,262.98 L280.18,262.81 L281.02,262.45 L281.86,261.74 L282.69,260.48 L283.53,258.97 L284.36,256.21 L285.20,252.23 L286.03,246.16 L286.87,241.02 L287.71,233.49 L288.54,227.46 L289.38,220.90 L290.21,216.53 L291.05,210.32 L291.88,206.27 L292.72,202.16 L293.55,198.73 L294.39,195.43 L295.23,193.16 L296.06,191.57 L296.90,188.81 L297.73,187.31 L298.57,186.04 L299.40,184.21 L300.24,182.62 L301.07,181.97 L301.91,181.87 L302.75,179.92 L303.58,179.77 L304.42,179.95 L305.25,179.38 L306.09,178.62 L306.92,178.63 L307.76,178.04 L308.60,177.17 L309.43,176.76 L310.27,176.98 L311.10,177.51 L311.94,176.70 L312.77,176.42 L313.61,176.36 L314.44,175.92 L315.28,176.48 L316.12,175.93 L316.95,176.56 L317.79,175.28 L318.62,176.44 L319.46,175.97 L320.29,175.35 L321.13,176.51 L321.96,176.04 L322.80,175.14 L323.64,175.73 L324.47,176.23 L325.31,175.88 L326.14,176.43 L326.98,176.40 L327.81,176.35 L328.65,176.19 L329.49,176.64 L330.32,176.33 L331.16,176.23 L331.99,175.08 L332.83,176.42 L333.66,176.60 L334.50,175.88 L335.33,175.80 L336.17,176.88 L337.01,175.21 L337.84,176.21 L338.68,177.09 L339.51,175.58 L340.35,176.31 L341.18,176.85 L342.02,175.94 L342.85,176.25 L343.69,176.40 L344.53,175.59 L345.36,175.95 L346.20,176.13 L347.03,176.37 L347.87,175.98 L348.70,175.91 L349.54,175.54 L350.38,175.83 L351.21,176.39 L352.05,176.04 L352.88,175.61 L353.72,175.61 L354.55,177.19 L355.39,176.51 L356.22,176.28 L357.06,174.83 L357.90,176.27 L358.73,176.21 L359.57,176.75 L360.40,176.18 L361.24,175.96 L362.07,176.23 L362.91,175.12 L363.74,176.46 L364.58,176.14 L365.42,175.68 L366.25,176.59 L367.09,176.81 L367.92,175.36 L368.76,175.69 L369.59,176.12 L370.43,176.08 L371.27,175.82 L372.10,175.56 L372.94,176.96 L373.77,176.48 L374.61,175.48 L375.44,175.43 L376.28,176.83 L377.11,176.55 L377.95,176.98 L378.79,176.61 L379.62,175.96 L380.46,176.62 L381.29,175.73 L382.13,176.62 L382.96,177.26 L383.80,177.93 L384.63,177.87 L385.47,178.75 L386.31,179.72 L387.14,180.52 L387.98,181.59 L388.81,182.48 L389.65,183.44 L390.48,185.27 L391.32,186.37 L392.16,187.51 L392.99,189.22 L393.83,191.20 L394.66,192.90 L395.50,194.81 L396.33,196.55 L397.17,198.45 L398.00,200.12 L398.84,201.41 L399.68,203.94 L400.51,205.96 L401.35,207.38 L402.18,208.76 L403.02,210.66 L403.85,211.59 L404.69,212.70 L405.52,215.06 L406.36,216.06 L407.20,218.20 L408.03,218.74 L408.87,219.35 L409.70,221.34 L410.54,223.76 L411.37,224.08 L412.21,224.79 L413.05,226.20 L413.88,227.87 L414.72,228.92 L415.55,229.81 L416.39,231.39 L417.22,232.01 L418.06,232.63 L418.89,233.82 L419.73,235.18 L420.57,235.73 L421.40,236.58 L422.24,236.44 L423.07,237.65 L423.91,238.80 L424.74,239.08 L425.58,240.41 L426.41,240.89 L427.25,241.70 L428.09,241.85 L428.92,243.73 L429.76,243.75 L430.59,243.69 L431.43,244.41 L432.26,246.10 L433.10,245.32 L433.94,246.39 L434.77,246.95 L435.61,247.01 L436.44,246.97 L437.28,248.04 L438.11,248.57 L438.95,249.36 L439.78,249.63 L440.62,249.70 L441.46,250.48 L442.29,250.73 L443.13,250.95 L443.96,251.25 L444.80,251.47 L445.63,252.24 L446.47,251.79 L447.30,252.30 L448.14,252.90 L448.98,252.55 L449.81,253.31 L450.65,252.89 L451.48,253.76 L452.32,254.60 L453.15,254.86 L453.99,254.83 L454.83,255.00 L455.66,254.71 L456.50,256.40 L457.33,256.03 L458.17,256.51 L459.00,255.83 L459.84,256.35 L460.67,255.82 L461.51,257.18 L462.35,257.44 L463.18,256.35 L464.02,257.35 L464.85,257.83 L465.69,256.92 L466.52,257.05 L467.36,257.55 L468.19,257.90 L469.03,257.70 L469.87,258.49 L470.70,258.72 L471.54,259.03 L472.37,259.19 L473.21,259.68 L474.04,259.65 L474.88,258.65 L475.72,259.13 L476.55,259.00 L477.39,259.10 L478.22,259.65 L479.06,259.79 L479.89,260.11 L480.73,259.27 L481.56,259.52 L482.40,260.16" fill="none" stroke="#e830e8" stroke-width="0.9" stroke-linejoin="round" />
<path d="M273.50,263.10 L275.17,263.10 L276.84,263.10 L278.51,263.05 L280.18,262.81 L281.86,261.74 L283.53,258.50 L285.20,251.50 L286.87,240.63 L288.54,227.95 L290.21,216.05 L291.88,206.28 L293.55,198.74 L295.23,193.05 L296.90,188.79 L298.57,185.59 L300.24,183.19 L301.91,181.39 L303.58,180.04 L305.25,179.02 L306.92,178.27 L308.60,177.70 L310.27,177.27 L311.94,176.95 L313.61,176.71 L315.28,176.53 L316.95,176.40 L318.62,176.29 L320.29,176.22 L321.96,176.16 L323.64,176.12 L325.31,176.09 L326.98,176.06 L328.65,176.05 L330.32,176.03 L331.99,176.02 L333.66,176.01 L335.33,176.01 L337.01,176.00 L338.68,176.00 L340.35,176.00 L342.02,176.00 L343.69,176.00 L345.36,176.00 L347.03,175.99 L348.70,175.99 L350.38,175.99 L352.05,175.99 L353.72,175.99 L355.39,175.99 L357.06,175.99 L358.73,175.99 L360.40,175.99 L362.07,175.99 L363.74,175.99 L365.42,175.99 L367.09,175.99 L368.76,175.99 L370.43,175.99 L372.10,176.00 L373.77,176.01 L375.44,176.04 L377.11,176.10 L378.79,176.24 L380.46,176.50 L382.13,176.96 L383.80,177.70 L385.47,178.80 L387.14,180.35 L388.81,182.39 L390.48,184.91 L392.16,187.88 L393.83,191.20 L395.50,194.74 L397.17,198.37 L398.84,201.98 L400.51,205.49 L402.18,208.84 L403.85,212.03 L405.52,215.04 L407.20,217.87 L408.87,220.54 L410.54,223.05 L412.21,225.41 L413.88,227.63 L415.55,229.73 L417.22,231.69 L418.89,233.55 L420.57,235.29 L422.24,236.93 L423.91,238.47 L425.58,239.93 L427.25,241.29 L428.92,242.58 L430.59,243.79 L432.26,244.93 L433.94,246.00 L435.61,247.01 L437.28,247.96 L438.95,248.85 L440.62,249.69 L442.29,250.48 L443.96,251.23 L445.63,251.93 L447.30,252.59 L448.98,253.21 L450.65,253.79 L452.32,254.34 L453.99,254.86 L455.66,255.34 L457.33,255.80 L459.00,256.23 L460.67,256.64 L462.35,257.02 L464.02,257.38 L465.69,257.71 L467.36,258.03 L469.03,258.33 L470.70,258.61 L472.37,258.88 L474.04,259.13 L475.72,259.36 L477.39,259.58 L479.06,259.79 L480.73,259.98 L482.40,260.17" fill="none" stroke="#2a2a2a" stroke-width="0.8" stroke-linejoin="round" />
<path d="M273.50,263.10 L274.34,263.10 L275.17,263.10 L276.01,263.10 L276.84,263.10 L277.68,263.09 L278.51,263.08 L279.35,263.05 L280.18,262.97 L281.02,262.80 L281.86,262.48 L282.69,261.82 L283.53,260.83 L284.36,259.54 L285.20,257.29 L286.03,255.46 L286.87,252.33 L287.71,248.79 L288.54,244.98 L289.38,241.61 L290.21,236.94 L291.05,234.35 L291.88,231.64 L292.72,228.00 L293.55,226.05 L294.39,223.51 L295.23,220.52 L296.06,218.90 L296.90,216.92 L297.73,215.48 L298.57,213.89 L299.40,212.08 L300.24,210.32 L301.07,209.36 L301.91,208.21 L302.75,207.49 L303.58,206.29 L304.42,204.92 L305.25,203.79 L306.09,203.46 L306.92,202.58 L307.76,201.76 L308.60,201.60 L309.43,200.88 L310.27,200.64 L311.10,200.36 L311.94,199.51 L312.77,200.34 L313.61,198.79 L314.44,199.09 L315.28,198.35 L316.12,198.51 L316.95,196.68 L317.79,197.17 L318.62,197.40 L319.46,197.36 L320.29,197.95 L321.13,196.88 L321.96,197.15 L322.80,196.77 L323.64,196.72 L324.47,196.40 L325.31,195.99 L326.14,196.19 L326.98,195.38 L327.81,196.31 L328.65,195.24 L329.49,195.73 L330.32,196.51 L331.16,195.39 L331.99,195.44 L332.83,195.91 L333.66,195.35 L334.50,194.93 L335.33,195.36 L336.17,195.47 L337.01,195.49 L337.84,194.80 L338.68,195.90 L339.51,195.84 L340.35,195.07 L341.18,195.16 L342.02,194.83 L342.85,195.64 L343.69,194.66 L344.53,195.27 L345.36,194.73 L346.20,194.62 L347.03,195.25 L347.87,195.51 L348.70,194.90 L349.54,194.59 L350.38,195.25 L351.21,194.85 L352.05,195.01 L352.88,195.55 L353.72,195.36 L354.55,194.61 L355.39,195.87 L356.22,194.84 L357.06,195.19 L357.90,194.54 L358.73,194.80 L359.57,194.03 L360.40,195.62 L361.24,195.43 L362.07,194.26 L362.91,194.13 L363.74,194.08 L364.58,195.33 L365.42,194.60 L366.25,194.77 L367.09,194.66 L367.92,194.74 L368.76,194.31 L369.59,194.81 L370.43,194.15 L371.27,194.76 L372.10,194.94 L372.94,195.01 L373.77,194.70 L374.61,194.41 L375.44,194.90 L376.28,194.63 L377.11,195.59 L377.95,195.28 L378.79,194.95 L379.62,194.89 L380.46,194.91 L381.29,194.98 L382.13,195.47 L382.96,196.05 L383.80,196.51 L384.63,196.97 L385.47,198.19 L386.31,197.55 L387.14,198.60 L387.98,200.67 L388.81,199.49 L389.65,201.12 L390.48,202.53 L391.32,203.71 L392.16,205.08 L392.99,206.11 L393.83,207.74 L394.66,208.99 L395.50,210.72 L396.33,210.94 L397.17,212.81 L398.00,214.61 L398.84,215.53 L399.68,216.88 L400.51,218.96 L401.35,219.69 L402.18,221.53 L403.02,222.81 L403.85,223.81 L404.69,225.06 L405.52,225.92 L406.36,226.43 L407.20,228.11 L408.03,229.37 L408.87,229.93 L409.70,231.09 L410.54,232.42 L411.37,232.60 L412.21,234.18 L413.05,235.59 L413.88,235.34 L414.72,236.47 L415.55,237.12 L416.39,238.65 L417.22,238.84 L418.06,239.83 L418.89,239.81 L419.73,240.79 L420.57,241.45 L421.40,241.30 L422.24,243.37 L423.07,243.73 L423.91,243.12 L424.74,244.81 L425.58,244.97 L426.41,245.76 L427.25,246.24 L428.09,245.91 L428.92,246.97 L429.76,248.21 L430.59,247.74 L431.43,247.99 L432.26,248.27 L433.10,248.75 L433.94,249.86 L434.77,250.87 L435.61,250.68 L436.44,250.97 L437.28,252.23 L438.11,251.34 L438.95,251.61 L439.78,252.48 L440.62,252.81 L441.46,252.42 L442.29,252.65 L443.13,253.60 L443.96,253.87 L444.80,253.45 L445.63,254.21 L446.47,254.32 L447.30,255.02 L448.14,255.01 L448.98,255.26 L449.81,255.37 L450.65,256.22 L451.48,256.59 L452.32,256.01 L453.15,256.76 L453.99,256.24 L454.83,256.81 L455.66,257.30 L456.50,257.82 L457.33,257.15 L458.17,257.46 L459.00,257.74 L459.84,257.14 L460.67,257.98 L461.51,257.82 L462.35,258.44 L463.18,257.91 L464.02,257.66 L464.85,258.70 L465.69,258.93 L466.52,258.70 L467.36,259.47 L468.19,259.06 L469.03,259.03 L469.87,259.63 L470.70,258.82 L471.54,259.32 L472.37,259.72 L473.21,260.21 L474.04,259.85 L474.88,260.16 L475.72,259.82 L476.55,260.34 L477.39,261.03 L478.22,260.06 L479.06,261.51 L479.89,260.24 L480.73,260.61 L481.56,260.76 L482.40,261.21" fill="none" stroke="#28d028" stroke-width="0.9" stroke-linejoin="round" />
<path d="M273.50,263.10 L275.17,263.10 L276.84,263.10 L278.51,263.08 L280.18,262.97 L281.86,262.48 L283.53,260.97 L285.20,257.63 L286.87,252.17 L288.54,245.29 L290.21,238.16 L291.88,231.62 L293.55,225.96 L295.23,221.14 L296.90,217.06 L298.57,213.62 L300.24,210.70 L301.91,208.24 L303.58,206.16 L305.25,204.40 L306.92,202.91 L308.60,201.66 L310.27,200.59 L311.94,199.69 L313.61,198.93 L315.28,198.29 L316.95,197.75 L318.62,197.29 L320.29,196.90 L321.96,196.57 L323.64,196.30 L325.31,196.06 L326.98,195.86 L328.65,195.70 L330.32,195.55 L331.99,195.43 L333.66,195.33 L335.33,195.25 L337.01,195.18 L338.68,195.11 L340.35,195.06 L342.02,195.02 L343.69,194.98 L345.36,194.95 L347.03,194.92 L348.70,194.90 L350.38,194.88 L352.05,194.87 L353.72,194.85 L355.39,194.84 L357.06,194.83 L358.73,194.82 L360.40,194.82 L362.07,194.81 L363.74,194.81 L365.42,194.80 L367.09,194.80 L368.76,194.80 L370.43,194.80 L372.10,194.80 L373.77,194.80 L375.44,194.83 L377.11,194.88 L378.79,195.00 L380.46,195.23 L382.13,195.63 L383.80,196.28 L385.47,197.25 L387.14,198.59 L388.81,200.33 L390.48,202.46 L392.16,204.90 L393.83,207.58 L395.50,210.38 L397.17,213.21 L398.84,215.99 L400.51,218.68 L402.18,221.24 L403.85,223.67 L405.52,225.97 L407.20,228.13 L408.87,230.16 L410.54,232.08 L412.21,233.89 L413.88,235.59 L415.55,237.19 L417.22,238.70 L418.89,240.12 L420.57,241.46 L422.24,242.72 L423.91,243.91 L425.58,245.02 L427.25,246.08 L428.92,247.07 L430.59,248.00 L432.26,248.88 L433.94,249.71 L435.61,250.49 L437.28,251.22 L438.95,251.91 L440.62,252.57 L442.29,253.18 L443.96,253.76 L445.63,254.30 L447.30,254.81 L448.98,255.30 L450.65,255.75 L452.32,256.18 L453.99,256.58 L455.66,256.96 L457.33,257.32 L459.00,257.66 L460.67,257.97 L462.35,258.27 L464.02,258.55 L465.69,258.82 L467.36,259.07 L469.03,259.30 L470.70,259.52 L472.37,259.73 L474.04,259.93 L475.72,260.11 L477.39,260.29 L479.06,260.45 L480.73,260.60 L482.40,260.75" fill="none" stroke="#2a2a2a" stroke-width="0.8" stroke-linejoin="round" />
<path d="M273.50,263.10 L274.34,263.10 L275.17,263.10 L276.01,263.10 L276.84,263.10 L277.68,263.10 L278.51,263.09 L279.35,263.07 L280.18,263.03 L281.02,262.94 L281.86,262.77 L282.69,261.92 L283.53,261.03 L284.36,261.51 L285.20,260.56 L286.03,259.14 L286.87,258.43 L287.71,255.50 L288.54,253.54 L289.38,251.80 L290.21,249.51 L291.05,248.10 L291.88,244.90 L292.72,243.48 L293.55,240.40 L294.39,240.72 L295.23,238.68 L296.06,237.86 L296.90,237.09 L297.73,234.88 L298.57,233.60 L299.40,232.40 L300.24,231.23 L301.07,230.36 L301.91,230.03 L302.75,228.92 L303.58,228.14 L304.42,227.29 L305.25,227.08 L306.09,226.24 L306.92,225.34 L307.76,225.13 L308.60,224.22 L309.43,223.27 L310.27,223.96 L311.10,223.07 L311.94,222.02 L312.77,222.54 L313.61,221.84 L314.44,220.64 L315.28,221.75 L316.12,220.87 L316.95,220.83 L317.79,220.26 L318.62,219.85 L319.46,218.98 L320.29,219.90 L321.13,219.27 L321.96,218.93 L322.80,219.04 L323.64,218.74 L324.47,218.85 L325.31,218.23 L326.14,218.24 L326.98,217.16 L327.81,217.81 L328.65,218.19 L329.49,218.38 L330.32,217.51 L331.16,217.53 L331.99,218.20 L332.83,217.26 L333.66,217.66 L334.50,218.01 L335.33,217.20 L336.17,217.67 L337.01,216.74 L337.84,217.09 L338.68,216.91 L339.51,216.95 L340.35,217.36 L341.18,217.88 L342.02,216.46 L342.85,216.46 L343.69,216.91 L344.53,216.18 L345.36,216.84 L346.20,216.85 L347.03,216.43 L347.87,216.77 L348.70,215.81 L349.54,216.83 L350.38,215.77 L351.21,216.13 L352.05,216.17 L352.88,216.22 L353.72,216.77 L354.55,216.41 L355.39,216.18 L356.22,216.59 L357.06,217.04 L357.90,216.32 L358.73,216.47 L359.57,216.85 L360.40,216.40 L361.24,215.70 L362.07,217.39 L362.91,217.25 L363.74,215.36 L364.58,216.22 L365.42,216.42 L366.25,216.66 L367.09,216.52 L367.92,216.09 L368.76,215.74 L369.59,216.25 L370.43,216.67 L371.27,215.71 L372.10,215.73 L372.94,216.18 L373.77,215.32 L374.61,216.08 L375.44,216.01 L376.28,216.42 L377.11,215.92 L377.95,215.87 L378.79,216.14 L379.62,216.36 L380.46,216.17 L381.29,216.59 L382.13,217.08 L382.96,217.47 L383.80,217.96 L384.63,217.14 L385.47,217.67 L386.31,217.17 L387.14,219.64 L387.98,219.02 L388.81,219.96 L389.65,220.91 L390.48,220.81 L391.32,222.44 L392.16,223.07 L392.99,223.15 L393.83,225.02 L394.66,226.36 L395.50,225.92 L396.33,228.07 L397.17,228.75 L398.00,229.80 L398.84,230.71 L399.68,232.00 L400.51,232.20 L401.35,233.56 L402.18,233.83 L403.02,235.16 L403.85,235.27 L404.69,236.37 L405.52,237.95 L406.36,238.11 L407.20,238.55 L408.03,238.80 L408.87,239.64 L409.70,240.74 L410.54,241.71 L411.37,242.10 L412.21,242.74 L413.05,243.07 L413.88,244.27 L414.72,244.04 L415.55,244.50 L416.39,245.67 L417.22,245.80 L418.06,246.14 L418.89,246.49 L419.73,247.09 L420.57,247.94 L421.40,248.26 L422.24,247.98 L423.07,249.13 L423.91,249.42 L424.74,249.28 L425.58,250.46 L426.41,250.35 L427.25,250.69 L428.09,251.54 L428.92,252.12 L429.76,251.54 L430.59,252.37 L431.43,252.09 L432.26,253.82 L433.10,252.85 L433.94,253.90 L434.77,253.35 L435.61,254.27 L436.44,255.17 L437.28,253.28 L438.11,254.47 L438.95,255.13 L439.78,255.10 L440.62,255.06 L441.46,256.55 L442.29,255.83 L443.13,255.27 L443.96,256.59 L444.80,255.63 L445.63,257.11 L446.47,256.52 L447.30,257.02 L448.14,257.70 L448.98,257.35 L449.81,256.84 L450.65,256.86 L451.48,258.31 L452.32,258.26 L453.15,257.71 L453.99,258.61 L454.83,258.58 L455.66,258.79 L456.50,257.61 L457.33,258.62 L458.17,259.28 L459.00,259.33 L459.84,259.51 L460.67,258.12 L461.51,259.41 L462.35,259.66 L463.18,260.69 L464.02,259.22 L464.85,259.60 L465.69,259.86 L466.52,260.33 L467.36,259.82 L468.19,260.63 L469.03,259.84 L469.87,260.40 L470.70,260.12 L471.54,260.51 L472.37,260.20 L473.21,259.87 L474.04,261.15 L474.88,260.86 L475.72,260.54 L476.55,260.95 L477.39,261.37 L478.22,260.54 L479.06,260.99 L479.89,261.34 L480.73,261.40 L481.56,261.06 L482.40,260.32" fill="none" stroke="#28d0d0" stroke-width="0.9" stroke-linejoin="round" />
<path d="M273.50,263.10 L275.17,263.10 L276.84,263.10 L278.51,263.09 L280.18,263.03 L281.86,262.77 L283.53,261.98 L285.20,260.20 L286.87,257.25 L288.54,253.43 L290.21,249.34 L291.88,245.45 L293.55,241.95 L295.23,238.85 L296.90,236.12 L298.57,233.72 L300.24,231.61 L301.91,229.75 L303.58,228.11 L305.25,226.67 L306.92,225.40 L308.60,224.29 L310.27,223.31 L311.94,222.45 L313.61,221.69 L315.28,221.02 L316.95,220.43 L318.62,219.92 L320.29,219.46 L321.96,219.06 L323.64,218.71 L325.31,218.40 L326.98,218.13 L328.65,217.89 L330.32,217.68 L331.99,217.49 L333.66,217.33 L335.33,217.18 L337.01,217.06 L338.68,216.94 L340.35,216.85 L342.02,216.76 L343.69,216.69 L345.36,216.62 L347.03,216.56 L348.70,216.51 L350.38,216.46 L352.05,216.42 L353.72,216.39 L355.39,216.36 L357.06,216.33 L358.73,216.31 L360.40,216.28 L362.07,216.27 L363.74,216.25 L365.42,216.24 L367.09,216.22 L368.76,216.21 L370.43,216.20 L372.10,216.20 L373.77,216.20 L375.44,216.21 L377.11,216.24 L378.79,216.32 L380.46,216.47 L382.13,216.74 L383.80,217.19 L385.47,217.86 L387.14,218.78 L388.81,219.98 L390.48,221.42 L392.16,223.08 L393.83,224.88 L395.50,226.76 L397.17,228.65 L398.84,230.51 L400.51,232.30 L402.18,234.01 L403.85,235.64 L405.52,237.17 L407.20,238.62 L408.87,239.99 L410.54,241.29 L412.21,242.51 L413.88,243.66 L415.55,244.75 L417.22,245.78 L418.89,246.75 L420.57,247.66 L422.24,248.52 L423.91,249.34 L425.58,250.11 L427.25,250.84 L428.92,251.52 L430.59,252.17 L432.26,252.78 L433.94,253.36 L435.61,253.91 L437.28,254.42 L438.95,254.91 L440.62,255.37 L442.29,255.80 L443.96,256.21 L445.63,256.59 L447.30,256.96 L448.98,257.30 L450.65,257.63 L452.32,257.93 L453.99,258.22 L455.66,258.49 L457.33,258.75 L459.00,259.00 L460.67,259.22 L462.35,259.44 L464.02,259.65 L465.69,259.84 L467.36,260.02 L469.03,260.19 L470.70,260.36 L472.37,260.51 L474.04,260.66 L475.72,260.79 L477.39,260.92 L479.06,261.04 L480.73,261.16 L482.40,261.27" fill="none" stroke="#2a2a2a" stroke-width="0.8" stroke-linejoin="round" />
<path d="M273.50,263.10 L274.34,263.10 L275.17,263.10 L276.01,263.10 L276.84,263.10 L277.68,263.10 L278.51,263.10 L279.35,263.09 L280.18,263.07 L281.02,263.03 L281.86,262.96 L282.69,263.39 L283.53,262.77 L284.36,262.31 L285.20,261.73 L286.03,261.39 L286.87,260.36 L287.71,259.27 L288.54,258.50 L289.38,257.62 L290.21,256.65 L291.05,255.46 L291.88,255.34 L292.72,253.57 L293.55,253.59 L294.39,252.01 L295.23,251.83 L296.06,251.54 L296.90,250.28 L297.73,249.17 L298.57,248.85 L299.40,248.26 L300.24,246.81 L301.07,246.73 L301.91,246.52 L302.75,245.71 L303.58,245.44 L304.42,245.25 L305.25,244.80 L306.09,244.41 L306.92,243.84 L307.76,243.04 L308.60,242.77 L309.43,242.28 L310.27,241.90 L311.10,241.62 L311.94,240.59 L312.77,240.90 L313.61,240.74 L314.44,240.03 L315.28,240.18 L316.12,240.16 L316.95,239.60 L317.79,240.37 L318.62,238.03 L319.46,238.89 L320.29,237.95 L321.13,239.01 L321.96,239.57 L322.80,237.06 L323.64,238.07 L324.47,238.07 L325.31,237.54 L326.14,237.77 L326.98,236.36 L327.81,237.61 L328.65,237.26 L329.49,236.97 L330.32,236.57 L331.16,237.01 L331.99,236.39 L332.83,236.60 L333.66,236.16 L334.50,235.28 L335.33,236.18 L336.17,236.19 L337.01,236.35 L337.84,235.54 L338.68,235.84 L339.51,236.05 L340.35,235.77 L341.18,236.19 L342.02,236.46 L342.85,235.09 L343.69,234.57 L344.53,235.76 L345.36,236.01 L346.20,235.68 L347.03,235.58 L347.87,234.89 L348.70,234.80 L349.54,235.47 L350.38,234.62 L351.21,234.17 L352.05,234.50 L352.88,236.03 L353.72,235.74 L354.55,234.53 L355.39,234.48 L356.22,234.88 L357.06,234.41 L357.90,235.30 L358.73,234.65 L359.57,234.17 L360.40,235.22 L361.24,234.35 L362.07,234.68 L362.91,234.56 L363.74,234.40 L364.58,234.67 L365.42,234.19 L366.25,233.65 L367.09,233.47 L367.92,233.88 L368.76,234.09 L369.59,234.40 L370.43,234.43 L371.27,234.64 L372.10,234.43 L372.94,234.00 L373.77,234.03 L374.61,233.39 L375.44,234.26 L376.28,234.55 L377.11,234.58 L377.95,234.29 L378.79,234.29 L379.62,234.82 L380.46,234.45 L381.29,234.84 L382.13,234.86 L382.96,234.80 L383.80,235.43 L384.63,234.76 L385.47,235.07 L386.31,235.12 L387.14,235.41 L387.98,236.80 L388.81,237.26 L389.65,236.89 L390.48,237.58 L391.32,238.32 L392.16,238.65 L392.99,239.34 L393.83,238.77 L394.66,239.59 L395.50,240.63 L396.33,241.62 L397.17,241.56 L398.00,241.67 L398.84,242.43 L399.68,242.82 L400.51,243.24 L401.35,244.81 L402.18,244.34 L403.02,245.11 L403.85,246.55 L404.69,246.56 L405.52,246.62 L406.36,246.63 L407.20,247.51 L408.03,248.47 L408.87,248.42 L409.70,249.10 L410.54,248.95 L411.37,249.51 L412.21,249.55 L413.05,250.18 L413.88,250.92 L414.72,250.02 L415.55,250.96 L416.39,251.41 L417.22,251.35 L418.06,251.77 L418.89,252.56 L419.73,253.39 L420.57,253.05 L421.40,253.18 L422.24,252.60 L423.07,254.42 L423.91,253.83 L424.74,254.03 L425.58,253.77 L426.41,254.48 L427.25,254.24 L428.09,254.98 L428.92,255.37 L429.76,255.38 L430.59,255.69 L431.43,255.38 L432.26,256.60 L433.10,255.85 L433.94,255.51 L434.77,256.42 L435.61,256.33 L436.44,256.39 L437.28,256.84 L438.11,257.29 L438.95,256.78 L439.78,257.41 L440.62,258.26 L441.46,258.06 L442.29,257.83 L443.13,258.09 L443.96,258.11 L444.80,258.27 L445.63,258.75 L446.47,258.50 L447.30,257.58 L448.14,258.76 L448.98,258.49 L449.81,259.29 L450.65,258.83 L451.48,259.27 L452.32,260.29 L453.15,258.94 L453.99,259.00 L454.83,258.96 L455.66,258.61 L456.50,258.93 L457.33,260.03 L458.17,259.66 L459.00,259.19 L459.84,259.44 L460.67,260.47 L461.51,259.92 L462.35,260.17 L463.18,260.56 L464.02,261.09 L464.85,261.42 L465.69,261.08 L466.52,260.74 L467.36,260.83 L468.19,261.62 L469.03,261.51 L469.87,260.78 L470.70,261.19 L471.54,261.16 L472.37,261.11 L473.21,260.92 L474.04,260.59 L474.88,261.00 L475.72,260.59 L476.55,261.89 L477.39,261.62 L478.22,260.88 L479.06,262.10 L479.89,261.91 L480.73,260.70 L481.56,262.42 L482.40,262.00" fill="none" stroke="#3030b0" stroke-width="0.9" stroke-linejoin="round" />
<path d="M273.50,263.10 L275.17,263.10 L276.84,263.10 L278.51,263.10 L280.18,263.07 L281.86,262.96 L283.53,262.62 L285.20,261.85 L286.87,260.55 L288.54,258.83 L290.21,256.93 L291.88,255.05 L293.55,253.29 L295.23,251.68 L296.90,250.19 L298.57,248.83 L300.24,247.59 L301.91,246.45 L303.58,245.41 L305.25,244.45 L306.92,243.58 L308.60,242.77 L310.27,242.04 L311.94,241.37 L313.61,240.75 L315.28,240.19 L316.95,239.67 L318.62,239.20 L320.29,238.77 L321.96,238.37 L323.64,238.01 L325.31,237.68 L326.98,237.37 L328.65,237.09 L330.32,236.84 L331.99,236.61 L333.66,236.39 L335.33,236.19 L337.01,236.02 L338.68,235.85 L340.35,235.70 L342.02,235.56 L343.69,235.44 L345.36,235.32 L347.03,235.21 L348.70,235.12 L350.38,235.03 L352.05,234.95 L353.72,234.87 L355.39,234.81 L357.06,234.74 L358.73,234.69 L360.40,234.63 L362.07,234.59 L363.74,234.54 L365.42,234.50 L367.09,234.46 L368.76,234.43 L370.43,234.40 L372.10,234.37 L373.77,234.35 L375.44,234.34 L377.11,234.34 L378.79,234.37 L380.46,234.44 L382.13,234.59 L383.80,234.85 L385.47,235.23 L387.14,235.77 L388.81,236.47 L390.48,237.32 L392.16,238.29 L393.83,239.33 L395.50,240.42 L397.17,241.52 L398.84,242.59 L400.51,243.63 L402.18,244.62 L403.85,245.57 L405.52,246.47 L407.20,247.33 L408.87,248.14 L410.54,248.91 L412.21,249.64 L413.88,250.33 L415.55,250.99 L417.22,251.61 L418.89,252.20 L420.57,252.76 L422.24,253.29 L423.91,253.80 L425.58,254.28 L427.25,254.73 L428.92,255.16 L430.59,255.57 L432.26,255.96 L433.94,256.32 L435.61,256.67 L437.28,257.00 L438.95,257.32 L440.62,257.61 L442.29,257.90 L443.96,258.16 L445.63,258.42 L447.30,258.66 L448.98,258.89 L450.65,259.10 L452.32,259.31 L453.99,259.50 L455.66,259.69 L457.33,259.86 L459.00,260.03 L460.67,260.19 L462.35,260.34 L464.02,260.48 L465.69,260.62 L467.36,260.74 L469.03,260.86 L470.70,260.98 L472.37,261.09 L474.04,261.19 L475.72,261.29 L477.39,261.38 L479.06,261.47 L480.73,261.55 L482.40,261.63" fill="none" stroke="#2a2a2a" stroke-width="0.8" stroke-linejoin="round" />
<path d="M273.50,263.10 L274.34,263.10 L275.17,263.10 L276.01,263.10 L276.84,263.10 L277.68,263.10 L278.51,263.10 L279.35,263.09 L280.18,263.09 L281.02,263.07 L281.86,263.04 L282.69,263.91 L283.53,262.33 L284.36,262.97 L285.20,262.72 L286.03,262.34 L286.87,262.00 L287.71,262.01 L288.54,260.44 L289.38,260.11 L290.21,259.58 L291.05,259.51 L291.88,259.04 L292.72,259.04 L293.55,258.57 L294.39,258.05 L295.23,257.34 L296.06,257.07 L296.90,257.33 L297.73,256.89 L298.57,256.25 L299.40,255.73 L300.24,256.25 L301.07,254.98 L301.91,255.24 L302.75,255.18 L303.58,254.27 L304.42,254.49 L305.25,253.36 L306.09,254.08 L306.92,253.47 L307.76,252.44 L308.60,253.23 L309.43,252.31 L310.27,253.09 L311.10,252.00 L311.94,252.04 L312.77,252.06 L313.61,251.60 L314.44,251.70 L315.28,251.16 L316.12,251.56 L316.95,251.10 L317.79,251.04 L318.62,249.57 L319.46,251.19 L320.29,250.55 L321.13,249.60 L321.96,250.32 L322.80,250.37 L323.64,250.52 L324.47,249.44 L325.31,250.52 L326.14,249.65 L326.98,250.69 L327.81,249.45 L328.65,249.73 L329.49,249.17 L330.32,248.75 L331.16,249.66 L331.99,249.49 L332.83,249.70 L333.66,249.32 L334.50,248.60 L335.33,248.04 L336.17,248.43 L337.01,248.35 L337.84,248.22 L338.68,248.79 L339.51,248.62 L340.35,248.29 L341.18,248.44 L342.02,248.24 L342.85,248.35 L343.69,248.55 L344.53,248.59 L345.36,247.81 L346.20,247.39 L347.03,248.67 L347.87,248.04 L348.70,248.45 L349.54,247.17 L350.38,247.73 L351.21,247.85 L352.05,247.16 L352.88,247.54 L353.72,248.07 L354.55,248.20 L355.39,248.40 L356.22,247.26 L357.06,246.99 L357.90,247.83 L358.73,248.00 L359.57,247.63 L360.40,246.94 L361.24,247.85 L362.07,247.84 L362.91,247.71 L363.74,247.22 L364.58,247.55 L365.42,247.75 L366.25,247.13 L367.09,246.53 L367.92,247.49 L368.76,247.54 L369.59,247.32 L370.43,247.70 L371.27,247.02 L372.10,247.23 L372.94,247.12 L373.77,247.50 L374.61,247.95 L375.44,247.11 L376.28,248.14 L377.11,247.90 L377.95,247.56 L378.79,247.48 L379.62,248.02 L380.46,247.16 L381.29,247.22 L382.13,246.83 L382.96,247.57 L383.80,248.03 L384.63,247.74 L385.47,247.80 L386.31,247.64 L387.14,247.95 L387.98,247.39 L388.81,248.69 L389.65,248.23 L390.48,248.14 L391.32,248.53 L392.16,248.75 L392.99,249.76 L393.83,250.12 L394.66,249.30 L395.50,250.60 L396.33,250.86 L397.17,250.48 L398.00,250.34 L398.84,250.95 L399.68,251.26 L400.51,251.96 L401.35,251.91 L402.18,251.41 L403.02,252.67 L403.85,252.12 L404.69,253.45 L405.52,252.73 L406.36,253.19 L407.20,253.33 L408.03,253.69 L408.87,254.73 L409.70,254.73 L410.54,254.82 L411.37,254.89 L412.21,254.24 L413.05,254.89 L413.88,255.06 L414.72,255.05 L415.55,255.89 L416.39,255.50 L417.22,255.68 L418.06,255.69 L418.89,255.39 L419.73,256.74 L420.57,257.23 L421.40,256.85 L422.24,256.48 L423.07,255.85 L423.91,257.28 L424.74,257.88 L425.58,257.60 L426.41,258.02 L427.25,258.39 L428.09,258.35 L428.92,257.77 L429.76,258.56 L430.59,258.55 L431.43,257.62 L432.26,258.24 L433.10,257.89 L433.94,258.59 L434.77,259.00 L435.61,258.36 L436.44,258.01 L437.28,259.61 L438.11,259.29 L438.95,259.88 L439.78,258.71 L440.62,259.87 L441.46,260.41 L442.29,260.46 L443.13,259.55 L443.96,259.84 L444.80,259.73 L445.63,260.32 L446.47,260.41 L447.30,260.06 L448.14,259.48 L448.98,260.49 L449.81,260.02 L450.65,260.58 L451.48,260.48 L452.32,261.15 L453.15,260.99 L453.99,260.34 L454.83,260.76 L455.66,261.45 L456.50,260.47 L457.33,260.96 L458.17,261.36 L459.00,261.44 L459.84,261.16 L460.67,260.38 L461.51,260.46 L462.35,261.18 L463.18,261.29 L464.02,262.31 L464.85,260.82 L465.69,261.76 L466.52,261.64 L467.36,260.58 L468.19,261.01 L469.03,261.49 L469.87,261.23 L470.70,261.42 L471.54,261.74 L472.37,261.20 L473.21,261.81 L474.04,261.35 L474.88,261.42 L475.72,261.94 L476.55,261.47 L477.39,261.89 L478.22,262.51 L479.06,261.84 L479.89,261.79 L480.73,262.21 L481.56,261.75 L482.40,262.42" fill="none" stroke="#d04040" stroke-width="0.9" stroke-linejoin="round" />
<path d="M273.50,263.10 L275.17,263.10 L276.84,263.10 L278.51,263.10 L280.18,263.09 L281.86,263.04 L283.53,262.88 L285.20,262.52 L286.87,261.92 L288.54,261.11 L290.21,260.21 L291.88,259.31 L293.55,258.45 L295.23,257.65 L296.90,256.90 L298.57,256.20 L300.24,255.55 L301.91,254.95 L303.58,254.39 L305.25,253.87 L306.92,253.38 L308.60,252.93 L310.27,252.51 L311.94,252.12 L313.61,251.75 L315.28,251.41 L316.95,251.10 L318.62,250.81 L320.29,250.53 L321.96,250.28 L323.64,250.04 L325.31,249.82 L326.98,249.62 L328.65,249.43 L330.32,249.25 L331.99,249.08 L333.66,248.93 L335.33,248.79 L337.01,248.65 L338.68,248.53 L340.35,248.42 L342.02,248.31 L343.69,248.21 L345.36,248.12 L347.03,248.03 L348.70,247.95 L350.38,247.87 L352.05,247.81 L353.72,247.74 L355.39,247.68 L357.06,247.62 L358.73,247.57 L360.40,247.52 L362.07,247.48 L363.74,247.44 L365.42,247.40 L367.09,247.36 L368.76,247.33 L370.43,247.30 L372.10,247.27 L373.77,247.24 L375.44,247.22 L377.11,247.21 L378.79,247.21 L380.46,247.24 L382.13,247.30 L383.80,247.42 L385.47,247.61 L387.14,247.87 L388.81,248.22 L390.48,248.64 L392.16,249.12 L393.83,249.64 L395.50,250.19 L397.17,250.74 L398.84,251.28 L400.51,251.81 L402.18,252.32 L403.85,252.81 L405.52,253.27 L407.20,253.72 L408.87,254.14 L410.54,254.55 L412.21,254.94 L413.88,255.31 L415.55,255.66 L417.22,256.00 L418.89,256.32 L420.57,256.63 L422.24,256.92 L423.91,257.20 L425.58,257.47 L427.25,257.72 L428.92,257.97 L430.59,258.20 L432.26,258.42 L433.94,258.63 L435.61,258.84 L437.28,259.03 L438.95,259.22 L440.62,259.39 L442.29,259.56 L443.96,259.72 L445.63,259.87 L447.30,260.02 L448.98,260.16 L450.65,260.29 L452.32,260.42 L453.99,260.54 L455.66,260.66 L457.33,260.77 L459.00,260.87 L460.67,260.97 L462.35,261.07 L464.02,261.16 L465.69,261.25 L467.36,261.33 L469.03,261.41 L470.70,261.49 L472.37,261.56 L474.04,261.63 L475.72,261.70 L477.39,261.76 L479.06,261.82 L480.73,261.88 L482.40,261.94" fill="none" stroke="#2a2a2a" stroke-width="0.8" stroke-linejoin="round" />
<line x1="522.30" y1="155.60" x2="522.30" y2="261.00" stroke="#555" stroke-width="1.2" />
<line x1="519.80" y1="260.40" x2="522.30" y2="260.40" stroke="#555" stroke-width="1.0" />
<text x="519.10" y="263.10" font-family="Liberation Sans" font-size="7.5" font-weight="normal" font-style="normal" text-anchor="end" fill="#444" >0.9</text>
<line x1="519.80" y1="234.20" x2="522.30" y2="234.20" stroke="#555" stroke-width="1.0" />
<text x="519.10" y="236.90" font-family="Liberation Sans" font-size="7.5" font-weight="normal" font-style="normal" text-anchor="end" fill="#444" >1.0</text>
<line x1="519.80" y1="208.00" x2="522.30" y2="208.00" stroke="#555" stroke-width="1.0" />
<text x="519.10" y="210.70" font-family="Liberation Sans" font-size="7.5" font-weight="normal" font-style="normal" text-anchor="end" fill="#444" >1.1</text>
<line x1="519.80" y1="181.80" x2="522.30" y2="181.80" stroke="#555" stroke-width="1.0" />
<text x="519.10" y="184.50" font-family="Liberation Sans" font-size="7.5" font-weight="normal" font-style="normal" text-anchor="end" fill="#444" >1.2</text>
<line x1="519.80" y1="155.60" x2="522.30" y2="155.60" stroke="#555" stroke-width="1.0" />
<text x="519.10" y="158.30" font-family="Liberation Sans" font-size="7.5" font-weight="normal" font-style="normal" text-anchor="end" fill="#444" >1.3</text>
<line x1="521.70" y1="260.40" x2="679.50" y2="260.40" stroke="#555" stroke-width="1.2" />
<line x1="522.50" y1="260.40" x2="522.50" y2="263.00" stroke="#555" stroke-width="1.0" />
<text x="522.50" y="269.80" font-family="Liberation Sans" font-size="7.5" font-weight="normal" font-style="normal" text-anchor="middle" fill="#444" >4</text>
<line x1="553.80" y1="260.40" x2="553.80" y2="263.00" stroke="#555" stroke-width="1.0" />
<text x="553.80" y="269.80" font-family="Liberation Sans" font-size="7.5" font-weight="normal" font-style="normal" text-anchor="middle" fill="#444" >8</text>
<line x1="585.10" y1="260.40" x2="585.10" y2="263.00" stroke="#555" stroke-width="1.0" />
<text x="585.10" y="269.80" font-family="Liberation Sans" font-size="7.5" font-weight="normal" font-style="normal" text-anchor="middle" fill="#444" >16</text>
<line x1="616.40" y1="260.40" x2="616.40" y2="263.00" stroke="#555" stroke-width="1.0" />
<text x="616.40" y="269.80" font-family="Liberation Sans" font-size="7.5" font-weight="normal" font-style="normal" text-anchor="middle" fill="#444" >32</text>
<line x1="647.70" y1="260.40" x2="647.70" y2="263.00" stroke="#555" stroke-width="1.0" />
<text x="647.70" y="269.80" font-family="Liberation Sans" font-size="7.5" font-weight="normal" font-style="normal" text-anchor="middle" fill="#444" >64</text>
<line x1="679.00" y1="260.40" x2="679.00" y2="263.00" stroke="#555" stroke-width="1.0" />
<text x="679.00" y="269.80" font-family="Liberation Sans" font-size="7.5" font-weight="normal" font-style="normal" text-anchor="middle" fill="#444" >128</text>
<text x="600.60" y="280.40" font-family="Liberation Sans" font-size="8.0" font-weight="normal" font-style="normal" text-anchor="middle" fill="#444" >%MTL</text>
<line x1="523" y1="234.3" x2="685" y2="234.3" stroke="#222" stroke-width="0.9" stroke-dasharray="2,1.6"/>
<line x1="528.50" y1="236.60" x2="528.50" y2="242.80" stroke="#333" stroke-width="0.8" />
<line x1="527.20" y1="236.60" x2="529.80" y2="236.60" stroke="#333" stroke-width="0.8" />
<line x1="527.20" y1="242.80" x2="529.80" y2="242.80" stroke="#333" stroke-width="0.8" />
<line x1="546.30" y1="181.90" x2="546.30" y2="192.40" stroke="#333" stroke-width="0.8" />
<line x1="545.00" y1="181.90" x2="547.60" y2="181.90" stroke="#333" stroke-width="0.8" />
<line x1="545.00" y1="192.40" x2="547.60" y2="192.40" stroke="#333" stroke-width="0.8" />
<line x1="563.30" y1="194.30" x2="563.30" y2="201.30" stroke="#333" stroke-width="0.8" />
<line x1="562.00" y1="194.30" x2="564.60" y2="194.30" stroke="#333" stroke-width="0.8" />
<line x1="562.00" y1="201.30" x2="564.60" y2="201.30" stroke="#333" stroke-width="0.8" />
<line x1="579.40" y1="214.40" x2="579.40" y2="218.00" stroke="#333" stroke-width="0.8" />
<line x1="578.10" y1="214.40" x2="580.70" y2="214.40" stroke="#333" stroke-width="0.8" />
<line x1="578.10" y1="218.00" x2="580.70" y2="218.00" stroke="#333" stroke-width="0.8" />
<line x1="594.70" y1="224.80" x2="594.70" y2="228.00" stroke="#333" stroke-width="0.8" />
<line x1="593.40" y1="224.80" x2="596.00" y2="224.80" stroke="#333" stroke-width="0.8" />
<line x1="593.40" y1="228.00" x2="596.00" y2="228.00" stroke="#333" stroke-width="0.8" />
<path d="M528.50,240.60 L546.30,234.90 L563.30,236.30 L579.40,234.30 L594.70,236.00 L608.60,235.50 L621.30,236.30 L632.40,239.40 L641.70,239.70 L648.80,242.30 L654.40,243.10" fill="none" stroke="#ff3030" stroke-width="0.8" stroke-linejoin="round" />
<circle cx="528.5" cy="240.6" r="1.6" fill="#ff0000"/>
<circle cx="546.3" cy="234.9" r="1.6" fill="#ff0000"/>
<circle cx="563.3" cy="236.3" r="1.6" fill="#ff0000"/>
<circle cx="579.4" cy="234.3" r="1.6" fill="#ff0000"/>
<circle cx="594.7" cy="236.0" r="1.6" fill="#ff0000"/>
<circle cx="608.6" cy="235.5" r="1.6" fill="#ff0000"/>
<circle cx="621.3" cy="236.3" r="1.6" fill="#ff0000"/>
<circle cx="632.4" cy="239.4" r="1.6" fill="#ff0000"/>
<circle cx="641.7" cy="239.7" r="1.6" fill="#ff0000"/>
<circle cx="648.8" cy="242.3" r="1.6" fill="#ff0000"/>
<circle cx="654.4" cy="243.1" r="1.6" fill="#ff0000"/>
<path d="M528.50,239.20 L546.30,187.40 L563.30,197.80 L579.40,216.20 L594.70,226.40 L608.60,235.50 L621.30,241.70 L632.40,246.20 L641.70,243.40 L648.80,241.10 L654.40,231.80" fill="none" stroke="#5a6cff" stroke-width="0.8" stroke-linejoin="round" />
<circle cx="528.5" cy="239.2" r="1.9" fill="#0000ff"/>
<circle cx="546.3" cy="187.4" r="1.9" fill="#0000ff"/>
<circle cx="563.3" cy="197.8" r="1.9" fill="#0000ff"/>
<circle cx="579.4" cy="216.2" r="1.9" fill="#0000ff"/>
<circle cx="594.7" cy="226.4" r="1.9" fill="#0000ff"/>
<circle cx="608.6" cy="235.5" r="1.9" fill="#0000ff"/>
<circle cx="621.3" cy="241.7" r="1.9" fill="#0000ff"/>
<circle cx="632.4" cy="246.2" r="1.9" fill="#0000ff"/>
<circle cx="641.7" cy="243.4" r="1.9" fill="#0000ff"/>
<circle cx="648.8" cy="241.1" r="1.9" fill="#0000ff"/>
<circle cx="654.4" cy="231.8" r="1.9" fill="#0000ff"/>
<g transform="translate(504.4,206.5) rotate(-90)"><text x="0" y="0" text-anchor="middle" font-family="Liberation Sans" fill="#444" font-size="8.6"><tspan font-style="italic">k</tspan><tspan font-style="italic" font-size="6" dy="1.6">a</tspan><tspan dy="-1.6"> x 10</tspan><tspan font-size="5.8" dy="-3.4">7</tspan><tspan dy="3.4"> (M</tspan><tspan font-size="5.8" dy="-3.4">-1</tspan><tspan dy="3.4">s</tspan><tspan font-size="5.8" dy="-3.4">-1</tspan><tspan dy="3.4">)</tspan></text></g>
<line x1="59.40" y1="298.75" x2="59.40" y2="399.20" stroke="#555" stroke-width="1.2" />
<line x1="56.00" y1="398.60" x2="59.40" y2="398.60" stroke="#555" stroke-width="1.0" />
<text x="55.30" y="401.23" font-family="Liberation Sans" font-size="7.3" font-weight="normal" font-style="normal" text-anchor="end" fill="#444" >90</text>
<line x1="56.00" y1="373.64" x2="59.40" y2="373.64" stroke="#555" stroke-width="1.0" />
<text x="55.30" y="376.26" font-family="Liberation Sans" font-size="7.3" font-weight="normal" font-style="normal" text-anchor="end" fill="#444" >100</text>
<line x1="56.00" y1="348.67" x2="59.40" y2="348.67" stroke="#555" stroke-width="1.0" />
<text x="55.30" y="351.30" font-family="Liberation Sans" font-size="7.3" font-weight="normal" font-style="normal" text-anchor="end" fill="#444" >110</text>
<line x1="56.00" y1="323.71" x2="59.40" y2="323.71" stroke="#555" stroke-width="1.0" />
<text x="55.30" y="326.34" font-family="Liberation Sans" font-size="7.3" font-weight="normal" font-style="normal" text-anchor="end" fill="#444" >120</text>
<line x1="56.00" y1="298.75" x2="59.40" y2="298.75" stroke="#555" stroke-width="1.0" />
<text x="55.30" y="301.38" font-family="Liberation Sans" font-size="7.3" font-weight="normal" font-style="normal" text-anchor="end" fill="#444" >130</text>
<line x1="58.80" y1="398.60" x2="209.65" y2="398.60" stroke="#555" stroke-width="1.2" />
<line x1="59.40" y1="398.60" x2="59.40" y2="401.20" stroke="#555" stroke-width="1.0" />
<text x="59.40" y="408.10" font-family="Liberation Sans" font-size="7.5" font-weight="normal" font-style="normal" text-anchor="middle" fill="#444" >4</text>
<line x1="89.35" y1="398.60" x2="89.35" y2="401.20" stroke="#555" stroke-width="1.0" />
<text x="89.35" y="408.10" font-family="Liberation Sans" font-size="7.5" font-weight="normal" font-style="normal" text-anchor="middle" fill="#444" >8</text>
<line x1="119.30" y1="398.60" x2="119.30" y2="401.20" stroke="#555" stroke-width="1.0" />
<text x="119.30" y="408.10" font-family="Liberation Sans" font-size="7.5" font-weight="normal" font-style="normal" text-anchor="middle" fill="#444" >16</text>
<line x1="149.25" y1="398.60" x2="149.25" y2="401.20" stroke="#555" stroke-width="1.0" />
<text x="149.25" y="408.10" font-family="Liberation Sans" font-size="7.5" font-weight="normal" font-style="normal" text-anchor="middle" fill="#444" >32</text>
<line x1="179.20" y1="398.60" x2="179.20" y2="401.20" stroke="#555" stroke-width="1.0" />
<text x="179.20" y="408.10" font-family="Liberation Sans" font-size="7.5" font-weight="normal" font-style="normal" text-anchor="middle" fill="#444" >64</text>
<line x1="209.15" y1="398.60" x2="209.15" y2="401.20" stroke="#555" stroke-width="1.0" />
<text x="209.15" y="408.10" font-family="Liberation Sans" font-size="7.5" font-weight="normal" font-style="normal" text-anchor="middle" fill="#444" >128</text>
<text x="134.10" y="418.30" font-family="Liberation Sans" font-size="8.0" font-weight="normal" font-style="normal" text-anchor="middle" fill="#444" >%MTL</text>
<line x1="60" y1="374.1" x2="209.6" y2="374.1" stroke="#222" stroke-width="0.9" stroke-dasharray="2,1.6"/>
<line x1="65.30" y1="376.00" x2="65.30" y2="382.50" stroke="#333" stroke-width="0.8" />
<line x1="64.00" y1="376.00" x2="66.60" y2="376.00" stroke="#333" stroke-width="0.8" />
<line x1="64.00" y1="382.50" x2="66.60" y2="382.50" stroke="#333" stroke-width="0.8" />
<line x1="82.40" y1="323.90" x2="82.40" y2="333.90" stroke="#333" stroke-width="0.8" />
<line x1="81.10" y1="323.90" x2="83.70" y2="323.90" stroke="#333" stroke-width="0.8" />
<line x1="81.10" y1="333.90" x2="83.70" y2="333.90" stroke="#333" stroke-width="0.8" />
<line x1="98.70" y1="332.80" x2="98.70" y2="340.20" stroke="#333" stroke-width="0.8" />
<line x1="97.40" y1="332.80" x2="100.00" y2="332.80" stroke="#333" stroke-width="0.8" />
<line x1="97.40" y1="340.20" x2="100.00" y2="340.20" stroke="#333" stroke-width="0.8" />
<line x1="113.80" y1="352.30" x2="113.80" y2="355.80" stroke="#333" stroke-width="0.8" />
<line x1="112.50" y1="352.30" x2="115.10" y2="352.30" stroke="#333" stroke-width="0.8" />
<line x1="112.50" y1="355.80" x2="115.10" y2="355.80" stroke="#333" stroke-width="0.8" />
<line x1="128.50" y1="365.00" x2="128.50" y2="368.00" stroke="#333" stroke-width="0.8" />
<line x1="127.20" y1="365.00" x2="129.80" y2="365.00" stroke="#333" stroke-width="0.8" />
<line x1="127.20" y1="368.00" x2="129.80" y2="368.00" stroke="#333" stroke-width="0.8" />
<path d="M65.30,380.30 L82.40,375.20 L98.70,374.10 L113.80,371.40 L128.50,374.60 L142.00,374.10 L154.30,374.30 L164.30,377.10 L173.50,377.90 L180.00,380.30 L185.40,383.80" fill="none" stroke="#ff3030" stroke-width="0.8" stroke-linejoin="round" />
<circle cx="65.3" cy="380.3" r="1.6" fill="#ff0000"/>
<circle cx="82.4" cy="375.2" r="1.6" fill="#ff0000"/>
<circle cx="98.7" cy="374.1" r="1.6" fill="#ff0000"/>
<circle cx="113.8" cy="371.4" r="1.6" fill="#ff0000"/>
<circle cx="128.5" cy="374.6" r="1.6" fill="#ff0000"/>
<circle cx="142.0" cy="374.1" r="1.6" fill="#ff0000"/>
<circle cx="154.3" cy="374.3" r="1.6" fill="#ff0000"/>
<circle cx="164.3" cy="377.1" r="1.6" fill="#ff0000"/>
<circle cx="173.5" cy="377.9" r="1.6" fill="#ff0000"/>
<circle cx="180.0" cy="380.3" r="1.6" fill="#ff0000"/>
<circle cx="185.4" cy="383.8" r="1.6" fill="#ff0000"/>
<path d="M65.30,378.40 L82.40,328.80 L98.70,336.60 L113.80,354.00 L128.50,366.50 L142.00,374.10 L154.30,379.50 L164.30,383.60 L173.50,381.70 L180.00,379.80 L185.40,374.10" fill="none" stroke="#5a6cff" stroke-width="0.8" stroke-linejoin="round" />
<circle cx="65.3" cy="378.4" r="1.9" fill="#0000ff"/>
<circle cx="82.4" cy="328.8" r="1.9" fill="#0000ff"/>
<circle cx="98.7" cy="336.6" r="1.9" fill="#0000ff"/>
<circle cx="113.8" cy="354.0" r="1.9" fill="#0000ff"/>
<circle cx="128.5" cy="366.5" r="1.9" fill="#0000ff"/>
<circle cx="142.0" cy="374.1" r="1.9" fill="#0000ff"/>
<circle cx="154.3" cy="379.5" r="1.9" fill="#0000ff"/>
<circle cx="164.3" cy="383.6" r="1.9" fill="#0000ff"/>
<circle cx="173.5" cy="381.7" r="1.9" fill="#0000ff"/>
<circle cx="180.0" cy="379.8" r="1.9" fill="#0000ff"/>
<circle cx="185.4" cy="374.1" r="1.9" fill="#0000ff"/>
<g transform="translate(42.2,347) rotate(-90)"><text x="0" y="0" text-anchor="middle" font-family="Liberation Sans" fill="#444" font-size="9.6"><tspan font-style="italic">k</tspan><tspan font-style="italic" font-size="6.5" dy="1.6">d</tspan><tspan dy="-1.6"> (s</tspan><tspan font-size="6.4" dy="-3.6">-1</tspan><tspan dy="3.6">)</tspan></text></g>
<line x1="274.40" y1="296.00" x2="274.40" y2="398.60" stroke="#555" stroke-width="1.2" />
<line x1="269.40" y1="398.00" x2="274.40" y2="398.00" stroke="#555" stroke-width="1.0" />
<text x="268.70" y="400.81" font-family="Liberation Sans" font-size="7.8" font-weight="normal" font-style="normal" text-anchor="end" fill="#444" >0.5</text>
<line x1="269.40" y1="377.60" x2="274.40" y2="377.60" stroke="#555" stroke-width="1.0" />
<text x="268.70" y="380.41" font-family="Liberation Sans" font-size="7.8" font-weight="normal" font-style="normal" text-anchor="end" fill="#444" >1.0</text>
<line x1="269.40" y1="357.20" x2="274.40" y2="357.20" stroke="#555" stroke-width="1.0" />
<text x="268.70" y="360.01" font-family="Liberation Sans" font-size="7.8" font-weight="normal" font-style="normal" text-anchor="end" fill="#444" >1.5</text>
<line x1="269.40" y1="336.80" x2="274.40" y2="336.80" stroke="#555" stroke-width="1.0" />
<text x="268.70" y="339.61" font-family="Liberation Sans" font-size="7.8" font-weight="normal" font-style="normal" text-anchor="end" fill="#444" >2.0</text>
<line x1="269.40" y1="316.40" x2="274.40" y2="316.40" stroke="#555" stroke-width="1.0" />
<text x="268.70" y="319.21" font-family="Liberation Sans" font-size="7.8" font-weight="normal" font-style="normal" text-anchor="end" fill="#444" >2.5</text>
<line x1="269.40" y1="296.00" x2="274.40" y2="296.00" stroke="#555" stroke-width="1.0" />
<text x="268.70" y="298.81" font-family="Liberation Sans" font-size="7.8" font-weight="normal" font-style="normal" text-anchor="end" fill="#444" >3.0</text>
<line x1="273.80" y1="398.00" x2="427.10" y2="398.00" stroke="#555" stroke-width="1.2" />
<line x1="274.10" y1="398.00" x2="274.10" y2="400.80" stroke="#555" stroke-width="1.0" />
<text x="274.10" y="410.20" font-family="Liberation Sans" font-size="7.8" font-weight="normal" font-style="normal" text-anchor="middle" fill="#444" >4</text>
<line x1="304.60" y1="398.00" x2="304.60" y2="400.80" stroke="#555" stroke-width="1.0" />
<text x="304.60" y="410.20" font-family="Liberation Sans" font-size="7.8" font-weight="normal" font-style="normal" text-anchor="middle" fill="#444" >8</text>
<line x1="335.10" y1="398.00" x2="335.10" y2="400.80" stroke="#555" stroke-width="1.0" />
<text x="335.10" y="410.20" font-family="Liberation Sans" font-size="7.8" font-weight="normal" font-style="normal" text-anchor="middle" fill="#444" >16</text>
<line x1="365.60" y1="398.00" x2="365.60" y2="400.80" stroke="#555" stroke-width="1.0" />
<text x="365.60" y="410.20" font-family="Liberation Sans" font-size="7.8" font-weight="normal" font-style="normal" text-anchor="middle" fill="#444" >32</text>
<line x1="396.10" y1="398.00" x2="396.10" y2="400.80" stroke="#555" stroke-width="1.0" />
<text x="396.10" y="410.20" font-family="Liberation Sans" font-size="7.8" font-weight="normal" font-style="normal" text-anchor="middle" fill="#444" >64</text>
<line x1="426.60" y1="398.00" x2="426.60" y2="400.80" stroke="#555" stroke-width="1.0" />
<text x="426.60" y="410.20" font-family="Liberation Sans" font-size="7.8" font-weight="normal" font-style="normal" text-anchor="middle" fill="#444" >128</text>
<text x="349.70" y="421.00" font-family="Liberation Sans" font-size="8.0" font-weight="normal" font-style="normal" text-anchor="middle" fill="#444" >%MTL</text>
<line x1="280" y1="309" x2="403" y2="309" stroke="#333" stroke-width="0.8" stroke-dasharray="1.4,1.4"/>
<line x1="280.00" y1="309.00" x2="280.00" y2="344.20" stroke="#6a78ff" stroke-width="1.3" />
<line x1="278.40" y1="309.00" x2="281.60" y2="309.00" stroke="#6a78ff" stroke-width="1.3" />
<line x1="278.40" y1="344.20" x2="281.60" y2="344.20" stroke="#6a78ff" stroke-width="1.3" />
<line x1="297.10" y1="380.50" x2="297.10" y2="384.90" stroke="#0000ff" stroke-width="0.9" />
<line x1="295.90" y1="380.50" x2="298.30" y2="380.50" stroke="#0000ff" stroke-width="0.9" />
<line x1="295.90" y1="384.90" x2="298.30" y2="384.90" stroke="#0000ff" stroke-width="0.9" />
<line x1="313.70" y1="364.50" x2="313.70" y2="368.90" stroke="#0000ff" stroke-width="0.9" />
<line x1="312.50" y1="364.50" x2="314.90" y2="364.50" stroke="#0000ff" stroke-width="0.9" />
<line x1="312.50" y1="368.90" x2="314.90" y2="368.90" stroke="#0000ff" stroke-width="0.9" />
<line x1="329.10" y1="335.30" x2="329.10" y2="339.70" stroke="#0000ff" stroke-width="0.9" />
<line x1="327.90" y1="335.30" x2="330.30" y2="335.30" stroke="#0000ff" stroke-width="0.9" />
<line x1="327.90" y1="339.70" x2="330.30" y2="339.70" stroke="#0000ff" stroke-width="0.9" />
<line x1="344.00" y1="318.70" x2="344.00" y2="323.10" stroke="#0000ff" stroke-width="0.9" />
<line x1="342.80" y1="318.70" x2="345.20" y2="318.70" stroke="#0000ff" stroke-width="0.9" />
<line x1="342.80" y1="323.10" x2="345.20" y2="323.10" stroke="#0000ff" stroke-width="0.9" />
<path d="M280.00,326.90 L297.10,382.70 L313.70,366.70 L329.10,337.50 L344.00,320.90 L357.60,309.00 L370.10,304.60 L380.60,305.20 L389.60,307.60 L396.40,309.00 L402.10,310.90" fill="none" stroke="#5a6cff" stroke-width="0.9" stroke-linejoin="round" />
<circle cx="280.0" cy="326.9" r="2.0" fill="#0000ff"/>
<circle cx="297.1" cy="382.7" r="2.0" fill="#0000ff"/>
<circle cx="313.7" cy="366.7" r="2.0" fill="#0000ff"/>
<circle cx="329.1" cy="337.5" r="2.0" fill="#0000ff"/>
<circle cx="344.0" cy="320.9" r="2.0" fill="#0000ff"/>
<circle cx="357.6" cy="309.0" r="2.0" fill="#0000ff"/>
<circle cx="370.1" cy="304.6" r="2.0" fill="#0000ff"/>
<circle cx="380.6" cy="305.2" r="2.0" fill="#0000ff"/>
<circle cx="389.6" cy="307.6" r="2.0" fill="#0000ff"/>
<circle cx="396.4" cy="309.0" r="2.0" fill="#0000ff"/>
<circle cx="402.1" cy="310.9" r="2.0" fill="#0000ff"/>
<g transform="translate(253.6,347) rotate(-90)"><text x="0" y="0" text-anchor="middle" font-family="Liberation Sans" fill="#333" font-size="9.8"><tspan font-style="italic">k</tspan><tspan font-style="italic" font-size="6.5" dy="1.6">t</tspan><tspan dy="-1.6"> (x 10</tspan><tspan font-size="6.4" dy="-3.6">8</tspan><tspan dy="3.6">) (m s</tspan><tspan font-size="6.4" dy="-3.6">-1</tspan><tspan dy="3.6">)</tspan></text></g>
<line x1="524.75" y1="297.25" x2="524.75" y2="399.50" stroke="#555" stroke-width="1.2" />
<line x1="519.95" y1="398.90" x2="524.75" y2="398.90" stroke="#555" stroke-width="1.0" />
<text x="519.25" y="401.71" font-family="Liberation Sans" font-size="7.8" font-weight="normal" font-style="normal" text-anchor="end" fill="#444" >0.000</text>
<line x1="519.95" y1="373.52" x2="524.75" y2="373.52" stroke="#555" stroke-width="1.0" />
<text x="519.25" y="376.33" font-family="Liberation Sans" font-size="7.8" font-weight="normal" font-style="normal" text-anchor="end" fill="#444" >0.002</text>
<line x1="519.95" y1="348.15" x2="524.75" y2="348.15" stroke="#555" stroke-width="1.0" />
<text x="519.25" y="350.96" font-family="Liberation Sans" font-size="7.8" font-weight="normal" font-style="normal" text-anchor="end" fill="#444" >0.004</text>
<line x1="519.95" y1="322.77" x2="524.75" y2="322.77" stroke="#555" stroke-width="1.0" />
<text x="519.25" y="325.58" font-family="Liberation Sans" font-size="7.8" font-weight="normal" font-style="normal" text-anchor="end" fill="#444" >0.006</text>
<line x1="519.95" y1="297.40" x2="524.75" y2="297.40" stroke="#555" stroke-width="1.0" />
<text x="519.25" y="300.21" font-family="Liberation Sans" font-size="7.8" font-weight="normal" font-style="normal" text-anchor="end" fill="#444" >0.008</text>
<line x1="524.15" y1="398.90" x2="678.35" y2="398.90" stroke="#555" stroke-width="1.2" />
<line x1="524.60" y1="398.90" x2="524.60" y2="401.50" stroke="#555" stroke-width="1.0" />
<text x="524.60" y="412.40" font-family="Liberation Sans" font-size="7.8" font-weight="normal" font-style="normal" text-anchor="middle" fill="#444" >4</text>
<line x1="555.25" y1="398.90" x2="555.25" y2="401.50" stroke="#555" stroke-width="1.0" />
<text x="555.25" y="412.40" font-family="Liberation Sans" font-size="7.8" font-weight="normal" font-style="normal" text-anchor="middle" fill="#444" >8</text>
<line x1="585.90" y1="398.90" x2="585.90" y2="401.50" stroke="#555" stroke-width="1.0" />
<text x="585.90" y="412.40" font-family="Liberation Sans" font-size="7.8" font-weight="normal" font-style="normal" text-anchor="middle" fill="#444" >16</text>
<line x1="616.55" y1="398.90" x2="616.55" y2="401.50" stroke="#555" stroke-width="1.0" />
<text x="616.55" y="412.40" font-family="Liberation Sans" font-size="7.8" font-weight="normal" font-style="normal" text-anchor="middle" fill="#444" >32</text>
<line x1="647.20" y1="398.90" x2="647.20" y2="401.50" stroke="#555" stroke-width="1.0" />
<text x="647.20" y="412.40" font-family="Liberation Sans" font-size="7.8" font-weight="normal" font-style="normal" text-anchor="middle" fill="#444" >64</text>
<line x1="677.85" y1="398.90" x2="677.85" y2="401.50" stroke="#555" stroke-width="1.0" />
<text x="677.85" y="412.40" font-family="Liberation Sans" font-size="7.8" font-weight="normal" font-style="normal" text-anchor="middle" fill="#444" >128</text>
<text x="601.10" y="423.40" font-family="Liberation Sans" font-size="8.0" font-weight="normal" font-style="normal" text-anchor="middle" fill="#444" >%MTL</text>
<path d="M530.80,398.50 L548.20,398.50 L565.00,398.50 L580.70,398.70 L595.70,397.90 L609.50,397.70 L621.70,396.60 L632.30,392.50 L641.20,387.90 L648.30,368.10 L653.70,318.50" fill="none" stroke="#ff3030" stroke-width="0.8" stroke-linejoin="round" />
<rect x="528.80" y="396.50" width="4.0" height="4.0" fill="#ff0000"/>
<rect x="546.20" y="396.50" width="4.0" height="4.0" fill="#ff0000"/>
<rect x="563.00" y="396.50" width="4.0" height="4.0" fill="#ff0000"/>
<rect x="578.70" y="396.70" width="4.0" height="4.0" fill="#ff0000"/>
<rect x="593.70" y="395.90" width="4.0" height="4.0" fill="#ff0000"/>
<rect x="607.50" y="395.70" width="4.0" height="4.0" fill="#ff0000"/>
<rect x="619.70" y="394.60" width="4.0" height="4.0" fill="#ff0000"/>
<rect x="630.30" y="390.50" width="4.0" height="4.0" fill="#ff0000"/>
<rect x="639.20" y="385.90" width="4.0" height="4.0" fill="#ff0000"/>
<rect x="646.30" y="366.10" width="4.0" height="4.0" fill="#ff0000"/>
<rect x="651.70" y="316.50" width="4.0" height="4.0" fill="#ff0000"/>
<path d="M530.80,335.00 L548.20,373.50 L565.00,381.10 L580.70,387.60 L595.70,383.80 L609.50,386.00 L621.70,383.80 L632.30,373.50 L641.20,369.70 L648.30,343.20 L653.70,306.80" fill="none" stroke="#5a6cff" stroke-width="0.8" stroke-linejoin="round" />
<circle cx="530.8" cy="335.0" r="2.4" fill="#0000ff"/>
<circle cx="548.2" cy="373.5" r="2.4" fill="#0000ff"/>
<circle cx="565.0" cy="381.1" r="2.4" fill="#0000ff"/>
<circle cx="580.7" cy="387.6" r="2.4" fill="#0000ff"/>
<circle cx="595.7" cy="383.8" r="2.4" fill="#0000ff"/>
<circle cx="609.5" cy="386.0" r="2.4" fill="#0000ff"/>
<circle cx="621.7" cy="383.8" r="2.4" fill="#0000ff"/>
<circle cx="632.3" cy="373.5" r="2.4" fill="#0000ff"/>
<circle cx="641.2" cy="369.7" r="2.4" fill="#0000ff"/>
<circle cx="648.3" cy="343.2" r="2.4" fill="#0000ff"/>
<circle cx="653.7" cy="306.8" r="2.4" fill="#0000ff"/>
<g transform="translate(496.6,350.3) rotate(-90)"><text x="0" y="0" text-anchor="middle" font-family="Liberation Sans" fill="#333" font-size="10.6"><tspan>%</tspan><tspan font-style="italic">&#967;</tspan><tspan font-size="6.4" dy="-3.6">2</tspan><tspan dy="3.6"> (RU)</tspan><tspan font-size="6.4" dy="-3.6">2</tspan></text></g>
</svg>
</body></html>
